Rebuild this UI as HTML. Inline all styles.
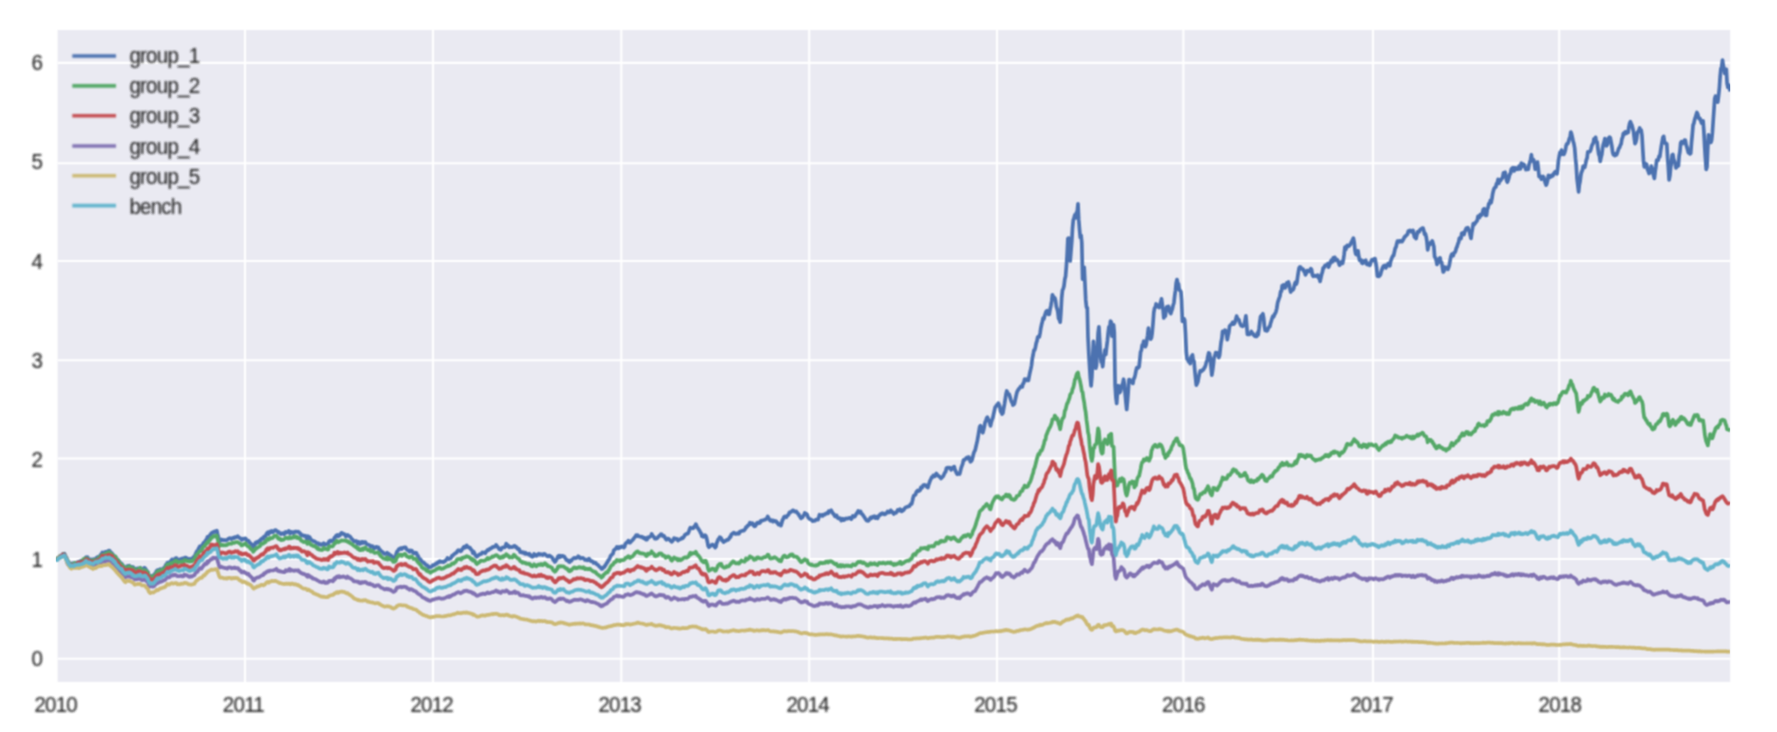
<!DOCTYPE html>
<html><head><meta charset="utf-8"><title>chart</title>
<style>
html,body{margin:0;padding:0;background:#fff;}
body{width:1777px;height:732px;overflow:hidden;}
svg{display:block;}
.t text{font-family:"Liberation Sans",Arial,sans-serif;font-size:20.5px;letter-spacing:-0.75px;}
</style></head><body>
<svg width="1777" height="732" viewBox="0 0 1777 732">
<defs><clipPath id="ax"><rect x="57.6" y="30.0" width="1672.6" height="651.9"/></clipPath><clipPath id="ln"><rect x="55.800000000000004" y="30.0" width="1674.4" height="651.9"/></clipPath><filter id="bl" filterUnits="userSpaceOnUse" x="0" y="0" width="1777" height="732" color-interpolation-filters="sRGB"><feConvolveMatrix order="3" kernelMatrix="1 2 1 2 4 2 1 2 1" divisor="16" edgeMode="duplicate" preserveAlpha="false" result="a"/><feConvolveMatrix in="a" order="3" kernelMatrix="1 2 1 2 4 2 1 2 1" divisor="16" edgeMode="duplicate" preserveAlpha="false"/></filter><filter id="bc" filterUnits="userSpaceOnUse" x="0" y="0" width="1777" height="732" color-interpolation-filters="sRGB"><feConvolveMatrix order="3" kernelMatrix="1 2 1 2 4 2 1 2 1" divisor="16" edgeMode="duplicate" preserveAlpha="false"/></filter><filter id="bt" filterUnits="userSpaceOnUse" x="0" y="0" width="1777" height="732"><feGaussianBlur stdDeviation="0.8"/></filter></defs>
<rect x="0" y="0" width="1777" height="732" fill="#fff"/>
<g filter="url(#bc)">
<rect x="57.6" y="30.0" width="1672.6" height="651.9" fill="#EAEAF2"/>
<g stroke="#fff" stroke-width="2.1" clip-path="url(#ax)">
<line x1="245.0" y1="30.0" x2="245.0" y2="681.9"/>
<line x1="433.0" y1="30.0" x2="433.0" y2="681.9"/>
<line x1="621.3" y1="30.0" x2="621.3" y2="681.9"/>
<line x1="809.2" y1="30.0" x2="809.2" y2="681.9"/>
<line x1="997.0" y1="30.0" x2="997.0" y2="681.9"/>
<line x1="1183.4" y1="30.0" x2="1183.4" y2="681.9"/>
<line x1="1373.0" y1="30.0" x2="1373.0" y2="681.9"/>
<line x1="1559.2" y1="30.0" x2="1559.2" y2="681.9"/>
<line x1="57.6" y1="658.8" x2="1730.2" y2="658.8"/>
<line x1="57.6" y1="559.0" x2="1730.2" y2="559.0"/>
<line x1="57.6" y1="458.5" x2="1730.2" y2="458.5"/>
<line x1="57.6" y1="360.2" x2="1730.2" y2="360.2"/>
<line x1="57.6" y1="261.0" x2="1730.2" y2="261.0"/>
<line x1="57.6" y1="163.3" x2="1730.2" y2="163.3"/>
<line x1="57.6" y1="62.9" x2="1730.2" y2="62.9"/>
</g>
</g>
<g clip-path="url(#ln)"><g fill="none" stroke-width="3.7" stroke-linejoin="round" stroke-linecap="butt" filter="url(#bc)">
<polyline stroke="#4C72B0" points="55.9,558.7 56.7,558.9 57.4,558.9 58.2,558.3 59.0,557.8 59.8,556.6 60.5,556.6 61.3,555.3 62.1,555.3 62.9,554.0 63.6,555.0 64.4,553.7 65.2,555.6 66.0,557.8 66.7,558.5 67.5,560.3 68.3,561.8 69.1,563.0 69.8,563.9 70.6,565.0 71.4,564.5 72.1,563.3 72.9,563.4 73.7,563.4 74.5,563.0 75.2,562.9 76.0,564.0 76.8,562.6 77.6,562.6 78.3,562.0 79.1,563.1 79.9,562.0 80.7,560.9 81.4,561.1 82.2,560.9 83.0,560.4 83.8,560.6 84.5,559.5 85.3,558.0 86.1,557.2 86.8,557.7 87.6,557.2 88.4,559.1 89.2,559.1 89.9,559.6 90.7,559.7 91.5,559.3 92.3,559.9 93.0,560.2 93.8,559.2 94.6,559.1 95.4,559.3 96.1,558.5 96.9,557.5 97.7,557.9 98.5,556.8 99.2,556.5 100.0,556.1 100.8,554.5 101.5,554.5 102.3,552.5 103.1,552.7 103.9,552.7 104.6,552.3 105.4,551.8 106.2,551.8 107.0,551.9 107.7,551.2 108.5,550.7 109.3,550.5 110.1,551.5 110.8,552.9 111.6,552.9 112.4,554.1 113.2,555.0 113.9,556.1 114.7,556.7 115.5,556.7 116.2,558.3 117.0,559.1 117.8,559.6 118.6,560.7 119.3,561.5 120.1,562.8 120.9,564.2 121.7,563.7 122.4,564.7 123.2,565.9 124.0,567.0 124.8,567.9 125.5,568.6 126.3,567.6 127.1,566.3 127.9,566.0 128.6,566.8 129.4,565.8 130.2,566.9 130.9,567.0 131.7,567.2 132.5,566.9 133.3,567.2 134.0,568.6 134.8,569.7 135.6,569.1 136.4,569.2 137.1,568.6 137.9,568.3 138.7,569.7 139.5,568.4 140.2,567.8 141.0,568.8 141.8,569.3 142.6,569.4 143.3,568.8 144.1,567.8 144.9,568.0 145.6,569.0 146.4,570.4 147.2,571.3 148.0,572.1 148.7,575.2 149.5,576.7 150.3,576.6 151.1,576.0 151.8,576.0 152.6,575.7 153.4,575.9 154.2,574.9 154.9,573.8 155.7,573.2 156.5,571.0 157.3,570.2 158.0,571.2 158.8,569.8 159.6,569.7 160.4,569.1 161.1,570.0 161.9,569.3 162.7,568.9 163.4,568.5 164.2,567.6 165.0,566.9 165.8,564.9 166.5,564.3 167.3,562.8 168.1,562.6 168.9,563.0 169.6,563.0 170.4,561.4 171.2,560.6 172.0,559.3 172.7,559.5 173.5,560.1 174.3,559.5 175.1,558.8 175.8,558.0 176.6,558.0 177.4,559.5 178.1,559.9 178.9,559.8 179.7,559.6 180.5,559.0 181.2,559.0 182.0,558.5 182.8,559.8 183.6,559.4 184.3,558.1 185.1,557.6 185.9,557.5 186.7,558.4 187.4,558.4 188.2,559.4 189.0,559.7 189.8,558.9 190.5,559.1 191.3,559.0 192.1,558.5 192.8,557.9 193.6,556.9 194.4,556.9 195.2,554.8 195.9,553.4 196.7,551.4 197.5,551.4 198.3,549.2 199.0,548.0 199.8,546.3 200.6,546.2 201.4,546.4 202.1,545.7 202.9,544.0 203.7,542.7 204.5,542.9 205.2,541.2 206.0,540.1 206.8,538.8 207.5,536.8 208.3,537.9 209.1,536.4 209.9,535.1 210.6,534.6 211.4,533.0 212.2,532.9 213.0,532.0 213.7,532.1 214.5,531.4 215.3,531.9 216.1,531.3 216.8,530.6 217.6,534.2 218.4,537.1 219.2,539.7 219.9,541.2 220.7,540.1 221.5,539.5 222.2,539.9 223.0,540.1 223.8,540.3 224.6,540.0 225.3,540.1 226.1,540.5 226.9,540.0 227.7,539.4 228.4,538.7 229.2,538.3 230.0,538.2 230.8,538.4 231.5,539.0 232.3,538.2 233.1,537.7 233.9,538.1 234.6,537.4 235.4,537.0 236.2,537.4 236.9,537.1 237.7,536.2 238.5,537.2 239.3,537.6 240.0,538.3 240.8,538.6 241.6,539.9 242.4,539.5 243.1,538.6 243.9,539.0 244.7,538.6 245.5,538.4 246.2,539.2 247.0,540.7 247.8,540.7 248.6,540.9 249.3,542.3 250.1,542.9 250.9,543.7 251.6,544.6 252.4,544.6 253.2,547.3 254.0,546.8 254.7,544.5 255.5,542.7 256.3,543.2 257.1,541.9 257.8,542.3 258.6,542.3 259.4,540.6 260.2,540.9 260.9,539.1 261.7,538.7 262.5,538.1 263.3,538.8 264.0,536.6 264.8,536.8 265.6,536.2 266.3,534.2 267.1,532.9 267.9,532.3 268.7,534.0 269.4,532.4 270.2,531.4 271.0,532.2 271.8,531.0 272.5,532.2 273.3,531.9 274.1,530.9 274.9,530.3 275.6,530.1 276.4,530.6 277.2,531.3 278.0,532.3 278.7,532.0 279.5,533.0 280.3,533.4 281.0,534.1 281.8,533.4 282.6,533.3 283.4,533.1 284.1,534.2 284.9,533.5 285.7,531.9 286.5,532.5 287.2,532.0 288.0,532.4 288.8,530.9 289.6,531.5 290.3,533.5 291.1,532.0 291.9,532.6 292.7,532.1 293.4,533.0 294.2,532.6 295.0,531.6 295.7,531.6 296.5,531.5 297.3,532.0 298.1,531.6 298.8,532.0 299.6,533.0 300.4,533.6 301.2,535.2 301.9,535.5 302.7,535.1 303.5,535.9 304.3,536.0 305.0,535.7 305.8,536.1 306.6,538.4 307.4,539.5 308.1,536.2 308.9,537.1 309.7,537.1 310.4,539.0 311.2,539.7 312.0,540.3 312.8,540.8 313.5,541.2 314.3,541.2 315.1,541.7 315.9,542.4 316.6,543.1 317.4,543.4 318.2,543.2 319.0,544.5 319.7,544.1 320.5,544.0 321.3,544.9 322.1,544.6 322.8,544.0 323.6,543.2 324.4,543.9 325.1,544.8 325.9,544.0 326.7,544.2 327.5,544.0 328.2,544.0 329.0,541.4 329.8,541.0 330.6,540.4 331.3,541.3 332.1,540.9 332.9,540.9 333.7,539.9 334.4,537.7 335.2,537.3 336.0,535.8 336.8,535.2 337.5,534.9 338.3,536.4 339.1,535.2 339.9,535.3 340.6,533.9 341.4,532.9 342.2,533.0 342.9,533.8 343.7,534.2 344.5,534.1 345.3,535.1 346.0,536.6 346.8,535.7 347.6,535.0 348.4,535.6 349.1,536.2 349.9,536.3 350.7,537.3 351.5,538.7 352.2,539.2 353.0,540.2 353.8,541.3 354.6,541.4 355.3,541.5 356.1,540.9 356.9,541.6 357.6,543.6 358.4,541.8 359.2,543.8 360.0,543.9 360.7,543.5 361.5,542.1 362.3,541.8 363.1,543.0 363.8,542.2 364.6,542.1 365.4,542.2 366.2,543.6 366.9,544.3 367.7,544.5 368.5,544.8 369.3,545.3 370.0,545.3 370.8,546.8 371.6,546.1 372.3,546.0 373.1,546.5 373.9,548.7 374.7,547.9 375.4,547.8 376.2,546.8 377.0,547.0 377.8,547.8 378.5,547.4 379.3,549.5 380.1,549.7 380.9,551.2 381.6,551.4 382.4,552.0 383.2,552.6 384.0,553.8 384.7,553.8 385.5,553.9 386.3,553.7 387.0,552.8 387.8,554.2 388.6,553.7 389.4,554.7 390.1,555.3 390.9,555.3 391.7,556.2 392.5,557.2 393.2,557.4 394.0,557.4 394.8,557.2 395.6,556.6 396.3,553.5 397.1,551.5 397.9,550.8 398.7,549.3 399.4,548.8 400.2,548.4 401.0,548.1 401.7,549.1 402.5,548.0 403.3,547.5 404.1,547.6 404.8,547.4 405.6,547.4 406.4,549.0 407.2,549.9 407.9,550.2 408.7,550.5 409.5,551.7 410.3,550.4 411.0,550.7 411.8,550.6 412.6,552.2 413.4,553.2 414.1,553.3 414.9,552.7 415.7,552.8 416.4,552.9 417.2,555.2 418.0,555.7 418.8,557.6 419.5,559.3 420.3,559.1 421.1,560.3 421.9,561.7 422.6,562.0 423.4,562.2 424.2,563.3 425.0,563.7 425.7,564.7 426.5,565.2 427.3,565.4 428.1,566.9 428.8,567.4 429.6,566.8 430.4,567.3 431.1,566.8 431.9,566.4 432.7,565.1 433.5,565.5 434.2,564.9 435.0,564.7 435.8,563.6 436.6,563.8 437.3,562.7 438.1,562.9 438.9,561.8 439.7,561.2 440.4,561.6 441.2,562.0 442.0,561.6 442.8,562.0 443.5,562.2 444.3,561.4 445.1,561.2 445.8,560.2 446.6,559.5 447.4,558.0 448.2,558.5 448.9,559.0 449.7,558.3 450.5,558.5 451.3,557.3 452.0,555.8 452.8,555.6 453.6,554.5 454.4,554.0 455.1,553.4 455.9,553.0 456.7,552.5 457.5,550.8 458.2,550.2 459.0,550.4 459.8,550.6 460.5,551.3 461.3,550.9 462.1,549.4 462.9,548.6 463.6,547.2 464.4,546.6 465.2,547.6 466.0,546.8 466.7,545.5 467.5,546.9 468.3,547.1 469.1,547.7 469.8,547.5 470.6,548.9 471.4,549.8 472.2,550.7 472.9,553.2 473.7,551.6 474.5,553.5 475.2,554.7 476.0,556.0 476.8,556.8 477.6,556.0 478.3,555.4 479.1,554.8 479.9,554.2 480.7,554.1 481.4,554.0 482.2,552.5 483.0,552.8 483.8,552.6 484.5,552.6 485.3,553.2 486.1,551.5 486.9,550.9 487.6,549.9 488.4,550.2 489.2,549.6 489.9,548.5 490.7,548.7 491.5,548.1 492.3,547.2 493.0,547.3 493.8,546.7 494.6,546.5 495.4,546.6 496.1,544.9 496.9,546.1 497.7,546.8 498.5,547.8 499.2,549.1 500.0,549.2 500.8,549.9 501.6,548.2 502.3,547.5 503.1,547.4 503.9,547.2 504.6,547.4 505.4,546.3 506.2,543.7 507.0,544.6 507.7,546.2 508.5,545.8 509.3,547.4 510.1,546.9 510.8,546.8 511.6,547.2 512.4,547.0 513.2,546.6 513.9,546.0 514.7,545.8 515.5,547.1 516.3,546.9 517.0,548.2 517.8,549.2 518.6,548.7 519.3,549.3 520.1,552.0 520.9,551.7 521.7,552.5 522.4,552.7 523.2,552.1 524.0,553.1 524.8,553.7 525.5,552.8 526.3,554.0 527.1,553.8 527.9,553.8 528.6,554.7 529.4,553.8 530.2,554.7 531.0,556.1 531.7,556.1 532.5,556.8 533.3,556.3 534.1,554.0 534.8,554.9 535.6,555.1 536.4,555.7 537.1,554.9 537.9,554.5 538.7,553.8 539.5,554.7 540.2,554.6 541.0,554.2 541.8,554.4 542.6,555.0 543.3,554.4 544.1,553.9 544.9,554.0 545.7,554.8 546.4,555.4 547.2,556.0 548.0,556.4 548.8,555.6 549.5,555.7 550.3,556.1 551.1,556.8 551.8,557.3 552.6,558.2 553.4,560.2 554.2,560.3 554.9,561.9 555.7,561.0 556.5,559.4 557.3,558.3 558.0,556.4 558.8,555.8 559.6,557.3 560.4,555.8 561.1,556.6 561.9,556.1 562.7,555.8 563.5,556.2 564.2,556.5 565.0,557.9 565.8,558.8 566.5,560.1 567.3,559.9 568.1,560.7 568.9,561.8 569.6,562.1 570.4,560.3 571.2,560.9 572.0,559.7 572.7,559.1 573.5,558.3 574.3,557.8 575.1,558.3 575.8,558.2 576.6,557.6 577.4,557.6 578.2,556.3 578.9,557.6 579.7,557.2 580.5,558.4 581.2,558.2 582.0,558.0 582.8,557.9 583.6,558.3 584.3,559.0 585.1,560.0 585.9,559.8 586.7,559.7 587.4,560.4 588.2,559.4 589.0,558.7 589.8,559.7 590.5,560.9 591.3,561.2 592.1,561.2 592.9,561.8 593.6,562.9 594.4,562.7 595.2,562.7 595.9,563.0 596.7,564.5 597.5,564.5 598.3,565.3 599.0,566.2 599.8,567.1 600.6,567.4 601.4,568.8 602.1,568.9 602.9,568.4 603.7,567.1 604.5,566.9 605.2,565.4 606.0,564.6 606.8,562.8 607.6,562.3 608.3,560.1 609.1,559.6 609.9,558.0 610.6,555.9 611.4,555.0 612.2,554.4 613.0,553.7 613.7,550.6 614.5,549.7 615.3,549.1 616.1,548.4 616.8,547.0 617.6,547.6 618.4,548.4 619.2,547.0 619.9,547.6 620.7,547.4 621.5,546.4 622.3,546.6 623.0,546.6 623.8,547.6 624.6,546.7 625.3,543.9 626.1,543.2 626.9,542.4 627.7,541.9 628.4,540.6 629.2,542.6 630.0,542.7 630.8,541.9 631.5,541.1 632.3,540.1 633.1,539.6 633.9,538.3 634.6,537.4 635.4,536.7 636.2,535.1 637.0,536.0 637.7,535.2 638.5,536.2 639.3,536.4 640.0,536.5 640.8,537.0 641.6,536.7 642.4,537.0 643.1,538.0 643.9,537.7 644.7,537.9 645.5,539.2 646.2,539.7 647.0,539.7 647.8,537.5 648.6,537.7 649.3,537.1 650.1,536.4 650.9,536.1 651.7,534.0 652.4,535.3 653.2,536.4 654.0,536.8 654.7,538.6 655.5,538.7 656.3,538.7 657.1,538.2 657.8,537.4 658.6,536.6 659.4,535.6 660.2,535.5 660.9,534.2 661.7,534.4 662.5,536.0 663.3,536.1 664.0,535.9 664.8,537.2 665.6,538.8 666.4,539.7 667.1,539.2 667.9,538.6 668.7,538.8 669.4,539.4 670.2,540.5 671.0,541.2 671.8,541.9 672.5,540.8 673.3,539.9 674.1,538.1 674.9,538.8 675.6,538.7 676.4,538.8 677.2,539.1 678.0,540.6 678.7,539.6 679.5,539.5 680.3,539.3 681.1,538.7 681.8,538.0 682.6,538.4 683.4,537.3 684.1,536.5 684.9,534.8 685.7,534.4 686.5,533.8 687.2,533.8 688.0,533.5 688.8,531.7 689.6,529.2 690.3,527.7 691.1,528.2 691.9,528.2 692.7,528.3 693.4,528.0 694.2,526.6 695.0,526.0 695.8,524.1 696.5,525.6 697.3,527.7 698.1,528.3 698.8,529.6 699.6,530.6 700.4,532.5 701.2,533.5 701.9,536.2 702.7,535.2 703.5,536.8 704.3,535.5 705.0,535.1 705.8,535.8 706.6,538.1 707.4,541.8 708.1,545.8 708.9,547.2 709.7,546.4 710.5,545.6 711.2,545.7 712.0,544.7 712.8,544.6 713.6,545.4 714.3,546.3 715.1,547.6 715.9,546.8 716.6,543.3 717.4,541.6 718.2,539.4 719.0,538.7 719.7,537.2 720.5,537.5 721.3,538.4 722.1,540.6 722.8,540.6 723.6,542.1 724.4,541.0 725.2,541.1 725.9,540.8 726.7,539.9 727.5,540.0 728.3,539.7 729.0,538.8 729.8,537.1 730.6,537.1 731.3,534.5 732.1,533.9 732.9,533.3 733.7,532.6 734.4,533.1 735.2,533.9 736.0,534.0 736.8,533.8 737.5,533.1 738.3,533.8 739.1,533.6 739.9,531.6 740.6,531.5 741.4,531.0 742.2,530.8 743.0,530.7 743.7,530.7 744.5,529.9 745.3,528.9 746.0,527.1 746.8,527.2 747.6,525.7 748.4,525.4 749.1,524.5 749.9,522.7 750.7,524.1 751.5,523.5 752.2,523.1 753.0,523.7 753.8,525.9 754.6,526.3 755.3,526.0 756.1,524.7 756.9,523.1 757.7,522.6 758.4,522.6 759.2,523.2 760.0,522.8 760.7,520.8 761.5,520.7 762.3,520.7 763.1,520.2 763.8,520.0 764.6,519.7 765.4,519.6 766.2,518.9 766.9,518.3 767.7,516.5 768.5,517.7 769.3,519.4 770.0,520.4 770.8,520.9 771.6,520.2 772.4,520.4 773.1,521.7 773.9,520.6 774.7,521.0 775.4,521.1 776.2,521.3 777.0,522.8 777.8,522.8 778.5,524.7 779.3,524.7 780.1,524.0 780.9,525.6 781.6,523.5 782.4,520.2 783.2,519.1 784.0,516.9 784.7,516.4 785.5,516.7 786.3,517.2 787.1,516.0 787.8,515.2 788.6,514.7 789.4,512.5 790.1,512.0 790.9,512.1 791.7,511.4 792.5,510.6 793.2,510.4 794.0,510.8 794.8,511.6 795.6,511.8 796.3,511.4 797.1,512.7 797.9,513.7 798.7,514.3 799.4,516.0 800.2,516.8 801.0,518.3 801.8,517.7 802.5,517.3 803.3,515.7 804.1,514.8 804.8,512.9 805.6,514.3 806.4,513.9 807.2,514.7 807.9,517.1 808.7,518.1 809.5,519.0 810.3,519.2 811.0,519.5 811.8,520.2 812.6,521.2 813.4,521.0 814.1,520.6 814.9,520.8 815.7,519.8 816.5,519.6 817.2,519.5 818.0,519.6 818.8,517.1 819.5,514.7 820.3,515.7 821.1,515.7 821.9,514.9 822.6,515.9 823.4,514.7 824.2,514.6 825.0,514.6 825.7,513.5 826.5,513.5 827.3,512.7 828.1,513.4 828.8,511.1 829.6,511.6 830.4,511.1 831.2,510.3 831.9,511.6 832.7,513.1 833.5,513.9 834.2,514.9 835.0,516.4 835.8,515.8 836.6,515.4 837.3,517.5 838.1,518.3 838.9,518.2 839.7,518.0 840.4,518.6 841.2,520.5 842.0,519.9 842.8,518.7 843.5,520.1 844.3,519.9 845.1,519.1 845.9,518.3 846.6,518.7 847.4,518.6 848.2,518.4 848.9,518.0 849.7,517.8 850.5,517.9 851.3,519.1 852.0,517.8 852.8,516.0 853.6,516.3 854.4,516.8 855.1,516.1 855.9,514.6 856.7,513.3 857.5,512.5 858.2,510.9 859.0,512.6 859.8,512.5 860.6,511.5 861.3,513.5 862.1,514.1 862.9,515.0 863.6,516.1 864.4,517.1 865.2,518.5 866.0,519.7 866.7,520.6 867.5,520.6 868.3,520.9 869.1,519.8 869.8,518.6 870.6,517.5 871.4,518.3 872.2,517.6 872.9,516.6 873.7,516.8 874.5,516.1 875.3,518.1 876.0,517.4 876.8,516.8 877.6,518.3 878.3,516.7 879.1,515.4 879.9,515.2 880.7,513.9 881.4,514.1 882.2,513.2 883.0,513.8 883.8,513.7 884.5,514.4 885.3,514.1 886.1,513.0 886.9,512.9 887.6,511.5 888.4,512.1 889.2,512.4 890.0,512.1 890.7,510.3 891.5,511.6 892.3,511.8 893.0,512.9 893.8,514.0 894.6,512.8 895.4,513.0 896.1,512.7 896.9,511.5 897.7,510.0 898.5,510.5 899.2,510.6 900.0,509.2 900.8,509.7 901.6,511.4 902.3,510.3 903.1,510.5 903.9,509.5 904.7,508.5 905.4,507.5 906.2,507.3 907.0,506.8 907.8,506.7 908.5,506.2 909.3,506.2 910.1,504.9 910.8,504.0 911.6,503.9 912.4,501.0 913.2,497.4 913.9,495.5 914.7,495.2 915.5,494.6 916.3,492.1 917.0,491.2 917.8,490.4 918.6,491.1 919.4,490.6 920.1,490.3 920.9,487.4 921.7,488.1 922.5,487.1 923.2,485.2 924.0,484.9 924.8,485.0 925.5,485.0 926.3,486.2 927.1,487.2 927.9,487.6 928.6,484.9 929.4,482.7 930.2,480.3 931.0,478.9 931.7,477.2 932.5,477.4 933.3,475.5 934.1,476.3 934.8,476.4 935.6,474.8 936.4,473.5 937.2,474.9 937.9,475.3 938.7,476.1 939.5,476.6 940.2,477.4 941.0,478.5 941.8,477.2 942.6,477.0 943.3,476.0 944.1,474.3 944.9,472.5 945.7,471.7 946.4,468.3 947.2,467.7 948.0,468.0 948.8,467.6 949.5,467.8 950.3,467.9 951.1,469.9 951.9,468.4 952.6,468.6 953.4,467.1 954.2,466.7 954.9,469.0 955.7,471.3 956.5,473.1 957.3,474.3 958.0,473.6 958.8,473.8 959.6,474.0 960.4,471.2 961.1,468.2 961.9,465.9 962.7,463.8 963.5,460.1 964.2,460.4 965.0,459.1 965.8,458.7 966.6,457.7 967.3,458.5 968.1,457.1 968.9,457.2 969.6,458.7 970.4,461.8 971.2,461.2 972.0,460.0 972.7,457.2 973.5,453.8 974.3,451.6 975.1,450.3 975.8,447.3 976.6,443.9 977.4,440.4 978.2,435.7 978.9,431.6 979.7,426.8 980.5,425.7 981.3,428.9 982.0,431.3 982.8,432.7 983.6,429.8 984.3,426.6 985.1,422.4 985.9,420.7 986.7,418.1 987.4,417.2 988.2,419.5 989.0,420.7 989.8,423.2 990.5,425.9 991.3,422.1 992.1,419.6 992.9,417.5 993.6,414.2 994.4,410.7 995.2,407.1 996.0,406.6 996.7,405.0 997.5,404.8 998.3,403.2 999.0,404.6 999.8,406.6 1000.6,411.3 1001.4,412.4 1002.1,414.0 1002.9,413.1 1003.7,408.3 1004.5,404.1 1005.2,399.4 1006.0,394.3 1006.8,391.0 1007.6,393.0 1008.3,394.2 1009.1,394.2 1009.9,396.5 1010.7,399.5 1011.4,401.5 1012.2,402.7 1013.0,405.1 1013.7,404.6 1014.5,403.4 1015.3,399.7 1016.1,395.9 1016.8,392.8 1017.6,390.8 1018.4,389.6 1019.2,388.4 1019.9,387.8 1020.7,386.3 1021.5,386.4 1022.3,386.8 1023.0,383.7 1023.8,383.0 1024.6,379.1 1025.4,379.5 1026.1,379.2 1026.9,380.3 1027.7,380.2 1028.4,380.3 1029.2,376.1 1030.0,372.2 1030.8,368.9 1031.5,365.5 1032.3,358.6 1033.1,355.0 1033.9,350.4 1034.6,350.2 1035.4,347.5 1036.2,343.2 1037.0,340.8 1037.7,337.2 1038.5,336.5 1039.3,336.9 1040.1,333.0 1040.8,328.3 1041.6,324.5 1042.4,321.4 1043.1,318.2 1043.9,318.8 1044.7,315.8 1045.5,313.2 1046.2,311.3 1047.0,310.8 1047.8,311.9 1048.6,314.3 1049.3,314.3 1050.1,309.3 1050.9,305.6 1051.7,301.0 1052.4,294.8 1053.2,296.4 1054.0,297.3 1054.8,297.9 1055.5,300.2 1056.3,306.5 1057.1,308.8 1057.8,311.6 1058.6,318.6 1059.4,319.4 1060.2,322.2 1060.9,312.5 1061.7,297.7 1062.5,290.1 1063.3,288.6 1064.0,286.0 1064.8,279.3 1065.6,276.2 1066.4,265.9 1067.1,255.3 1067.9,238.4 1068.7,238.1 1069.5,256.7 1070.2,261.0 1071.0,250.9 1071.8,241.1 1072.5,228.5 1073.3,220.0 1074.1,217.6 1074.9,214.9 1075.6,217.9 1076.4,212.7 1077.2,212.0 1078.0,203.9 1078.7,219.2 1079.5,229.1 1080.3,237.5 1081.1,235.4 1081.8,242.6 1082.6,279.1 1083.4,273.6 1084.2,267.4 1084.9,282.2 1085.7,299.7 1086.5,307.4 1087.3,307.7 1088.0,337.3 1088.8,353.7 1089.6,366.7 1090.3,377.7 1091.1,385.9 1091.9,376.6 1092.7,358.1 1093.4,341.4 1094.2,352.5 1095.0,360.5 1095.8,368.2 1096.5,365.3 1097.3,349.5 1098.1,333.3 1098.9,326.9 1099.6,339.0 1100.4,355.0 1101.2,362.0 1102.0,362.1 1102.7,366.6 1103.5,358.9 1104.3,354.2 1105.0,349.8 1105.8,354.5 1106.6,347.2 1107.4,341.0 1108.1,333.5 1108.9,326.9 1109.7,329.9 1110.5,321.1 1111.2,321.9 1112.0,336.1 1112.8,331.0 1113.6,324.9 1114.3,332.5 1115.1,385.0 1115.9,397.3 1116.7,403.4 1117.4,393.0 1118.2,385.6 1119.0,388.4 1119.7,392.7 1120.5,391.3 1121.3,387.8 1122.1,384.8 1122.8,383.6 1123.6,379.2 1124.4,383.7 1125.2,394.4 1125.9,402.0 1126.7,409.5 1127.5,401.0 1128.3,390.2 1129.0,379.6 1129.8,379.8 1130.6,381.4 1131.4,381.8 1132.1,381.1 1132.9,383.4 1133.7,378.7 1134.4,378.1 1135.2,374.9 1136.0,370.8 1136.8,367.7 1137.5,367.5 1138.3,367.8 1139.1,366.5 1139.9,359.0 1140.6,352.0 1141.4,350.3 1142.2,345.0 1143.0,344.8 1143.7,341.0 1144.5,343.2 1145.3,346.7 1146.1,345.0 1146.8,340.4 1147.6,335.5 1148.4,328.2 1149.1,336.3 1149.9,337.2 1150.7,339.1 1151.5,337.6 1152.2,332.7 1153.0,323.6 1153.8,312.4 1154.6,308.1 1155.3,307.6 1156.1,304.0 1156.9,305.1 1157.7,306.4 1158.4,306.5 1159.2,307.5 1160.0,304.4 1160.8,301.8 1161.5,298.8 1162.3,304.5 1163.1,309.9 1163.8,318.0 1164.6,315.4 1165.4,315.9 1166.2,308.6 1166.9,306.8 1167.7,309.8 1168.5,306.4 1169.3,309.8 1170.0,312.2 1170.8,313.6 1171.6,310.7 1172.4,308.7 1173.1,305.3 1173.9,303.0 1174.7,295.8 1175.5,290.2 1176.2,283.0 1177.0,279.6 1177.8,284.2 1178.5,283.9 1179.3,289.9 1180.1,290.5 1180.9,291.7 1181.6,300.2 1182.4,321.4 1183.2,319.4 1184.0,318.7 1184.7,320.3 1185.5,333.3 1186.3,352.0 1187.1,359.0 1187.8,359.6 1188.6,361.7 1189.4,361.5 1190.2,363.5 1190.9,357.6 1191.7,356.2 1192.5,354.9 1193.2,360.0 1194.0,361.2 1194.8,370.3 1195.6,378.5 1196.3,385.1 1197.1,383.6 1197.9,381.8 1198.7,377.1 1199.4,373.8 1200.2,371.0 1201.0,371.5 1201.8,371.1 1202.5,369.9 1203.3,369.9 1204.1,368.3 1204.9,367.1 1205.6,365.4 1206.4,362.1 1207.2,360.1 1207.9,356.3 1208.7,352.8 1209.5,353.6 1210.3,358.5 1211.0,366.3 1211.8,375.1 1212.6,370.5 1213.4,364.1 1214.1,357.6 1214.9,355.7 1215.7,352.6 1216.5,353.1 1217.2,352.9 1218.0,353.9 1218.8,357.5 1219.6,355.4 1220.3,348.9 1221.1,342.1 1221.9,338.5 1222.6,331.3 1223.4,332.3 1224.2,331.8 1225.0,330.1 1225.7,330.8 1226.5,335.0 1227.3,339.6 1228.1,335.3 1228.8,332.5 1229.6,326.0 1230.4,325.2 1231.2,324.4 1231.9,324.2 1232.7,322.3 1233.5,324.2 1234.3,323.6 1235.0,322.3 1235.8,319.3 1236.6,316.1 1237.3,318.2 1238.1,319.1 1238.9,319.9 1239.7,322.4 1240.4,324.0 1241.2,325.8 1242.0,326.0 1242.8,326.3 1243.5,325.7 1244.3,324.7 1245.1,320.4 1245.9,315.9 1246.6,323.7 1247.4,334.4 1248.2,334.4 1249.0,333.4 1249.7,334.3 1250.5,333.4 1251.3,331.5 1252.0,333.4 1252.8,333.4 1253.6,334.9 1254.4,335.5 1255.1,336.4 1255.9,335.2 1256.7,336.4 1257.5,333.0 1258.2,334.7 1259.0,329.0 1259.8,322.2 1260.6,316.5 1261.3,315.8 1262.1,315.2 1262.9,313.8 1263.7,318.3 1264.4,326.2 1265.2,330.5 1266.0,330.1 1266.8,330.9 1267.5,330.3 1268.3,328.2 1269.1,326.9 1269.8,326.7 1270.6,323.2 1271.4,320.7 1272.2,318.0 1272.9,316.1 1273.7,316.7 1274.5,314.5 1275.3,313.2 1276.0,311.7 1276.8,308.3 1277.6,303.0 1278.4,300.4 1279.1,298.3 1279.9,296.4 1280.7,291.4 1281.5,291.3 1282.2,285.6 1283.0,288.3 1283.8,284.8 1284.5,287.2 1285.3,287.9 1286.1,285.9 1286.9,282.8 1287.6,282.9 1288.4,282.0 1289.2,284.5 1290.0,289.0 1290.7,292.0 1291.5,290.1 1292.3,290.1 1293.1,289.6 1293.8,288.2 1294.6,284.5 1295.4,282.3 1296.2,284.2 1296.9,282.6 1297.7,276.5 1298.5,271.3 1299.2,267.7 1300.0,266.9 1300.8,267.4 1301.6,268.8 1302.3,268.8 1303.1,269.2 1303.9,271.2 1304.7,272.1 1305.4,274.9 1306.2,273.4 1307.0,270.7 1307.8,270.8 1308.5,270.6 1309.3,271.4 1310.1,271.1 1310.9,268.7 1311.6,269.8 1312.4,275.0 1313.2,276.2 1313.9,275.6 1314.7,275.6 1315.5,276.2 1316.3,275.5 1317.0,275.6 1317.8,275.1 1318.6,278.1 1319.4,277.8 1320.1,281.4 1320.9,277.7 1321.7,274.2 1322.5,271.6 1323.2,267.8 1324.0,267.9 1324.8,265.9 1325.6,265.1 1326.3,265.4 1327.1,265.7 1327.9,263.6 1328.6,267.2 1329.4,265.0 1330.2,263.4 1331.0,260.9 1331.7,259.9 1332.5,261.8 1333.3,258.0 1334.1,260.5 1334.8,257.3 1335.6,260.3 1336.4,259.7 1337.2,259.7 1337.9,260.8 1338.7,262.8 1339.5,265.2 1340.3,264.3 1341.0,263.5 1341.8,261.8 1342.6,263.3 1343.3,260.2 1344.1,254.7 1344.9,247.2 1345.7,249.5 1346.4,247.8 1347.2,245.4 1348.0,245.3 1348.8,246.0 1349.5,245.4 1350.3,244.5 1351.1,242.7 1351.9,241.2 1352.6,239.8 1353.4,238.1 1354.2,242.3 1355.0,250.1 1355.7,253.9 1356.5,254.6 1357.3,253.9 1358.0,250.8 1358.8,256.4 1359.6,260.5 1360.4,260.6 1361.1,259.9 1361.9,263.1 1362.7,263.4 1363.5,262.3 1364.2,260.8 1365.0,261.0 1365.8,260.3 1366.6,264.1 1367.3,264.6 1368.1,264.2 1368.9,263.4 1369.7,265.4 1370.4,263.8 1371.2,261.0 1372.0,259.6 1372.7,260.0 1373.5,260.5 1374.3,258.8 1375.1,258.7 1375.8,262.8 1376.6,267.8 1377.4,276.1 1378.2,275.0 1378.9,276.4 1379.7,275.7 1380.5,274.5 1381.3,271.4 1382.0,269.5 1382.8,267.2 1383.6,266.0 1384.4,266.7 1385.1,265.4 1385.9,267.9 1386.7,265.9 1387.4,265.2 1388.2,263.6 1389.0,264.7 1389.8,265.8 1390.5,261.9 1391.3,259.5 1392.1,257.4 1392.9,255.8 1393.6,255.7 1394.4,252.0 1395.2,248.3 1396.0,247.1 1396.7,244.0 1397.5,241.1 1398.3,241.6 1399.1,241.0 1399.8,241.7 1400.6,240.9 1401.4,241.4 1402.1,241.6 1402.9,240.1 1403.7,238.9 1404.5,236.9 1405.2,236.7 1406.0,235.5 1406.8,234.9 1407.6,234.0 1408.3,231.1 1409.1,231.3 1409.9,230.3 1410.7,230.7 1411.4,231.8 1412.2,232.1 1413.0,230.5 1413.8,234.0 1414.5,237.2 1415.3,237.5 1416.1,238.6 1416.8,235.2 1417.6,231.9 1418.4,232.3 1419.2,231.8 1419.9,229.9 1420.7,229.3 1421.5,228.8 1422.3,228.0 1423.0,228.0 1423.8,230.7 1424.6,234.4 1425.4,233.8 1426.1,236.4 1426.9,241.1 1427.7,249.8 1428.5,245.6 1429.2,244.9 1430.0,244.4 1430.8,242.5 1431.5,243.2 1432.3,240.9 1433.1,243.8 1433.9,246.8 1434.6,256.5 1435.4,257.9 1436.2,260.2 1437.0,264.4 1437.7,262.8 1438.5,260.4 1439.3,258.4 1440.1,257.9 1440.8,262.4 1441.6,262.3 1442.4,267.3 1443.2,272.0 1443.9,271.4 1444.7,267.0 1445.5,267.2 1446.2,268.2 1447.0,267.7 1447.8,269.4 1448.6,267.6 1449.3,265.2 1450.1,260.6 1450.9,256.4 1451.7,254.3 1452.4,254.0 1453.2,255.7 1454.0,252.7 1454.8,252.5 1455.5,251.3 1456.3,248.2 1457.1,246.6 1457.9,243.8 1458.6,242.3 1459.4,238.0 1460.2,239.1 1461.0,238.5 1461.7,233.5 1462.5,232.8 1463.3,233.0 1464.0,234.5 1464.8,231.7 1465.6,229.8 1466.4,228.2 1467.1,228.5 1467.9,227.7 1468.7,230.4 1469.5,231.4 1470.2,235.1 1471.0,238.4 1471.8,232.3 1472.6,227.9 1473.3,223.5 1474.1,224.7 1474.9,223.5 1475.7,222.5 1476.4,221.5 1477.2,220.5 1478.0,216.3 1478.7,215.9 1479.5,217.5 1480.3,214.7 1481.1,215.4 1481.8,215.1 1482.6,212.3 1483.4,209.3 1484.2,208.8 1484.9,210.9 1485.7,215.5 1486.5,215.4 1487.3,209.1 1488.0,207.9 1488.8,203.5 1489.6,203.8 1490.4,200.3 1491.1,202.7 1491.9,198.9 1492.7,193.6 1493.4,190.7 1494.2,188.4 1495.0,187.4 1495.8,187.0 1496.5,183.7 1497.3,182.8 1498.1,179.4 1498.9,183.5 1499.6,180.0 1500.4,180.8 1501.2,179.4 1502.0,178.4 1502.7,177.3 1503.5,172.8 1504.3,173.0 1505.1,172.3 1505.8,175.7 1506.6,180.5 1507.4,182.2 1508.1,180.3 1508.9,177.6 1509.7,174.4 1510.5,173.3 1511.2,169.5 1512.0,168.3 1512.8,167.8 1513.6,170.9 1514.3,170.8 1515.1,167.9 1515.9,168.4 1516.7,169.1 1517.4,169.3 1518.2,167.7 1519.0,166.3 1519.8,168.9 1520.5,168.7 1521.3,163.0 1522.1,166.2 1522.8,163.9 1523.6,164.2 1524.4,165.0 1525.2,167.7 1525.9,169.6 1526.7,168.7 1527.5,169.4 1528.3,169.2 1529.0,164.6 1529.8,162.4 1530.6,159.4 1531.4,154.7 1532.1,160.7 1532.9,159.5 1533.7,159.9 1534.5,164.4 1535.2,169.2 1536.0,166.6 1536.8,164.0 1537.5,162.1 1538.3,168.6 1539.1,176.6 1539.9,176.0 1540.6,176.4 1541.4,179.3 1542.2,176.8 1543.0,176.5 1543.7,177.3 1544.5,180.0 1545.3,182.9 1546.1,185.1 1546.8,183.6 1547.6,180.6 1548.4,175.4 1549.2,175.8 1549.9,177.3 1550.7,175.8 1551.5,176.5 1552.2,175.2 1553.0,175.5 1553.8,173.4 1554.6,172.5 1555.3,171.6 1556.1,172.3 1556.9,173.9 1557.7,168.9 1558.4,161.0 1559.2,156.2 1560.0,152.4 1560.8,153.9 1561.5,150.0 1562.3,154.3 1563.1,152.8 1563.9,154.4 1564.6,152.7 1565.4,150.0 1566.2,145.3 1566.9,143.9 1567.7,143.8 1568.5,141.8 1569.3,138.6 1570.0,138.1 1570.8,132.0 1571.6,134.2 1572.4,137.7 1573.1,140.9 1573.9,143.8 1574.7,148.3 1575.5,158.4 1576.2,165.2 1577.0,178.5 1577.8,184.9 1578.6,191.9 1579.3,185.0 1580.1,181.3 1580.9,174.8 1581.6,172.0 1582.4,170.3 1583.2,166.2 1584.0,166.0 1584.7,167.3 1585.5,164.1 1586.3,160.0 1587.1,158.0 1587.8,151.9 1588.6,152.3 1589.4,151.8 1590.2,151.2 1590.9,149.4 1591.7,146.1 1592.5,144.2 1593.3,143.0 1594.0,138.9 1594.8,139.8 1595.6,137.3 1596.3,141.8 1597.1,142.1 1597.9,148.4 1598.7,154.3 1599.4,155.5 1600.2,161.3 1601.0,157.6 1601.8,154.6 1602.5,148.9 1603.3,144.6 1604.1,142.2 1604.9,138.6 1605.6,142.2 1606.4,145.8 1607.2,144.8 1608.0,141.1 1608.7,138.2 1609.5,137.1 1610.3,137.9 1611.0,141.7 1611.8,145.8 1612.6,152.0 1613.4,154.6 1614.1,153.5 1614.9,155.6 1615.7,154.2 1616.5,154.7 1617.2,153.2 1618.0,150.7 1618.8,148.3 1619.6,147.5 1620.3,145.2 1621.1,144.0 1621.9,139.0 1622.7,137.1 1623.4,133.3 1624.2,134.3 1625.0,132.0 1625.7,131.8 1626.5,133.3 1627.3,132.3 1628.1,132.4 1628.8,127.6 1629.6,123.5 1630.4,121.7 1631.2,123.8 1631.9,125.2 1632.7,128.3 1633.5,131.6 1634.3,138.4 1635.0,143.6 1635.8,142.2 1636.6,138.8 1637.4,132.5 1638.1,131.7 1638.9,130.3 1639.7,128.0 1640.5,131.5 1641.2,130.2 1642.0,135.8 1642.8,149.6 1643.5,160.7 1644.3,166.8 1645.1,163.3 1645.9,165.9 1646.6,164.3 1647.4,169.2 1648.2,171.0 1649.0,173.5 1649.7,172.5 1650.5,170.0 1651.3,166.0 1652.1,168.3 1652.8,172.9 1653.6,175.5 1654.4,178.4 1655.2,171.1 1655.9,166.6 1656.7,160.2 1657.5,159.8 1658.2,160.1 1659.0,156.5 1659.8,156.7 1660.6,151.1 1661.3,146.4 1662.1,142.0 1662.9,137.6 1663.7,136.4 1664.4,141.3 1665.2,143.3 1666.0,143.3 1666.8,143.9 1667.5,156.4 1668.3,166.8 1669.1,179.9 1669.9,175.6 1670.6,168.3 1671.4,162.4 1672.2,155.0 1672.9,154.5 1673.7,159.4 1674.5,160.8 1675.3,164.3 1676.0,167.9 1676.8,166.9 1677.6,163.6 1678.4,165.8 1679.1,156.2 1679.9,151.9 1680.7,143.0 1681.5,141.6 1682.2,143.7 1683.0,142.0 1683.8,142.7 1684.6,140.1 1685.3,140.1 1686.1,144.8 1686.9,147.0 1687.6,149.8 1688.4,152.7 1689.2,151.7 1690.0,153.9 1690.7,153.3 1691.5,142.7 1692.3,134.3 1693.1,125.0 1693.8,123.7 1694.6,119.8 1695.4,117.4 1696.2,114.8 1696.9,112.5 1697.7,114.0 1698.5,117.4 1699.3,118.9 1700.0,118.5 1700.8,120.9 1701.6,123.2 1702.3,121.0 1703.1,120.9 1703.9,131.6 1704.7,147.1 1705.4,157.9 1706.2,169.4 1707.0,167.0 1707.8,147.1 1708.5,134.9 1709.3,138.9 1710.1,138.5 1710.9,142.4 1711.6,140.4 1712.4,132.9 1713.2,121.0 1714.0,109.4 1714.7,98.8 1715.5,96.1 1716.3,98.5 1717.0,97.9 1717.8,102.1 1718.6,95.6 1719.4,87.6 1720.1,77.0 1720.9,68.7 1721.7,66.9 1722.5,60.0 1723.2,65.3 1724.0,68.5 1724.8,73.4 1725.6,72.3 1726.3,69.4 1727.1,83.3 1727.9,87.4 1728.7,84.9 1729.4,86.4 1730.2,91.5"/>
<polyline stroke="#55A868" points="55.9,559.2 56.7,558.4 57.4,558.0 58.2,557.5 59.0,557.6 59.8,556.1 60.5,556.3 61.3,555.6 62.1,555.6 62.9,554.5 63.6,554.2 64.4,554.4 65.2,555.3 66.0,557.4 66.7,558.3 67.5,560.2 68.3,562.0 69.1,563.1 69.8,564.1 70.6,565.2 71.4,565.2 72.1,564.3 72.9,564.4 73.7,564.4 74.5,563.0 75.2,563.0 76.0,563.2 76.8,563.2 77.6,563.3 78.3,563.0 79.1,563.9 79.9,562.6 80.7,562.1 81.4,561.4 82.2,561.3 83.0,559.6 83.8,558.8 84.5,558.8 85.3,558.3 86.1,558.8 86.8,558.5 87.6,558.8 88.4,560.5 89.2,561.2 89.9,560.9 90.7,561.0 91.5,560.3 92.3,560.7 93.0,561.3 93.8,560.4 94.6,559.8 95.4,560.4 96.1,560.1 96.9,559.3 97.7,559.8 98.5,557.9 99.2,557.1 100.0,557.0 100.8,556.0 101.5,555.8 102.3,554.8 103.1,554.6 103.9,554.7 104.6,554.2 105.4,553.7 106.2,553.3 107.0,552.9 107.7,553.1 108.5,552.4 109.3,552.1 110.1,553.4 110.8,554.4 111.6,553.9 112.4,555.1 113.2,555.7 113.9,556.4 114.7,556.3 115.5,556.6 116.2,558.4 117.0,559.5 117.8,560.1 118.6,561.5 119.3,562.0 120.1,564.0 120.9,565.3 121.7,564.4 122.4,565.3 123.2,566.6 124.0,567.5 124.8,568.0 125.5,569.0 126.3,567.3 127.1,567.3 127.9,567.6 128.6,566.9 129.4,566.4 130.2,566.9 130.9,567.6 131.7,568.1 132.5,568.3 133.3,568.2 134.0,569.6 134.8,570.5 135.6,570.6 136.4,570.3 137.1,569.9 137.9,569.2 138.7,569.2 139.5,568.5 140.2,567.9 141.0,569.1 141.8,570.6 142.6,570.5 143.3,571.0 144.1,570.0 144.9,570.2 145.6,570.5 146.4,571.3 147.2,571.9 148.0,573.0 148.7,575.5 149.5,577.4 150.3,577.8 151.1,576.5 151.8,576.7 152.6,576.8 153.4,576.9 154.2,575.6 154.9,575.1 155.7,574.8 156.5,573.2 157.3,571.7 158.0,571.8 158.8,570.9 159.6,571.2 160.4,570.5 161.1,570.1 161.9,569.9 162.7,569.6 163.4,569.6 164.2,569.0 165.0,568.4 165.8,567.0 166.5,566.1 167.3,564.3 168.1,564.7 168.9,564.8 169.6,565.1 170.4,563.2 171.2,563.0 172.0,562.9 172.7,563.2 173.5,562.4 174.3,561.9 175.1,560.8 175.8,560.5 176.6,560.7 177.4,562.4 178.1,562.6 178.9,561.9 179.7,562.0 180.5,561.9 181.2,561.4 182.0,562.3 182.8,561.8 183.6,561.8 184.3,560.2 185.1,560.7 185.9,560.2 186.7,561.2 187.4,561.0 188.2,561.4 189.0,561.1 189.8,561.6 190.5,560.9 191.3,561.3 192.1,561.2 192.8,560.4 193.6,559.8 194.4,559.5 195.2,557.3 195.9,555.7 196.7,554.3 197.5,554.5 198.3,553.0 199.0,551.9 199.8,551.4 200.6,550.8 201.4,550.8 202.1,549.3 202.9,547.3 203.7,546.5 204.5,546.2 205.2,545.0 206.0,544.0 206.8,543.6 207.5,541.8 208.3,542.5 209.1,540.8 209.9,540.0 210.6,539.1 211.4,537.7 212.2,537.6 213.0,536.6 213.7,536.1 214.5,535.9 215.3,536.6 216.1,536.2 216.8,535.5 217.6,538.8 218.4,542.2 219.2,544.7 219.9,545.9 220.7,545.2 221.5,544.7 222.2,544.9 223.0,545.4 223.8,545.1 224.6,545.2 225.3,545.4 226.1,545.0 226.9,545.1 227.7,544.2 228.4,544.1 229.2,543.8 230.0,543.7 230.8,543.6 231.5,543.8 232.3,542.9 233.1,542.5 233.9,542.9 234.6,542.8 235.4,542.3 236.2,542.2 236.9,542.0 237.7,542.1 238.5,542.8 239.3,543.3 240.0,543.8 240.8,544.1 241.6,545.5 242.4,545.3 243.1,544.7 243.9,544.1 244.7,544.0 245.5,543.2 246.2,544.6 247.0,545.7 247.8,546.2 248.6,546.4 249.3,547.2 250.1,548.1 250.9,549.2 251.6,549.6 252.4,550.0 253.2,551.9 254.0,550.9 254.7,549.9 255.5,548.3 256.3,548.6 257.1,547.8 257.8,547.5 258.6,547.0 259.4,546.5 260.2,545.8 260.9,543.9 261.7,543.8 262.5,543.8 263.3,543.6 264.0,542.4 264.8,542.5 265.6,542.1 266.3,540.3 267.1,539.3 267.9,538.8 268.7,539.7 269.4,538.2 270.2,537.9 271.0,538.6 271.8,538.0 272.5,538.0 273.3,537.3 274.1,536.0 274.9,535.5 275.6,535.9 276.4,535.7 277.2,536.9 278.0,538.5 278.7,538.0 279.5,539.2 280.3,538.9 281.0,540.1 281.8,539.7 282.6,539.9 283.4,539.7 284.1,539.2 284.9,538.4 285.7,537.6 286.5,538.0 287.2,538.2 288.0,538.5 288.8,537.5 289.6,537.1 290.3,538.4 291.1,537.9 291.9,538.0 292.7,537.6 293.4,536.7 294.2,537.3 295.0,536.3 295.7,537.3 296.5,536.7 297.3,538.1 298.1,537.4 298.8,538.1 299.6,538.7 300.4,538.9 301.2,540.7 301.9,541.0 302.7,541.0 303.5,542.0 304.3,541.7 305.0,541.5 305.8,541.8 306.6,542.7 307.4,543.9 308.1,541.7 308.9,543.1 309.7,542.7 310.4,544.4 311.2,545.1 312.0,544.9 312.8,545.7 313.5,546.2 314.3,545.9 315.1,546.0 315.9,547.3 316.6,547.3 317.4,548.8 318.2,548.3 319.0,549.6 319.7,549.5 320.5,549.8 321.3,549.8 322.1,550.1 322.8,549.6 323.6,547.7 324.4,549.0 325.1,548.9 325.9,548.7 326.7,548.7 327.5,549.7 328.2,549.5 329.0,546.5 329.8,546.7 330.6,546.2 331.3,546.4 332.1,546.5 332.9,546.1 333.7,544.8 334.4,543.1 335.2,543.3 336.0,541.9 336.8,540.8 337.5,541.3 338.3,542.3 339.1,541.5 339.9,541.7 340.6,540.8 341.4,540.4 342.2,540.7 342.9,540.5 343.7,540.5 344.5,540.7 345.3,540.4 346.0,541.0 346.8,541.4 347.6,541.1 348.4,542.3 349.1,542.0 349.9,542.9 350.7,543.7 351.5,543.8 352.2,544.4 353.0,544.9 353.8,546.0 354.6,546.0 355.3,547.0 356.1,546.7 356.9,547.6 357.6,548.7 358.4,548.1 359.2,549.8 360.0,550.2 360.7,550.2 361.5,549.3 362.3,548.5 363.1,549.8 363.8,548.8 364.6,547.8 365.4,547.5 366.2,548.9 366.9,549.3 367.7,550.0 368.5,549.6 369.3,550.4 370.0,550.0 370.8,551.6 371.6,551.0 372.3,550.7 373.1,551.4 373.9,552.4 374.7,553.0 375.4,553.0 376.2,552.5 377.0,552.5 377.8,552.4 378.5,552.5 379.3,554.4 380.1,554.9 380.9,556.5 381.6,556.7 382.4,557.7 383.2,558.2 384.0,558.7 384.7,558.7 385.5,559.1 386.3,557.7 387.0,557.5 387.8,559.5 388.6,558.2 389.4,559.0 390.1,559.1 390.9,559.3 391.7,559.9 392.5,560.0 393.2,561.9 394.0,561.8 394.8,561.7 395.6,561.1 396.3,559.0 397.1,556.8 397.9,556.7 398.7,554.8 399.4,554.9 400.2,554.7 401.0,554.7 401.7,555.9 402.5,555.1 403.3,554.7 404.1,554.2 404.8,553.8 405.6,554.3 406.4,556.0 407.2,556.6 407.9,557.1 408.7,556.8 409.5,557.7 410.3,556.7 411.0,556.5 411.8,556.4 412.6,557.5 413.4,559.0 414.1,558.8 414.9,558.9 415.7,558.7 416.4,559.4 417.2,561.5 418.0,562.3 418.8,563.0 419.5,564.1 420.3,564.7 421.1,565.6 421.9,567.5 422.6,567.6 423.4,568.6 424.2,568.6 425.0,568.9 425.7,569.6 426.5,570.9 427.3,570.2 428.1,571.5 428.8,571.7 429.6,571.8 430.4,572.8 431.1,572.1 431.9,571.6 432.7,571.1 433.5,571.1 434.2,570.6 435.0,570.5 435.8,569.7 436.6,569.0 437.3,568.5 438.1,568.6 438.9,567.8 439.7,567.5 440.4,568.2 441.2,569.0 442.0,568.7 442.8,568.6 443.5,568.2 444.3,567.9 445.1,567.2 445.8,567.0 446.6,566.4 447.4,566.3 448.2,565.4 448.9,566.0 449.7,565.5 450.5,565.4 451.3,564.4 452.0,563.5 452.8,563.4 453.6,563.7 454.4,562.8 455.1,562.5 455.9,561.7 456.7,559.9 457.5,559.0 458.2,559.1 459.0,559.1 459.8,558.8 460.5,559.5 461.3,559.6 462.1,557.8 462.9,558.2 463.6,557.4 464.4,557.4 465.2,557.4 466.0,556.4 466.7,556.1 467.5,556.5 468.3,556.9 469.1,557.1 469.8,557.4 470.6,558.6 471.4,559.4 472.2,558.9 472.9,560.5 473.7,559.8 474.5,560.5 475.2,561.4 476.0,563.1 476.8,564.0 477.6,563.2 478.3,563.1 479.1,562.5 479.9,561.4 480.7,560.6 481.4,560.9 482.2,560.6 483.0,560.8 483.8,560.8 484.5,560.7 485.3,560.3 486.1,559.3 486.9,559.2 487.6,557.9 488.4,559.1 489.2,558.7 489.9,558.5 490.7,557.7 491.5,557.4 492.3,556.5 493.0,556.8 493.8,556.4 494.6,555.8 495.4,555.4 496.1,555.0 496.9,555.3 497.7,556.0 498.5,556.5 499.2,557.7 500.0,558.1 500.8,557.9 501.6,556.9 502.3,556.5 503.1,557.6 503.9,555.8 504.6,555.9 505.4,555.8 506.2,554.2 507.0,554.9 507.7,555.5 508.5,555.9 509.3,557.5 510.1,556.9 510.8,557.4 511.6,557.1 512.4,557.6 513.2,555.8 513.9,554.7 514.7,555.2 515.5,556.7 516.3,557.1 517.0,557.9 517.8,558.6 518.6,558.7 519.3,559.4 520.1,561.0 520.9,561.6 521.7,561.8 522.4,562.8 523.2,562.2 524.0,562.9 524.8,562.8 525.5,562.9 526.3,563.8 527.1,563.6 527.9,563.7 528.6,564.1 529.4,563.7 530.2,564.3 531.0,565.8 531.7,565.5 532.5,566.4 533.3,565.7 534.1,564.3 534.8,565.2 535.6,565.6 536.4,566.3 537.1,565.0 537.9,565.1 538.7,564.4 539.5,564.9 540.2,564.8 541.0,563.9 541.8,564.8 542.6,565.2 543.3,564.0 544.1,564.2 544.9,563.2 545.7,563.8 546.4,565.0 547.2,564.9 548.0,566.3 548.8,566.1 549.5,566.4 550.3,566.9 551.1,567.3 551.8,567.6 552.6,569.3 553.4,570.6 554.2,570.5 554.9,571.7 555.7,571.2 556.5,569.6 557.3,569.0 558.0,566.8 558.8,566.2 559.6,566.7 560.4,566.0 561.1,566.3 561.9,566.3 562.7,566.5 563.5,566.3 564.2,567.1 565.0,567.7 565.8,568.0 566.5,568.8 567.3,568.6 568.1,570.0 568.9,571.1 569.6,571.4 570.4,570.1 571.2,570.6 572.0,569.3 572.7,568.9 573.5,567.9 574.3,567.4 575.1,567.5 575.8,568.3 576.6,567.9 577.4,568.2 578.2,567.5 578.9,567.1 579.7,567.0 580.5,567.8 581.2,567.3 582.0,567.7 582.8,568.2 583.6,567.3 584.3,568.0 585.1,569.1 585.9,568.6 586.7,568.8 587.4,569.2 588.2,569.3 589.0,568.7 589.8,568.5 590.5,569.4 591.3,570.0 592.1,570.5 592.9,571.3 593.6,571.4 594.4,571.9 595.2,571.9 595.9,572.3 596.7,573.8 597.5,574.3 598.3,574.7 599.0,575.7 599.8,575.9 600.6,576.0 601.4,577.7 602.1,577.0 602.9,576.4 603.7,574.6 604.5,574.2 605.2,573.6 606.0,572.5 606.8,572.1 607.6,572.4 608.3,570.7 609.1,570.0 609.9,568.2 610.6,566.7 611.4,565.6 612.2,565.0 613.0,564.7 613.7,563.2 614.5,562.2 615.3,562.2 616.1,561.3 616.8,560.0 617.6,560.8 618.4,560.5 619.2,560.1 619.9,561.2 620.7,560.7 621.5,560.1 622.3,560.1 623.0,560.2 623.8,560.0 624.6,559.5 625.3,558.1 626.1,557.9 626.9,557.8 627.7,556.5 628.4,556.1 629.2,557.0 630.0,558.0 630.8,557.0 631.5,556.8 632.3,556.6 633.1,555.6 633.9,554.9 634.6,553.5 635.4,553.0 636.2,552.1 637.0,551.6 637.7,551.3 638.5,552.2 639.3,553.0 640.0,552.9 640.8,553.5 641.6,553.3 642.4,553.6 643.1,553.5 643.9,553.7 644.7,554.1 645.5,555.0 646.2,556.0 647.0,555.7 647.8,553.6 648.6,553.7 649.3,554.1 650.1,553.4 650.9,553.0 651.7,551.3 652.4,553.1 653.2,553.3 654.0,554.0 654.7,555.8 655.5,556.1 656.3,556.0 657.1,555.2 657.8,555.4 658.6,554.1 659.4,553.4 660.2,553.7 660.9,553.3 661.7,553.9 662.5,555.5 663.3,555.2 664.0,555.9 664.8,556.0 665.6,557.9 666.4,557.5 667.1,556.7 667.9,556.4 668.7,556.6 669.4,557.2 670.2,558.1 671.0,560.0 671.8,560.7 672.5,560.0 673.3,558.7 674.1,557.4 674.9,558.1 675.6,558.3 676.4,559.1 677.2,558.6 678.0,560.4 678.7,559.9 679.5,559.3 680.3,560.4 681.1,560.0 681.8,559.1 682.6,559.2 683.4,558.1 684.1,557.7 684.9,557.4 685.7,557.2 686.5,557.8 687.2,557.5 688.0,557.0 688.8,556.0 689.6,553.8 690.3,552.8 691.1,554.3 691.9,553.7 692.7,553.1 693.4,553.1 694.2,553.3 695.0,553.2 695.8,551.8 696.5,553.1 697.3,555.1 698.1,555.1 698.8,555.9 699.6,557.2 700.4,558.3 701.2,559.9 701.9,561.2 702.7,561.1 703.5,562.4 704.3,560.9 705.0,561.1 705.8,560.9 706.6,563.3 707.4,565.3 708.1,569.0 708.9,570.8 709.7,570.0 710.5,570.0 711.2,569.4 712.0,568.7 712.8,568.7 713.6,568.9 714.3,569.8 715.1,570.8 715.9,570.6 716.6,568.8 717.4,567.2 718.2,565.3 719.0,564.7 719.7,563.8 720.5,564.2 721.3,564.0 722.1,566.3 722.8,566.6 723.6,567.5 724.4,567.8 725.2,567.3 725.9,567.4 726.7,566.2 727.5,566.7 728.3,566.5 729.0,566.2 729.8,564.7 730.6,564.2 731.3,562.9 732.1,562.8 732.9,561.4 733.7,561.6 734.4,562.2 735.2,562.9 736.0,563.5 736.8,563.4 737.5,563.3 738.3,562.8 739.1,563.5 739.9,562.2 740.6,561.8 741.4,560.4 742.2,561.0 743.0,561.2 743.7,561.4 744.5,561.7 745.3,560.5 746.0,558.3 746.8,559.8 747.6,559.2 748.4,558.8 749.1,558.1 749.9,556.3 750.7,556.9 751.5,557.2 752.2,557.7 753.0,558.0 753.8,559.9 754.6,559.8 755.3,559.1 756.1,559.3 756.9,557.5 757.7,557.4 758.4,557.6 759.2,558.2 760.0,558.3 760.7,558.4 761.5,558.6 762.3,558.4 763.1,557.7 763.8,557.2 764.6,557.1 765.4,557.2 766.2,556.4 766.9,556.1 767.7,554.7 768.5,554.9 769.3,557.0 770.0,558.4 770.8,558.6 771.6,558.5 772.4,557.9 773.1,558.2 773.9,557.7 774.7,557.1 775.4,557.8 776.2,558.1 777.0,558.8 777.8,559.5 778.5,560.0 779.3,560.9 780.1,560.0 780.9,561.3 781.6,559.9 782.4,557.8 783.2,556.7 784.0,555.7 784.7,555.5 785.5,556.7 786.3,557.3 787.1,557.2 787.8,557.0 788.6,556.8 789.4,555.4 790.1,555.1 790.9,554.5 791.7,555.2 792.5,554.5 793.2,555.8 794.0,556.6 794.8,556.3 795.6,556.7 796.3,556.8 797.1,557.1 797.9,558.3 798.7,558.5 799.4,560.3 800.2,560.9 801.0,562.1 801.8,562.1 802.5,561.6 803.3,560.3 804.1,559.8 804.8,559.3 805.6,560.2 806.4,560.0 807.2,560.4 807.9,562.8 808.7,563.6 809.5,564.2 810.3,564.7 811.0,564.8 811.8,564.3 812.6,565.3 813.4,565.5 814.1,565.5 814.9,565.7 815.7,565.2 816.5,565.7 817.2,564.8 818.0,565.0 818.8,564.2 819.5,563.3 820.3,562.7 821.1,562.9 821.9,563.1 822.6,563.3 823.4,563.0 824.2,562.8 825.0,562.9 825.7,561.8 826.5,561.6 827.3,561.6 828.1,562.6 828.8,561.4 829.6,561.8 830.4,561.2 831.2,561.3 831.9,561.7 832.7,562.3 833.5,563.0 834.2,563.3 835.0,564.1 835.8,563.8 836.6,563.8 837.3,565.6 838.1,566.4 838.9,566.5 839.7,565.5 840.4,565.0 841.2,566.6 842.0,565.9 842.8,565.1 843.5,566.0 844.3,566.5 845.1,566.0 845.9,565.4 846.6,565.8 847.4,565.8 848.2,565.4 848.9,565.9 849.7,566.2 850.5,565.9 851.3,566.5 852.0,565.3 852.8,564.3 853.6,564.6 854.4,565.0 855.1,565.2 855.9,564.4 856.7,563.5 857.5,562.6 858.2,561.9 859.0,562.1 859.8,562.1 860.6,561.7 861.3,562.6 862.1,562.3 862.9,563.0 863.6,562.4 864.4,563.2 865.2,563.6 866.0,564.1 866.7,565.4 867.5,565.4 868.3,565.6 869.1,564.3 869.8,564.0 870.6,563.1 871.4,564.4 872.2,564.1 872.9,563.7 873.7,563.9 874.5,563.2 875.3,564.3 876.0,564.5 876.8,564.3 877.6,565.0 878.3,564.0 879.1,562.8 879.9,563.1 880.7,563.0 881.4,563.3 882.2,563.3 883.0,562.6 883.8,562.9 884.5,563.2 885.3,563.7 886.1,563.1 886.9,563.2 887.6,562.5 888.4,562.5 889.2,563.1 890.0,563.2 890.7,562.4 891.5,563.7 892.3,563.5 893.0,564.4 893.8,565.1 894.6,564.0 895.4,564.4 896.1,564.6 896.9,564.0 897.7,563.3 898.5,563.6 899.2,563.4 900.0,561.9 900.8,562.1 901.6,564.1 902.3,563.0 903.1,563.3 903.9,562.7 904.7,562.1 905.4,561.6 906.2,561.3 907.0,560.8 907.8,560.6 908.5,560.9 909.3,560.5 910.1,559.6 910.8,558.8 911.6,558.8 912.4,556.7 913.2,554.8 913.9,554.1 914.7,554.2 915.5,554.8 916.3,553.0 917.0,552.4 917.8,550.8 918.6,551.0 919.4,550.8 920.1,550.0 920.9,548.2 921.7,548.5 922.5,548.3 923.2,548.4 924.0,547.9 924.8,548.2 925.5,547.8 926.3,549.0 927.1,549.0 927.9,549.3 928.6,546.4 929.4,546.4 930.2,546.5 931.0,546.5 931.7,545.9 932.5,546.5 933.3,546.5 934.1,546.1 934.8,544.7 935.6,543.4 936.4,542.6 937.2,543.1 937.9,543.6 938.7,543.4 939.5,542.4 940.2,541.1 941.0,541.8 941.8,540.7 942.6,541.4 943.3,541.2 944.1,541.5 944.9,540.8 945.7,540.7 946.4,538.2 947.2,537.1 948.0,537.5 948.8,537.5 949.5,538.5 950.3,538.2 951.1,539.3 951.9,538.2 952.6,538.4 953.4,537.3 954.2,537.4 954.9,538.3 955.7,539.4 956.5,539.9 957.3,540.8 958.0,541.3 958.8,540.9 959.6,541.2 960.4,539.6 961.1,538.6 961.9,537.6 962.7,537.4 963.5,535.9 964.2,536.4 965.0,535.5 965.8,536.4 966.6,535.2 967.3,535.3 968.1,534.5 968.9,534.9 969.6,535.3 970.4,537.1 971.2,535.2 972.0,534.6 972.7,531.7 973.5,530.1 974.3,528.5 975.1,526.3 975.8,524.5 976.6,521.5 977.4,519.2 978.2,516.9 978.9,514.6 979.7,511.5 980.5,510.7 981.3,510.1 982.0,509.6 982.8,508.6 983.6,507.1 984.3,506.7 985.1,506.4 985.9,504.8 986.7,503.9 987.4,504.7 988.2,505.5 989.0,506.6 989.8,509.0 990.5,509.3 991.3,506.4 992.1,503.6 992.9,501.6 993.6,500.4 994.4,498.8 995.2,497.3 996.0,496.6 996.7,496.4 997.5,497.3 998.3,496.2 999.0,497.1 999.8,497.8 1000.6,498.9 1001.4,498.5 1002.1,499.5 1002.9,498.0 1003.7,496.8 1004.5,496.6 1005.2,496.4 1006.0,494.6 1006.8,494.8 1007.6,495.6 1008.3,496.6 1009.1,494.9 1009.9,495.7 1010.7,498.1 1011.4,499.1 1012.2,498.8 1013.0,499.6 1013.7,500.0 1014.5,499.8 1015.3,498.9 1016.1,497.8 1016.8,496.0 1017.6,496.0 1018.4,495.5 1019.2,495.1 1019.9,493.3 1020.7,491.6 1021.5,491.2 1022.3,491.0 1023.0,488.5 1023.8,488.1 1024.6,485.6 1025.4,486.1 1026.1,486.4 1026.9,487.1 1027.7,486.5 1028.4,485.2 1029.2,483.1 1030.0,482.3 1030.8,480.2 1031.5,478.2 1032.3,475.1 1033.1,473.1 1033.9,469.1 1034.6,467.8 1035.4,464.9 1036.2,461.7 1037.0,458.5 1037.7,456.0 1038.5,454.0 1039.3,454.4 1040.1,452.2 1040.8,450.6 1041.6,450.6 1042.4,448.9 1043.1,446.6 1043.9,444.0 1044.7,440.3 1045.5,439.8 1046.2,435.3 1047.0,433.7 1047.8,431.3 1048.6,429.8 1049.3,428.0 1050.1,427.2 1050.9,425.1 1051.7,423.0 1052.4,419.5 1053.2,419.1 1054.0,418.6 1054.8,415.6 1055.5,416.6 1056.3,419.3 1057.1,418.3 1057.8,420.0 1058.6,423.6 1059.4,425.9 1060.2,429.3 1060.9,425.2 1061.7,421.2 1062.5,418.4 1063.3,418.0 1064.0,416.5 1064.8,410.8 1065.6,409.7 1066.4,406.1 1067.1,403.6 1067.9,402.4 1068.7,400.0 1069.5,397.8 1070.2,394.6 1071.0,393.5 1071.8,392.6 1072.5,389.2 1073.3,387.6 1074.1,384.2 1074.9,379.6 1075.6,378.6 1076.4,375.0 1077.2,373.3 1078.0,372.5 1078.7,376.8 1079.5,379.0 1080.3,382.5 1081.1,386.4 1081.8,391.1 1082.6,392.1 1083.4,398.4 1084.2,402.3 1084.9,408.1 1085.7,412.2 1086.5,419.9 1087.3,425.5 1088.0,432.2 1088.8,435.3 1089.6,445.0 1090.3,451.2 1091.1,457.9 1091.9,460.9 1092.7,456.7 1093.4,448.1 1094.2,448.1 1095.0,444.8 1095.8,444.4 1096.5,443.5 1097.3,435.9 1098.1,428.3 1098.9,431.0 1099.6,439.1 1100.4,446.3 1101.2,451.6 1102.0,453.7 1102.7,453.0 1103.5,442.9 1104.3,441.1 1105.0,439.4 1105.8,441.9 1106.6,441.7 1107.4,444.1 1108.1,443.4 1108.9,435.4 1109.7,438.9 1110.5,434.1 1111.2,433.8 1112.0,446.0 1112.8,446.5 1113.6,446.8 1114.3,463.2 1115.1,479.8 1115.9,485.9 1116.7,485.5 1117.4,485.4 1118.2,482.6 1119.0,481.3 1119.7,479.1 1120.5,481.4 1121.3,480.2 1122.1,478.2 1122.8,480.6 1123.6,479.3 1124.4,483.7 1125.2,489.9 1125.9,493.6 1126.7,495.5 1127.5,492.6 1128.3,488.9 1129.0,484.6 1129.8,482.6 1130.6,483.0 1131.4,483.4 1132.1,481.5 1132.9,482.7 1133.7,481.7 1134.4,487.4 1135.2,485.9 1136.0,485.3 1136.8,481.1 1137.5,478.1 1138.3,476.8 1139.1,476.0 1139.9,472.3 1140.6,469.1 1141.4,464.5 1142.2,462.2 1143.0,462.0 1143.7,459.4 1144.5,460.5 1145.3,460.3 1146.1,458.7 1146.8,458.0 1147.6,459.8 1148.4,458.4 1149.1,460.8 1149.9,458.7 1150.7,456.9 1151.5,450.8 1152.2,449.2 1153.0,447.1 1153.8,446.2 1154.6,445.1 1155.3,444.8 1156.1,446.5 1156.9,447.0 1157.7,446.7 1158.4,446.6 1159.2,444.6 1160.0,444.3 1160.8,444.8 1161.5,445.7 1162.3,447.7 1163.1,450.1 1163.8,454.2 1164.6,454.6 1165.4,458.0 1166.2,455.9 1166.9,454.5 1167.7,455.7 1168.5,452.5 1169.3,452.6 1170.0,450.6 1170.8,449.9 1171.6,447.1 1172.4,445.6 1173.1,444.3 1173.9,442.2 1174.7,441.1 1175.5,440.3 1176.2,438.5 1177.0,438.3 1177.8,441.5 1178.5,441.8 1179.3,444.6 1180.1,445.4 1180.9,445.0 1181.6,445.5 1182.4,446.0 1183.2,448.3 1184.0,453.8 1184.7,458.3 1185.5,464.9 1186.3,468.9 1187.1,470.3 1187.8,472.7 1188.6,473.9 1189.4,476.4 1190.2,478.5 1190.9,478.7 1191.7,481.2 1192.5,483.3 1193.2,487.9 1194.0,488.8 1194.8,493.8 1195.6,498.1 1196.3,498.8 1197.1,499.5 1197.9,499.8 1198.7,498.1 1199.4,496.0 1200.2,494.2 1201.0,493.8 1201.8,494.1 1202.5,493.1 1203.3,492.3 1204.1,491.8 1204.9,492.4 1205.6,491.0 1206.4,489.0 1207.2,489.6 1207.9,486.0 1208.7,487.5 1209.5,490.9 1210.3,493.0 1211.0,494.3 1211.8,495.4 1212.6,491.7 1213.4,488.0 1214.1,488.4 1214.9,488.1 1215.7,488.9 1216.5,489.9 1217.2,490.2 1218.0,488.7 1218.8,486.6 1219.6,486.0 1220.3,484.2 1221.1,481.6 1221.9,480.5 1222.6,477.5 1223.4,479.3 1224.2,479.0 1225.0,478.1 1225.7,478.9 1226.5,479.0 1227.3,477.8 1228.1,475.2 1228.8,475.3 1229.6,475.3 1230.4,474.4 1231.2,472.8 1231.9,472.5 1232.7,469.9 1233.5,469.3 1234.3,470.6 1235.0,470.8 1235.8,470.1 1236.6,471.4 1237.3,473.0 1238.1,473.2 1238.9,473.6 1239.7,475.5 1240.4,476.4 1241.2,475.4 1242.0,475.9 1242.8,475.3 1243.5,475.1 1244.3,473.4 1245.1,472.9 1245.9,475.7 1246.6,475.6 1247.4,478.5 1248.2,480.7 1249.0,480.6 1249.7,481.6 1250.5,482.0 1251.3,480.1 1252.0,481.9 1252.8,481.6 1253.6,482.2 1254.4,480.8 1255.1,481.1 1255.9,480.8 1256.7,480.9 1257.5,478.8 1258.2,479.6 1259.0,478.4 1259.8,477.2 1260.6,477.2 1261.3,475.6 1262.1,474.7 1262.9,475.2 1263.7,476.9 1264.4,478.4 1265.2,480.7 1266.0,480.8 1266.8,481.0 1267.5,479.3 1268.3,478.5 1269.1,478.3 1269.8,477.2 1270.6,476.2 1271.4,476.1 1272.2,476.6 1272.9,474.8 1273.7,472.9 1274.5,472.5 1275.3,470.9 1276.0,471.0 1276.8,470.4 1277.6,469.7 1278.4,467.8 1279.1,467.1 1279.9,466.6 1280.7,464.4 1281.5,464.8 1282.2,462.8 1283.0,465.2 1283.8,463.6 1284.5,464.1 1285.3,464.7 1286.1,464.2 1286.9,462.4 1287.6,464.0 1288.4,465.5 1289.2,465.0 1290.0,465.1 1290.7,465.4 1291.5,465.7 1292.3,465.5 1293.1,465.0 1293.8,464.7 1294.6,462.9 1295.4,461.5 1296.2,463.4 1296.9,461.8 1297.7,459.5 1298.5,458.1 1299.2,455.0 1300.0,455.3 1300.8,454.8 1301.6,456.1 1302.3,455.5 1303.1,455.4 1303.9,456.7 1304.7,456.9 1305.4,457.8 1306.2,456.4 1307.0,455.0 1307.8,455.6 1308.5,456.2 1309.3,455.4 1310.1,455.7 1310.9,455.5 1311.6,457.0 1312.4,458.5 1313.2,458.7 1313.9,459.6 1314.7,459.8 1315.5,460.7 1316.3,459.6 1317.0,460.2 1317.8,459.8 1318.6,459.4 1319.4,459.1 1320.1,459.6 1320.9,459.2 1321.7,458.3 1322.5,457.7 1323.2,457.6 1324.0,456.7 1324.8,455.9 1325.6,455.0 1326.3,456.2 1327.1,455.8 1327.9,455.0 1328.6,456.6 1329.4,455.5 1330.2,455.3 1331.0,453.1 1331.7,452.9 1332.5,453.2 1333.3,451.8 1334.1,452.8 1334.8,451.4 1335.6,452.5 1336.4,452.4 1337.2,452.4 1337.9,452.5 1338.7,454.1 1339.5,455.6 1340.3,453.9 1341.0,453.3 1341.8,452.2 1342.6,452.7 1343.3,451.7 1344.1,451.2 1344.9,449.1 1345.7,447.9 1346.4,445.4 1347.2,443.8 1348.0,444.1 1348.8,444.6 1349.5,444.6 1350.3,444.4 1351.1,444.7 1351.9,443.1 1352.6,441.7 1353.4,440.9 1354.2,439.1 1355.0,441.2 1355.7,440.7 1356.5,442.1 1357.3,442.2 1358.0,443.1 1358.8,445.2 1359.6,446.5 1360.4,446.4 1361.1,445.7 1361.9,447.2 1362.7,446.5 1363.5,444.5 1364.2,444.8 1365.0,446.1 1365.8,445.0 1366.6,447.3 1367.3,447.2 1368.1,446.0 1368.9,444.2 1369.7,445.0 1370.4,445.0 1371.2,444.1 1372.0,444.6 1372.7,445.2 1373.5,445.6 1374.3,445.5 1375.1,445.7 1375.8,444.8 1376.6,446.2 1377.4,448.2 1378.2,449.0 1378.9,450.1 1379.7,448.5 1380.5,448.3 1381.3,446.9 1382.0,446.4 1382.8,445.3 1383.6,445.6 1384.4,444.8 1385.1,443.6 1385.9,444.4 1386.7,442.7 1387.4,442.9 1388.2,441.8 1389.0,442.3 1389.8,442.5 1390.5,441.3 1391.3,441.9 1392.1,440.3 1392.9,439.5 1393.6,438.7 1394.4,437.5 1395.2,435.4 1396.0,436.7 1396.7,436.2 1397.5,436.5 1398.3,437.6 1399.1,437.6 1399.8,437.5 1400.6,438.2 1401.4,437.8 1402.1,438.8 1402.9,437.6 1403.7,437.7 1404.5,437.6 1405.2,437.0 1406.0,436.4 1406.8,435.6 1407.6,436.6 1408.3,436.5 1409.1,437.3 1409.9,436.7 1410.7,437.6 1411.4,438.5 1412.2,438.6 1413.0,436.5 1413.8,438.3 1414.5,437.6 1415.3,436.4 1416.1,436.1 1416.8,435.8 1417.6,434.5 1418.4,435.7 1419.2,435.0 1419.9,434.1 1420.7,433.9 1421.5,433.6 1422.3,432.7 1423.0,433.1 1423.8,434.7 1424.6,436.0 1425.4,436.0 1426.1,436.5 1426.9,438.4 1427.7,442.3 1428.5,439.7 1429.2,440.1 1430.0,440.4 1430.8,439.9 1431.5,441.5 1432.3,441.3 1433.1,443.6 1433.9,444.0 1434.6,446.1 1435.4,446.0 1436.2,448.4 1437.0,448.2 1437.7,446.8 1438.5,445.9 1439.3,445.7 1440.1,446.9 1440.8,447.6 1441.6,447.4 1442.4,448.0 1443.2,449.2 1443.9,449.4 1444.7,449.1 1445.5,449.0 1446.2,450.7 1447.0,449.3 1447.8,449.4 1448.6,448.3 1449.3,448.5 1450.1,446.7 1450.9,444.8 1451.7,442.9 1452.4,444.3 1453.2,445.5 1454.0,443.7 1454.8,443.3 1455.5,443.1 1456.3,441.6 1457.1,440.8 1457.9,440.7 1458.6,440.2 1459.4,437.8 1460.2,436.5 1461.0,436.4 1461.7,434.3 1462.5,433.2 1463.3,433.8 1464.0,435.4 1464.8,434.2 1465.6,433.1 1466.4,431.9 1467.1,432.2 1467.9,432.2 1468.7,434.4 1469.5,433.4 1470.2,433.6 1471.0,434.5 1471.8,433.6 1472.6,432.6 1473.3,431.9 1474.1,431.0 1474.9,431.1 1475.7,428.4 1476.4,428.0 1477.2,427.2 1478.0,424.2 1478.7,423.5 1479.5,424.4 1480.3,425.3 1481.1,425.6 1481.8,425.5 1482.6,425.3 1483.4,425.1 1484.2,426.2 1484.9,425.8 1485.7,424.5 1486.5,424.8 1487.3,421.3 1488.0,421.0 1488.8,421.6 1489.6,421.3 1490.4,419.6 1491.1,418.6 1491.9,415.8 1492.7,414.6 1493.4,415.0 1494.2,414.7 1495.0,413.4 1495.8,413.9 1496.5,414.0 1497.3,414.5 1498.1,411.9 1498.9,414.5 1499.6,412.0 1500.4,413.1 1501.2,413.3 1502.0,413.7 1502.7,412.7 1503.5,411.7 1504.3,412.6 1505.1,413.2 1505.8,412.8 1506.6,414.0 1507.4,413.3 1508.1,414.0 1508.9,414.1 1509.7,412.0 1510.5,410.0 1511.2,409.1 1512.0,409.3 1512.8,408.4 1513.6,409.4 1514.3,409.3 1515.1,408.0 1515.9,408.1 1516.7,408.0 1517.4,408.8 1518.2,408.8 1519.0,406.9 1519.8,407.7 1520.5,408.7 1521.3,406.3 1522.1,408.3 1522.8,407.8 1523.6,406.0 1524.4,404.7 1525.2,404.4 1525.9,403.6 1526.7,404.4 1527.5,404.7 1528.3,403.9 1529.0,402.0 1529.8,400.9 1530.6,399.6 1531.4,398.4 1532.1,400.8 1532.9,400.3 1533.7,399.7 1534.5,401.1 1535.2,402.0 1536.0,401.2 1536.8,401.1 1537.5,401.2 1538.3,402.1 1539.1,403.9 1539.9,401.3 1540.6,402.7 1541.4,404.5 1542.2,404.1 1543.0,403.1 1543.7,402.7 1544.5,403.8 1545.3,405.7 1546.1,406.8 1546.8,407.6 1547.6,405.6 1548.4,404.8 1549.2,404.0 1549.9,405.0 1550.7,403.7 1551.5,404.0 1552.2,403.8 1553.0,404.5 1553.8,403.2 1554.6,403.5 1555.3,403.1 1556.1,404.3 1556.9,403.2 1557.7,402.9 1558.4,400.8 1559.2,398.2 1560.0,395.3 1560.8,395.5 1561.5,393.8 1562.3,392.6 1563.1,391.7 1563.9,392.4 1564.6,391.8 1565.4,392.5 1566.2,392.6 1566.9,390.4 1567.7,389.8 1568.5,387.2 1569.3,384.9 1570.0,384.6 1570.8,380.7 1571.6,383.7 1572.4,384.2 1573.1,386.9 1573.9,389.1 1574.7,390.6 1575.5,392.2 1576.2,393.5 1577.0,399.5 1577.8,406.2 1578.6,411.9 1579.3,409.0 1580.1,405.3 1580.9,402.8 1581.6,404.1 1582.4,403.3 1583.2,400.6 1584.0,401.2 1584.7,400.3 1585.5,399.3 1586.3,399.3 1587.1,398.4 1587.8,396.0 1588.6,396.3 1589.4,396.6 1590.2,395.9 1590.9,394.2 1591.7,392.1 1592.5,390.9 1593.3,388.2 1594.0,387.6 1594.8,389.1 1595.6,389.5 1596.3,391.6 1597.1,389.8 1597.9,393.0 1598.7,396.0 1599.4,398.4 1600.2,401.6 1601.0,400.3 1601.8,399.3 1602.5,397.4 1603.3,397.2 1604.1,397.7 1604.9,394.5 1605.6,395.5 1606.4,395.6 1607.2,396.0 1608.0,395.5 1608.7,393.9 1609.5,394.6 1610.3,395.3 1611.0,394.8 1611.8,396.1 1612.6,398.8 1613.4,399.8 1614.1,398.6 1614.9,400.6 1615.7,400.8 1616.5,401.5 1617.2,401.5 1618.0,402.0 1618.8,400.6 1619.6,400.4 1620.3,400.0 1621.1,399.5 1621.9,396.6 1622.7,397.3 1623.4,396.1 1624.2,394.7 1625.0,393.7 1625.7,394.6 1626.5,394.0 1627.3,393.7 1628.1,395.3 1628.8,394.1 1629.6,392.6 1630.4,391.4 1631.2,393.1 1631.9,395.1 1632.7,396.5 1633.5,398.1 1634.3,399.5 1635.0,403.0 1635.8,402.0 1636.6,401.6 1637.4,400.0 1638.1,399.7 1638.9,397.6 1639.7,397.1 1640.5,399.0 1641.2,400.4 1642.0,401.5 1642.8,404.8 1643.5,412.8 1644.3,417.8 1645.1,418.0 1645.9,420.1 1646.6,420.4 1647.4,422.5 1648.2,423.7 1649.0,424.7 1649.7,423.6 1650.5,426.3 1651.3,426.7 1652.1,428.9 1652.8,429.5 1653.6,429.0 1654.4,428.7 1655.2,426.3 1655.9,424.6 1656.7,423.8 1657.5,423.8 1658.2,422.1 1659.0,421.1 1659.8,421.6 1660.6,420.2 1661.3,418.3 1662.1,416.8 1662.9,414.0 1663.7,413.9 1664.4,415.2 1665.2,415.4 1666.0,414.2 1666.8,413.6 1667.5,414.6 1668.3,419.9 1669.1,425.6 1669.9,426.3 1670.6,425.3 1671.4,423.7 1672.2,420.5 1672.9,419.8 1673.7,420.8 1674.5,422.7 1675.3,425.0 1676.0,424.0 1676.8,422.8 1677.6,421.0 1678.4,421.6 1679.1,419.3 1679.9,419.8 1680.7,417.1 1681.5,416.9 1682.2,419.0 1683.0,418.1 1683.8,418.2 1684.6,419.0 1685.3,420.2 1686.1,421.1 1686.9,422.8 1687.6,423.9 1688.4,424.5 1689.2,423.1 1690.0,424.9 1690.7,425.0 1691.5,422.8 1692.3,420.8 1693.1,419.0 1693.8,416.9 1694.6,415.2 1695.4,416.0 1696.2,415.6 1696.9,414.9 1697.7,415.0 1698.5,417.8 1699.3,420.5 1700.0,419.7 1700.8,419.9 1701.6,420.8 1702.3,421.2 1703.1,420.4 1703.9,426.0 1704.7,433.9 1705.4,438.0 1706.2,441.3 1707.0,443.2 1707.8,445.4 1708.5,441.1 1709.3,438.5 1710.1,434.0 1710.9,436.7 1711.6,436.3 1712.4,438.3 1713.2,435.7 1714.0,432.7 1714.7,431.4 1715.5,428.4 1716.3,427.7 1717.0,426.7 1717.8,427.6 1718.6,425.4 1719.4,424.9 1720.1,423.7 1720.9,420.4 1721.7,420.3 1722.5,419.7 1723.2,420.1 1724.0,420.0 1724.8,421.0 1725.6,423.9 1726.3,425.5 1727.1,429.4 1727.9,429.3 1728.7,429.5 1729.4,430.3 1730.2,430.6"/>
<polyline stroke="#C44E52" points="55.9,559.1 56.7,559.3 57.4,559.3 58.2,558.4 59.0,557.6 59.8,556.7 60.5,556.4 61.3,555.8 62.1,555.5 62.9,554.5 63.6,554.9 64.4,554.6 65.2,556.0 66.0,558.0 66.7,559.5 67.5,562.4 68.3,563.1 69.1,564.0 69.8,565.0 70.6,566.5 71.4,566.1 72.1,565.1 72.9,565.2 73.7,564.9 74.5,564.7 75.2,564.9 76.0,564.7 76.8,563.7 77.6,563.4 78.3,562.5 79.1,563.4 79.9,563.2 80.7,563.0 81.4,561.9 82.2,562.0 83.0,561.7 83.8,561.3 84.5,561.1 85.3,560.5 86.1,559.3 86.8,559.4 87.6,559.8 88.4,560.8 89.2,560.9 89.9,561.8 90.7,562.0 91.5,561.6 92.3,562.3 93.0,562.4 93.8,562.0 94.6,561.4 95.4,561.3 96.1,560.8 96.9,560.3 97.7,560.7 98.5,559.9 99.2,559.3 100.0,559.3 100.8,558.0 101.5,557.3 102.3,555.6 103.1,556.4 103.9,556.7 104.6,556.1 105.4,555.6 106.2,555.5 107.0,556.3 107.7,555.8 108.5,554.7 109.3,554.9 110.1,555.6 110.8,555.7 111.6,555.6 112.4,556.7 113.2,558.2 113.9,559.5 114.7,559.2 115.5,560.3 116.2,561.1 117.0,562.1 117.8,562.9 118.6,565.2 119.3,564.5 120.1,566.3 120.9,567.3 121.7,567.0 122.4,567.7 123.2,568.4 124.0,570.0 124.8,570.5 125.5,571.3 126.3,570.1 127.1,569.5 127.9,569.9 128.6,569.8 129.4,569.5 130.2,569.7 130.9,570.2 131.7,570.1 132.5,570.2 133.3,570.8 134.0,572.4 134.8,573.0 135.6,572.8 136.4,572.8 137.1,572.4 137.9,571.1 138.7,571.8 139.5,571.4 140.2,571.3 141.0,572.2 141.8,573.2 142.6,572.5 143.3,573.4 144.1,572.3 144.9,572.7 145.6,573.2 146.4,573.8 147.2,574.7 148.0,575.9 148.7,578.1 149.5,579.8 150.3,579.9 151.1,579.0 151.8,579.7 152.6,579.6 153.4,580.4 154.2,579.2 154.9,577.9 155.7,576.7 156.5,575.8 157.3,575.0 158.0,575.3 158.8,574.3 159.6,574.1 160.4,574.2 161.1,574.2 161.9,573.3 162.7,572.7 163.4,572.4 164.2,572.8 165.0,571.9 165.8,570.1 166.5,569.5 167.3,567.8 168.1,568.1 168.9,569.2 169.6,568.9 170.4,567.2 171.2,567.3 172.0,567.1 172.7,566.8 173.5,566.3 174.3,565.9 175.1,565.0 175.8,565.4 176.6,565.6 177.4,566.6 178.1,567.1 178.9,566.3 179.7,566.2 180.5,565.9 181.2,565.3 182.0,565.5 182.8,565.5 183.6,565.5 184.3,564.7 185.1,565.0 185.9,565.5 186.7,565.7 187.4,566.0 188.2,567.0 189.0,567.5 189.8,567.7 190.5,566.9 191.3,567.0 192.1,566.3 192.8,566.7 193.6,565.3 194.4,565.4 195.2,563.7 195.9,562.6 196.7,560.7 197.5,560.3 198.3,558.6 199.0,557.9 199.8,556.2 200.6,556.4 201.4,556.7 202.1,556.4 202.9,554.5 203.7,552.6 204.5,552.2 205.2,551.9 206.0,550.5 206.8,550.7 207.5,548.6 208.3,549.3 209.1,547.7 209.9,547.2 210.6,545.8 211.4,544.5 212.2,545.6 213.0,544.8 213.7,545.4 214.5,545.1 215.3,545.6 216.1,545.1 216.8,544.2 217.6,546.6 218.4,549.8 219.2,553.0 219.9,554.4 220.7,553.6 221.5,552.8 222.2,552.4 223.0,552.7 223.8,552.8 224.6,553.1 225.3,553.6 226.1,553.4 226.9,553.2 227.7,552.3 228.4,552.1 229.2,551.6 230.0,551.5 230.8,552.4 231.5,552.8 232.3,552.4 233.1,552.1 233.9,552.1 234.6,551.7 235.4,551.1 236.2,551.5 236.9,551.8 237.7,551.2 238.5,552.1 239.3,553.6 240.0,553.5 240.8,553.0 241.6,554.3 242.4,554.3 243.1,554.0 243.9,553.5 244.7,553.8 245.5,553.3 246.2,553.5 247.0,554.7 247.8,555.2 248.6,554.9 249.3,555.5 250.1,556.3 250.9,557.0 251.6,557.9 252.4,558.5 253.2,560.3 254.0,560.7 254.7,559.7 255.5,558.4 256.3,558.7 257.1,557.9 257.8,557.2 258.6,557.4 259.4,556.4 260.2,555.7 260.9,554.7 261.7,554.2 262.5,554.6 263.3,554.4 264.0,553.1 264.8,552.3 265.6,551.8 266.3,549.7 267.1,548.9 267.9,548.2 268.7,549.6 269.4,548.9 270.2,547.9 271.0,548.0 271.8,547.6 272.5,547.7 273.3,547.8 274.1,547.0 274.9,546.8 275.6,546.2 276.4,546.0 277.2,547.1 278.0,549.0 278.7,548.9 279.5,550.3 280.3,549.7 281.0,550.4 281.8,549.9 282.6,549.5 283.4,548.9 284.1,549.3 284.9,549.3 285.7,548.2 286.5,548.7 287.2,548.3 288.0,547.9 288.8,546.6 289.6,546.6 290.3,548.6 291.1,547.7 291.9,548.4 292.7,547.9 293.4,547.6 294.2,548.2 295.0,547.7 295.7,548.0 296.5,547.9 297.3,548.6 298.1,547.9 298.8,548.4 299.6,549.6 300.4,549.4 301.2,550.8 301.9,551.7 302.7,551.3 303.5,551.2 304.3,551.3 305.0,551.7 305.8,552.4 306.6,553.9 307.4,555.2 308.1,552.2 308.9,553.4 309.7,553.2 310.4,554.2 311.2,554.8 312.0,555.1 312.8,556.0 313.5,557.0 314.3,556.8 315.1,557.6 315.9,558.5 316.6,558.3 317.4,559.0 318.2,559.1 319.0,559.2 319.7,559.4 320.5,559.3 321.3,560.0 322.1,560.1 322.8,559.8 323.6,558.9 324.4,559.4 325.1,559.8 325.9,558.9 326.7,559.4 327.5,559.7 328.2,560.0 329.0,557.3 329.8,557.6 330.6,556.3 331.3,556.7 332.1,556.2 332.9,555.6 333.7,554.8 334.4,552.7 335.2,554.1 336.0,553.2 336.8,552.2 337.5,552.0 338.3,553.7 339.1,552.6 339.9,553.4 340.6,552.7 341.4,553.2 342.2,553.0 342.9,552.9 343.7,552.9 344.5,552.4 345.3,552.7 346.0,552.9 346.8,553.2 347.6,552.4 348.4,553.8 349.1,554.2 349.9,554.4 350.7,554.8 351.5,555.7 352.2,556.4 353.0,557.0 353.8,557.8 354.6,557.8 355.3,557.8 356.1,558.4 356.9,558.7 357.6,559.9 358.4,558.7 359.2,559.7 360.0,560.3 360.7,560.3 361.5,559.0 362.3,558.9 363.1,559.7 363.8,559.1 364.6,559.3 365.4,558.9 366.2,560.3 366.9,560.1 367.7,561.7 368.5,561.3 369.3,561.4 370.0,561.1 370.8,561.5 371.6,561.4 372.3,561.1 373.1,561.1 373.9,562.9 374.7,562.6 375.4,562.6 376.2,562.2 377.0,562.5 377.8,562.8 378.5,562.6 379.3,564.1 380.1,564.8 380.9,565.7 381.6,566.5 382.4,567.4 383.2,567.9 384.0,568.1 384.7,567.9 385.5,567.7 386.3,567.8 387.0,567.6 387.8,568.3 388.6,567.7 389.4,567.9 390.1,568.4 390.9,568.8 391.7,569.3 392.5,569.7 393.2,570.7 394.0,570.9 394.8,570.3 395.6,569.8 396.3,567.0 397.1,565.6 397.9,565.8 398.7,564.5 399.4,564.5 400.2,564.3 401.0,563.9 401.7,565.1 402.5,564.6 403.3,564.3 404.1,564.8 404.8,564.1 405.6,563.8 406.4,565.0 407.2,565.7 407.9,566.0 408.7,566.0 409.5,567.0 410.3,566.8 411.0,567.3 411.8,567.5 412.6,568.5 413.4,569.4 414.1,569.0 414.9,569.2 415.7,568.9 416.4,569.5 417.2,571.0 418.0,572.6 418.8,573.5 419.5,574.7 420.3,574.2 421.1,575.7 421.9,576.5 422.6,577.4 423.4,577.6 424.2,578.5 425.0,578.5 425.7,578.9 426.5,579.8 427.3,580.0 428.1,581.3 428.8,581.5 429.6,582.2 430.4,582.0 431.1,581.2 431.9,581.2 432.7,580.2 433.5,580.1 434.2,579.7 435.0,579.2 435.8,578.9 436.6,578.3 437.3,578.0 438.1,577.9 438.9,577.6 439.7,577.9 440.4,578.5 441.2,578.7 442.0,578.6 442.8,578.2 443.5,578.5 444.3,577.8 445.1,577.4 445.8,577.5 446.6,576.3 447.4,576.4 448.2,575.9 448.9,575.8 449.7,575.4 450.5,575.0 451.3,574.3 452.0,573.8 452.8,573.5 453.6,573.6 454.4,572.4 455.1,572.3 455.9,571.1 456.7,570.7 457.5,569.8 458.2,569.0 459.0,569.7 459.8,569.4 460.5,570.0 461.3,570.1 462.1,568.9 462.9,568.7 463.6,568.2 464.4,567.1 465.2,568.1 466.0,567.5 466.7,566.8 467.5,567.6 468.3,567.9 469.1,567.9 469.8,568.3 470.6,568.2 471.4,569.2 472.2,569.6 472.9,570.9 473.7,570.1 474.5,571.2 475.2,572.3 476.0,574.0 476.8,574.2 477.6,574.0 478.3,573.9 479.1,573.3 479.9,572.2 480.7,571.8 481.4,571.3 482.2,571.1 483.0,570.3 483.8,570.5 484.5,570.6 485.3,570.7 486.1,569.7 486.9,570.0 487.6,569.4 488.4,569.7 489.2,569.0 489.9,568.8 490.7,567.5 491.5,567.4 492.3,566.7 493.0,566.4 493.8,565.9 494.6,565.5 495.4,565.9 496.1,565.6 496.9,567.0 497.7,567.6 498.5,567.8 499.2,568.9 500.0,568.6 500.8,568.7 501.6,568.2 502.3,567.1 503.1,567.4 503.9,566.4 504.6,566.4 505.4,566.8 506.2,565.1 507.0,565.6 507.7,566.4 508.5,566.9 509.3,568.0 510.1,568.3 510.8,568.7 511.6,568.4 512.4,568.3 513.2,567.6 513.9,566.8 514.7,567.2 515.5,568.8 516.3,568.6 517.0,569.5 517.8,569.8 518.6,570.0 519.3,570.1 520.1,571.9 520.9,572.2 521.7,572.5 522.4,572.9 523.2,572.3 524.0,572.9 524.8,573.7 525.5,573.7 526.3,573.7 527.1,574.0 527.9,574.0 528.6,574.6 529.4,574.9 530.2,575.1 531.0,575.8 531.7,576.0 532.5,576.5 533.3,576.0 534.1,575.4 534.8,576.4 535.6,576.3 536.4,576.5 537.1,575.8 537.9,575.8 538.7,575.0 539.5,576.1 540.2,575.8 541.0,574.6 541.8,575.3 542.6,576.1 543.3,575.8 544.1,576.1 544.9,576.4 545.7,577.1 546.4,577.8 547.2,577.1 548.0,578.0 548.8,577.3 549.5,577.3 550.3,577.6 551.1,577.8 551.8,578.0 552.6,579.7 553.4,580.8 554.2,580.9 554.9,582.4 555.7,582.2 556.5,580.9 557.3,580.4 558.0,579.3 558.8,578.1 559.6,578.8 560.4,577.9 561.1,578.3 561.9,578.2 562.7,577.5 563.5,577.4 564.2,578.2 565.0,579.1 565.8,579.3 566.5,580.3 567.3,580.2 568.1,580.8 568.9,582.1 569.6,582.2 570.4,581.4 571.2,581.3 572.0,580.5 572.7,580.3 573.5,579.1 574.3,579.4 575.1,579.5 575.8,579.1 576.6,578.3 577.4,578.2 578.2,578.6 578.9,578.3 579.7,578.4 580.5,578.3 581.2,578.0 582.0,578.5 582.8,579.0 583.6,578.6 584.3,579.7 585.1,580.2 585.9,580.0 586.7,579.7 587.4,579.8 588.2,580.0 589.0,580.1 589.8,580.7 590.5,581.2 591.3,580.9 592.1,581.1 592.9,581.0 593.6,581.6 594.4,582.2 595.2,582.4 595.9,582.7 596.7,583.9 597.5,584.1 598.3,584.8 599.0,585.0 599.8,586.3 600.6,586.2 601.4,587.3 602.1,586.9 602.9,586.5 603.7,585.2 604.5,584.9 605.2,583.9 606.0,583.4 606.8,582.6 607.6,582.3 608.3,581.2 609.1,580.5 609.9,579.5 610.6,578.1 611.4,577.6 612.2,577.5 613.0,576.5 613.7,574.4 614.5,573.7 615.3,573.9 616.1,573.3 616.8,572.9 617.6,572.7 618.4,573.2 619.2,572.7 619.9,573.8 620.7,573.8 621.5,573.3 622.3,573.0 623.0,572.6 623.8,572.8 624.6,572.3 625.3,571.3 626.1,570.8 626.9,570.7 627.7,569.9 628.4,569.8 629.2,570.6 630.0,571.4 630.8,570.9 631.5,570.0 632.3,569.7 633.1,569.9 633.9,569.8 634.6,568.7 635.4,568.0 636.2,567.4 637.0,566.5 637.7,565.9 638.5,567.0 639.3,566.9 640.0,566.9 640.8,567.7 641.6,567.2 642.4,567.8 643.1,568.3 643.9,568.1 644.7,568.6 645.5,570.0 646.2,570.9 647.0,570.6 647.8,568.7 648.6,569.0 649.3,568.9 650.1,568.1 650.9,568.0 651.7,566.7 652.4,567.9 653.2,568.3 654.0,568.8 654.7,569.8 655.5,569.9 656.3,570.4 657.1,569.7 657.8,569.6 658.6,568.9 659.4,568.2 660.2,568.7 660.9,568.3 661.7,568.7 662.5,570.1 663.3,569.7 664.0,569.9 664.8,571.3 665.6,572.1 666.4,572.3 667.1,572.4 667.9,571.9 668.7,572.8 669.4,572.5 670.2,573.2 671.0,574.4 671.8,574.5 672.5,573.7 673.3,573.1 674.1,571.9 674.9,572.9 675.6,573.0 676.4,573.3 677.2,573.4 678.0,575.0 678.7,574.6 679.5,574.2 680.3,574.3 681.1,573.7 681.8,572.7 682.6,572.3 683.4,571.8 684.1,572.3 684.9,571.9 685.7,571.3 686.5,570.8 687.2,571.4 688.0,571.0 688.8,569.3 689.6,567.5 690.3,567.5 691.1,567.6 691.9,567.6 692.7,567.2 693.4,567.2 694.2,566.0 695.0,566.2 695.8,565.3 696.5,566.9 697.3,568.2 698.1,568.3 698.8,568.5 699.6,570.2 700.4,571.5 701.2,573.3 701.9,574.2 702.7,573.4 703.5,574.6 704.3,574.1 705.0,574.0 705.8,574.7 706.6,576.5 707.4,578.6 708.1,581.6 708.9,582.5 709.7,582.2 710.5,581.9 711.2,581.4 712.0,580.8 712.8,581.3 713.6,581.7 714.3,581.9 715.1,582.9 715.9,582.9 716.6,580.8 717.4,579.4 718.2,577.9 719.0,577.1 719.7,577.2 720.5,577.8 721.3,578.5 722.1,579.8 722.8,580.0 723.6,580.3 724.4,579.8 725.2,580.5 725.9,580.8 726.7,579.4 727.5,580.0 728.3,579.4 729.0,578.6 729.8,577.3 730.6,577.0 731.3,576.3 732.1,575.9 732.9,575.3 733.7,575.1 734.4,575.3 735.2,576.4 736.0,577.3 736.8,576.9 737.5,577.1 738.3,577.2 739.1,576.9 739.9,575.9 740.6,575.8 741.4,575.2 742.2,575.3 743.0,575.1 743.7,575.4 744.5,575.3 745.3,575.4 746.0,573.8 746.8,573.9 747.6,573.2 748.4,572.7 749.1,572.5 749.9,571.4 750.7,571.8 751.5,571.6 752.2,571.5 753.0,572.2 753.8,574.2 754.6,574.3 755.3,574.4 756.1,574.1 756.9,573.1 757.7,572.9 758.4,573.5 759.2,574.2 760.0,572.7 760.7,572.1 761.5,571.3 762.3,571.1 763.1,571.1 763.8,571.1 764.6,571.3 765.4,571.7 766.2,571.2 766.9,571.4 767.7,570.0 768.5,570.0 769.3,571.5 770.0,572.7 770.8,573.0 771.6,572.4 772.4,572.3 773.1,572.8 773.9,572.1 774.7,572.0 775.4,572.0 776.2,572.7 777.0,573.5 777.8,573.5 778.5,573.9 779.3,574.6 780.1,574.0 780.9,575.3 781.6,573.6 782.4,572.9 783.2,572.3 784.0,571.1 784.7,570.6 785.5,571.8 786.3,571.9 787.1,571.6 787.8,571.3 788.6,571.5 789.4,570.7 790.1,569.9 790.9,569.8 791.7,570.2 792.5,570.6 793.2,570.5 794.0,571.0 794.8,571.4 795.6,571.3 796.3,571.5 797.1,572.3 797.9,572.8 798.7,573.7 799.4,574.5 800.2,575.1 801.0,576.2 801.8,575.6 802.5,575.6 803.3,575.0 804.1,574.5 804.8,573.5 805.6,574.5 806.4,574.3 807.2,574.5 807.9,576.6 808.7,577.1 809.5,577.6 810.3,578.0 811.0,577.5 811.8,578.2 812.6,579.1 813.4,579.4 814.1,579.1 814.9,579.4 815.7,578.7 816.5,578.1 817.2,577.4 818.0,577.4 818.8,577.1 819.5,575.5 820.3,575.8 821.1,575.4 821.9,574.9 822.6,575.0 823.4,574.4 824.2,574.5 825.0,574.5 825.7,573.3 826.5,573.4 827.3,573.1 828.1,574.1 828.8,573.5 829.6,573.0 830.4,572.6 831.2,571.4 831.9,572.5 832.7,573.2 833.5,574.3 834.2,574.9 835.0,575.6 835.8,574.7 836.6,574.1 837.3,576.0 838.1,576.7 838.9,577.0 839.7,577.1 840.4,576.8 841.2,577.3 842.0,577.0 842.8,576.5 843.5,576.3 844.3,577.0 845.1,576.6 845.9,576.3 846.6,576.4 847.4,576.3 848.2,575.7 848.9,575.5 849.7,575.8 850.5,576.0 851.3,576.7 852.0,575.9 852.8,574.4 853.6,574.6 854.4,574.5 855.1,574.5 855.9,573.9 856.7,572.9 857.5,572.5 858.2,571.5 859.0,571.8 859.8,571.4 860.6,571.2 861.3,571.9 862.1,571.8 862.9,572.7 863.6,572.8 864.4,574.0 865.2,574.8 866.0,575.1 866.7,576.0 867.5,576.3 868.3,576.3 869.1,575.6 869.8,575.2 870.6,574.4 871.4,575.3 872.2,575.1 872.9,575.3 873.7,575.0 874.5,574.5 875.3,575.0 876.0,574.5 876.8,574.6 877.6,576.1 878.3,575.0 879.1,573.5 879.9,573.3 880.7,573.2 881.4,573.1 882.2,572.8 883.0,573.0 883.8,573.4 884.5,573.6 885.3,573.9 886.1,574.0 886.9,573.9 887.6,573.9 888.4,573.8 889.2,573.9 890.0,573.6 890.7,572.7 891.5,574.2 892.3,573.5 893.0,574.3 893.8,575.1 894.6,574.9 895.4,574.5 896.1,574.8 896.9,574.1 897.7,573.3 898.5,573.5 899.2,573.6 900.0,573.2 900.8,573.4 901.6,574.6 902.3,573.6 903.1,574.0 903.9,573.6 904.7,572.8 905.4,572.6 906.2,572.6 907.0,572.6 907.8,572.2 908.5,572.3 909.3,572.3 910.1,571.7 910.8,570.8 911.6,570.4 912.4,569.0 913.2,567.1 913.9,566.1 914.7,565.9 915.5,566.6 916.3,565.4 917.0,564.9 917.8,563.4 918.6,564.0 919.4,563.2 920.1,563.2 920.9,561.9 921.7,562.5 922.5,562.2 923.2,561.4 924.0,561.2 924.8,561.1 925.5,561.3 926.3,562.3 927.1,562.6 927.9,563.8 928.6,562.6 929.4,561.3 930.2,561.0 931.0,560.8 931.7,560.5 932.5,561.2 933.3,561.5 934.1,560.8 934.8,561.1 935.6,559.8 936.4,559.1 937.2,559.8 937.9,559.4 938.7,559.3 939.5,558.7 940.2,558.5 941.0,559.2 941.8,558.0 942.6,558.8 943.3,558.6 944.1,558.8 944.9,557.5 945.7,557.7 946.4,556.1 947.2,555.5 948.0,556.0 948.8,555.6 949.5,556.8 950.3,556.5 951.1,557.6 951.9,556.3 952.6,556.7 953.4,556.2 954.2,555.7 954.9,556.7 955.7,557.7 956.5,557.9 957.3,558.6 958.0,558.9 958.8,558.8 959.6,558.1 960.4,556.9 961.1,556.3 961.9,556.2 962.7,554.7 963.5,553.6 964.2,553.8 965.0,553.0 965.8,552.7 966.6,552.7 967.3,553.0 968.1,553.0 968.9,552.8 969.6,554.0 970.4,555.9 971.2,554.5 972.0,552.9 972.7,550.5 973.5,549.0 974.3,548.0 975.1,546.8 975.8,544.2 976.6,542.9 977.4,540.9 978.2,538.4 978.9,537.1 979.7,534.8 980.5,534.4 981.3,533.3 982.0,532.9 982.8,532.2 983.6,530.0 984.3,529.1 985.1,527.8 985.9,527.1 986.7,526.1 987.4,526.6 988.2,527.7 989.0,528.1 989.8,529.9 990.5,531.2 991.3,529.7 992.1,529.0 992.9,527.9 993.6,527.4 994.4,525.3 995.2,523.4 996.0,522.3 996.7,521.8 997.5,520.7 998.3,519.6 999.0,520.7 999.8,520.7 1000.6,523.0 1001.4,524.2 1002.1,524.9 1002.9,525.1 1003.7,523.1 1004.5,523.1 1005.2,522.3 1006.0,521.0 1006.8,521.3 1007.6,521.8 1008.3,522.9 1009.1,521.6 1009.9,522.6 1010.7,525.2 1011.4,525.6 1012.2,526.1 1013.0,527.2 1013.7,528.0 1014.5,528.5 1015.3,527.4 1016.1,525.8 1016.8,524.2 1017.6,524.0 1018.4,523.7 1019.2,522.1 1019.9,520.9 1020.7,519.8 1021.5,519.2 1022.3,520.1 1023.0,517.8 1023.8,517.9 1024.6,515.8 1025.4,516.2 1026.1,516.0 1026.9,516.1 1027.7,515.5 1028.4,515.7 1029.2,513.0 1030.0,513.1 1030.8,511.8 1031.5,510.3 1032.3,507.4 1033.1,506.1 1033.9,503.1 1034.6,502.1 1035.4,499.6 1036.2,496.7 1037.0,494.0 1037.7,492.9 1038.5,490.2 1039.3,490.7 1040.1,488.9 1040.8,488.1 1041.6,487.6 1042.4,486.5 1043.1,484.3 1043.9,482.8 1044.7,479.7 1045.5,478.3 1046.2,474.9 1047.0,473.2 1047.8,472.5 1048.6,471.3 1049.3,469.8 1050.1,468.1 1050.9,466.4 1051.7,465.2 1052.4,461.6 1053.2,462.0 1054.0,464.6 1054.8,463.7 1055.5,466.5 1056.3,469.8 1057.1,468.9 1057.8,469.5 1058.6,472.5 1059.4,472.5 1060.2,476.2 1060.9,473.0 1061.7,469.4 1062.5,467.5 1063.3,465.7 1064.0,463.9 1064.8,460.3 1065.6,457.2 1066.4,454.5 1067.1,453.1 1067.9,450.2 1068.7,446.0 1069.5,445.1 1070.2,441.4 1071.0,439.6 1071.8,436.9 1072.5,435.4 1073.3,435.4 1074.1,432.8 1074.9,429.8 1075.6,428.9 1076.4,424.8 1077.2,422.6 1078.0,423.0 1078.7,426.1 1079.5,431.2 1080.3,436.7 1081.1,440.0 1081.8,444.6 1082.6,446.6 1083.4,451.0 1084.2,454.2 1084.9,458.9 1085.7,462.1 1086.5,468.3 1087.3,474.9 1088.0,477.4 1088.8,479.0 1089.6,487.6 1090.3,492.3 1091.1,497.9 1091.9,500.2 1092.7,494.7 1093.4,484.2 1094.2,479.9 1095.0,475.8 1095.8,477.2 1096.5,478.2 1097.3,473.1 1098.1,464.0 1098.9,466.3 1099.6,471.0 1100.4,478.4 1101.2,482.4 1102.0,482.9 1102.7,482.1 1103.5,479.5 1104.3,476.9 1105.0,476.2 1105.8,480.0 1106.6,477.1 1107.4,479.9 1108.1,476.4 1108.9,474.2 1109.7,477.7 1110.5,472.1 1111.2,470.4 1112.0,480.0 1112.8,480.0 1113.6,480.8 1114.3,494.2 1115.1,512.5 1115.9,521.7 1116.7,517.0 1117.4,515.6 1118.2,508.8 1119.0,507.0 1119.7,506.9 1120.5,507.7 1121.3,506.4 1122.1,505.6 1122.8,503.3 1123.6,504.1 1124.4,507.8 1125.2,511.7 1125.9,511.7 1126.7,515.6 1127.5,513.0 1128.3,511.6 1129.0,509.3 1129.8,507.6 1130.6,507.9 1131.4,506.8 1132.1,506.9 1132.9,508.1 1133.7,507.2 1134.4,509.6 1135.2,506.8 1136.0,505.5 1136.8,503.2 1137.5,503.9 1138.3,502.0 1139.1,500.2 1139.9,497.5 1140.6,495.5 1141.4,492.8 1142.2,490.4 1143.0,491.6 1143.7,492.5 1144.5,492.9 1145.3,491.6 1146.1,489.1 1146.8,488.0 1147.6,488.2 1148.4,487.7 1149.1,490.1 1149.9,489.1 1150.7,485.8 1151.5,482.6 1152.2,480.3 1153.0,479.0 1153.8,478.1 1154.6,478.0 1155.3,477.5 1156.1,478.6 1156.9,478.6 1157.7,478.8 1158.4,477.7 1159.2,476.4 1160.0,478.2 1160.8,478.5 1161.5,478.2 1162.3,479.5 1163.1,482.3 1163.8,484.8 1164.6,484.3 1165.4,486.7 1166.2,485.5 1166.9,485.9 1167.7,486.5 1168.5,483.5 1169.3,483.8 1170.0,483.3 1170.8,482.4 1171.6,480.4 1172.4,480.7 1173.1,479.3 1173.9,477.2 1174.7,475.1 1175.5,475.6 1176.2,474.7 1177.0,474.7 1177.8,477.5 1178.5,478.1 1179.3,481.6 1180.1,482.6 1180.9,484.0 1181.6,485.1 1182.4,486.9 1183.2,488.3 1184.0,492.2 1184.7,496.1 1185.5,499.9 1186.3,503.2 1187.1,504.6 1187.8,504.4 1188.6,505.7 1189.4,506.0 1190.2,508.4 1190.9,508.6 1191.7,509.1 1192.5,512.3 1193.2,515.5 1194.0,515.7 1194.8,520.9 1195.6,524.3 1196.3,524.6 1197.1,526.2 1197.9,526.4 1198.7,523.6 1199.4,521.2 1200.2,520.5 1201.0,520.3 1201.8,519.4 1202.5,516.9 1203.3,516.6 1204.1,516.4 1204.9,516.9 1205.6,516.2 1206.4,514.4 1207.2,513.1 1207.9,510.8 1208.7,510.8 1209.5,513.8 1210.3,515.7 1211.0,520.7 1211.8,523.7 1212.6,519.0 1213.4,516.1 1214.1,515.4 1214.9,514.6 1215.7,514.7 1216.5,517.8 1217.2,518.3 1218.0,517.9 1218.8,515.3 1219.6,513.3 1220.3,512.3 1221.1,510.0 1221.9,509.7 1222.6,507.6 1223.4,507.8 1224.2,507.9 1225.0,507.4 1225.7,507.4 1226.5,508.3 1227.3,508.1 1228.1,507.1 1228.8,507.8 1229.6,507.0 1230.4,506.4 1231.2,504.4 1231.9,504.2 1232.7,502.7 1233.5,503.0 1234.3,504.0 1235.0,504.9 1235.8,504.3 1236.6,505.0 1237.3,506.7 1238.1,506.4 1238.9,506.9 1239.7,508.0 1240.4,509.2 1241.2,508.5 1242.0,508.2 1242.8,508.1 1243.5,508.1 1244.3,508.6 1245.1,508.1 1245.9,510.1 1246.6,510.8 1247.4,513.3 1248.2,513.7 1249.0,514.1 1249.7,513.6 1250.5,514.5 1251.3,513.8 1252.0,514.4 1252.8,513.4 1253.6,514.6 1254.4,514.1 1255.1,513.7 1255.9,513.0 1256.7,513.2 1257.5,512.8 1258.2,513.0 1259.0,511.7 1259.8,510.2 1260.6,510.9 1261.3,510.0 1262.1,509.3 1262.9,509.9 1263.7,511.6 1264.4,512.5 1265.2,512.8 1266.0,513.4 1266.8,513.4 1267.5,512.1 1268.3,512.0 1269.1,511.7 1269.8,511.2 1270.6,510.8 1271.4,510.7 1272.2,510.8 1272.9,509.9 1273.7,509.1 1274.5,507.9 1275.3,506.9 1276.0,506.2 1276.8,506.1 1277.6,506.0 1278.4,504.2 1279.1,502.9 1279.9,502.0 1280.7,500.7 1281.5,500.9 1282.2,499.8 1283.0,502.0 1283.8,500.7 1284.5,502.8 1285.3,503.3 1286.1,503.0 1286.9,502.4 1287.6,504.2 1288.4,505.4 1289.2,505.2 1290.0,505.4 1290.7,505.8 1291.5,504.8 1292.3,505.9 1293.1,505.6 1293.8,505.2 1294.6,504.0 1295.4,501.9 1296.2,503.0 1296.9,501.5 1297.7,499.1 1298.5,498.7 1299.2,496.1 1300.0,495.8 1300.8,496.0 1301.6,497.6 1302.3,496.5 1303.1,497.1 1303.9,497.6 1304.7,498.0 1305.4,498.2 1306.2,497.7 1307.0,496.8 1307.8,498.6 1308.5,498.3 1309.3,499.6 1310.1,499.5 1310.9,498.6 1311.6,499.5 1312.4,501.2 1313.2,501.6 1313.9,502.6 1314.7,502.7 1315.5,503.0 1316.3,503.5 1317.0,504.4 1317.8,503.8 1318.6,503.7 1319.4,503.4 1320.1,504.0 1320.9,502.5 1321.7,502.0 1322.5,502.1 1323.2,500.7 1324.0,500.7 1324.8,499.9 1325.6,499.1 1326.3,499.5 1327.1,499.1 1327.9,498.7 1328.6,500.3 1329.4,498.5 1330.2,498.5 1331.0,496.3 1331.7,496.3 1332.5,496.5 1333.3,494.9 1334.1,495.7 1334.8,494.3 1335.6,495.4 1336.4,495.1 1337.2,494.7 1337.9,495.6 1338.7,497.2 1339.5,498.3 1340.3,496.7 1341.0,496.6 1341.8,494.9 1342.6,495.0 1343.3,494.2 1344.1,493.4 1344.9,492.9 1345.7,492.1 1346.4,491.3 1347.2,489.2 1348.0,488.6 1348.8,489.4 1349.5,488.9 1350.3,488.2 1351.1,487.5 1351.9,486.6 1352.6,486.3 1353.4,485.2 1354.2,484.1 1355.0,486.4 1355.7,486.0 1356.5,487.8 1357.3,488.1 1358.0,488.4 1358.8,489.3 1359.6,490.2 1360.4,490.5 1361.1,490.7 1361.9,491.3 1362.7,491.1 1363.5,490.4 1364.2,490.3 1365.0,491.0 1365.8,490.7 1366.6,493.6 1367.3,493.9 1368.1,492.2 1368.9,491.2 1369.7,492.5 1370.4,491.9 1371.2,492.1 1372.0,492.0 1372.7,492.2 1373.5,493.1 1374.3,492.2 1375.1,492.1 1375.8,491.4 1376.6,493.1 1377.4,494.1 1378.2,494.6 1378.9,496.0 1379.7,495.5 1380.5,495.8 1381.3,494.2 1382.0,493.1 1382.8,492.5 1383.6,492.2 1384.4,491.9 1385.1,489.7 1385.9,491.2 1386.7,489.9 1387.4,489.6 1388.2,489.0 1389.0,489.4 1389.8,490.8 1390.5,489.8 1391.3,488.6 1392.1,486.6 1392.9,486.8 1393.6,486.7 1394.4,485.4 1395.2,483.3 1396.0,484.5 1396.7,482.8 1397.5,482.2 1398.3,483.4 1399.1,484.1 1399.8,484.2 1400.6,485.1 1401.4,485.1 1402.1,486.1 1402.9,485.2 1403.7,485.4 1404.5,484.2 1405.2,484.0 1406.0,483.7 1406.8,483.8 1407.6,484.1 1408.3,484.2 1409.1,483.4 1409.9,482.6 1410.7,484.5 1411.4,483.9 1412.2,484.7 1413.0,483.7 1413.8,484.3 1414.5,484.8 1415.3,484.4 1416.1,484.1 1416.8,482.9 1417.6,481.5 1418.4,482.6 1419.2,481.3 1419.9,481.0 1420.7,481.7 1421.5,481.5 1422.3,480.7 1423.0,480.5 1423.8,481.9 1424.6,481.9 1425.4,481.6 1426.1,481.6 1426.9,483.3 1427.7,485.6 1428.5,483.9 1429.2,484.2 1430.0,484.8 1430.8,484.3 1431.5,485.4 1432.3,484.6 1433.1,486.5 1433.9,485.7 1434.6,487.6 1435.4,486.8 1436.2,488.9 1437.0,488.8 1437.7,488.6 1438.5,488.0 1439.3,487.8 1440.1,488.8 1440.8,488.7 1441.6,486.8 1442.4,486.9 1443.2,487.5 1443.9,487.8 1444.7,487.2 1445.5,487.2 1446.2,487.6 1447.0,485.4 1447.8,485.4 1448.6,485.2 1449.3,485.1 1450.1,484.0 1450.9,481.9 1451.7,480.8 1452.4,480.4 1453.2,482.8 1454.0,481.5 1454.8,481.7 1455.5,480.8 1456.3,479.2 1457.1,478.5 1457.9,478.6 1458.6,479.1 1459.4,477.1 1460.2,477.4 1461.0,477.2 1461.7,476.2 1462.5,476.3 1463.3,477.2 1464.0,478.4 1464.8,476.4 1465.6,476.3 1466.4,476.2 1467.1,476.6 1467.9,475.2 1468.7,476.5 1469.5,476.6 1470.2,477.4 1471.0,478.2 1471.8,476.9 1472.6,476.8 1473.3,475.8 1474.1,476.6 1474.9,475.6 1475.7,475.5 1476.4,476.5 1477.2,476.3 1478.0,474.6 1478.7,474.7 1479.5,474.9 1480.3,474.5 1481.1,475.1 1481.8,475.8 1482.6,475.4 1483.4,475.0 1484.2,476.0 1484.9,476.1 1485.7,475.0 1486.5,474.8 1487.3,473.2 1488.0,473.3 1488.8,472.9 1489.6,472.7 1490.4,471.5 1491.1,471.6 1491.9,469.1 1492.7,468.2 1493.4,468.0 1494.2,466.6 1495.0,466.6 1495.8,466.8 1496.5,466.9 1497.3,467.0 1498.1,465.7 1498.9,467.7 1499.6,466.0 1500.4,467.3 1501.2,467.5 1502.0,467.5 1502.7,467.1 1503.5,466.1 1504.3,467.6 1505.1,468.1 1505.8,467.2 1506.6,467.6 1507.4,466.3 1508.1,466.7 1508.9,466.3 1509.7,466.4 1510.5,465.8 1511.2,464.6 1512.0,464.5 1512.8,464.3 1513.6,465.8 1514.3,464.8 1515.1,463.4 1515.9,463.6 1516.7,462.7 1517.4,463.7 1518.2,463.4 1519.0,463.2 1519.8,463.5 1520.5,464.9 1521.3,462.6 1522.1,464.3 1522.8,463.8 1523.6,462.5 1524.4,462.3 1525.2,462.9 1525.9,463.1 1526.7,464.2 1527.5,464.5 1528.3,464.7 1529.0,463.2 1529.8,462.5 1530.6,462.0 1531.4,460.3 1532.1,463.2 1532.9,463.2 1533.7,462.5 1534.5,463.6 1535.2,464.8 1536.0,466.4 1536.8,467.8 1537.5,470.1 1538.3,468.8 1539.1,470.3 1539.9,467.1 1540.6,466.6 1541.4,467.4 1542.2,467.7 1543.0,466.5 1543.7,466.3 1544.5,467.3 1545.3,468.0 1546.1,470.3 1546.8,470.5 1547.6,469.4 1548.4,468.0 1549.2,466.7 1549.9,467.4 1550.7,466.8 1551.5,466.3 1552.2,466.5 1553.0,466.0 1553.8,466.2 1554.6,466.1 1555.3,466.7 1556.1,467.4 1556.9,468.0 1557.7,467.4 1558.4,465.8 1559.2,464.0 1560.0,462.7 1560.8,462.8 1561.5,462.6 1562.3,462.2 1563.1,461.1 1563.9,462.6 1564.6,462.5 1565.4,461.3 1566.2,462.2 1566.9,462.0 1567.7,461.9 1568.5,460.9 1569.3,460.7 1570.0,460.7 1570.8,458.6 1571.6,459.8 1572.4,460.4 1573.1,461.0 1573.9,462.4 1574.7,463.6 1575.5,464.5 1576.2,466.6 1577.0,470.9 1577.8,475.8 1578.6,478.8 1579.3,477.0 1580.1,474.5 1580.9,472.7 1581.6,472.8 1582.4,471.7 1583.2,469.2 1584.0,469.2 1584.7,469.1 1585.5,469.0 1586.3,469.0 1587.1,467.4 1587.8,465.8 1588.6,466.8 1589.4,466.5 1590.2,466.7 1590.9,466.9 1591.7,466.1 1592.5,465.3 1593.3,463.4 1594.0,463.2 1594.8,463.7 1595.6,465.0 1596.3,467.3 1597.1,467.0 1597.9,468.2 1598.7,470.8 1599.4,472.7 1600.2,475.3 1601.0,474.5 1601.8,474.1 1602.5,473.4 1603.3,472.7 1604.1,473.0 1604.9,472.1 1605.6,472.8 1606.4,474.1 1607.2,473.5 1608.0,472.7 1608.7,471.2 1609.5,471.2 1610.3,471.7 1611.0,471.7 1611.8,472.1 1612.6,473.8 1613.4,475.5 1614.1,474.3 1614.9,475.1 1615.7,475.3 1616.5,474.9 1617.2,474.7 1618.0,474.3 1618.8,473.0 1619.6,472.2 1620.3,471.9 1621.1,472.3 1621.9,471.2 1622.7,471.7 1623.4,469.7 1624.2,469.9 1625.0,470.4 1625.7,471.3 1626.5,471.2 1627.3,471.5 1628.1,472.4 1628.8,471.0 1629.6,469.1 1630.4,468.6 1631.2,469.0 1631.9,470.4 1632.7,472.3 1633.5,473.8 1634.3,475.3 1635.0,477.4 1635.8,477.7 1636.6,476.8 1637.4,475.9 1638.1,477.0 1638.9,475.3 1639.7,475.7 1640.5,477.5 1641.2,478.2 1642.0,479.3 1642.8,481.8 1643.5,484.1 1644.3,486.8 1645.1,487.0 1645.9,487.5 1646.6,488.4 1647.4,488.5 1648.2,488.9 1649.0,489.7 1649.7,488.9 1650.5,489.8 1651.3,490.6 1652.1,491.9 1652.8,492.6 1653.6,492.4 1654.4,493.2 1655.2,491.9 1655.9,492.0 1656.7,489.9 1657.5,490.7 1658.2,490.4 1659.0,490.1 1659.8,490.0 1660.6,489.2 1661.3,488.1 1662.1,486.0 1662.9,483.6 1663.7,483.6 1664.4,484.2 1665.2,484.9 1666.0,484.2 1666.8,484.3 1667.5,488.0 1668.3,491.7 1669.1,495.1 1669.9,495.6 1670.6,496.0 1671.4,496.5 1672.2,495.2 1672.9,496.2 1673.7,497.4 1674.5,497.7 1675.3,498.9 1676.0,498.9 1676.8,498.0 1677.6,496.8 1678.4,497.4 1679.1,495.6 1679.9,495.2 1680.7,493.9 1681.5,495.2 1682.2,497.2 1683.0,497.8 1683.8,498.1 1684.6,499.6 1685.3,499.4 1686.1,500.1 1686.9,500.5 1687.6,501.6 1688.4,501.8 1689.2,501.2 1690.0,502.4 1690.7,502.2 1691.5,500.0 1692.3,497.9 1693.1,496.8 1693.8,495.5 1694.6,493.8 1695.4,494.4 1696.2,494.3 1696.9,494.1 1697.7,494.8 1698.5,496.9 1699.3,498.4 1700.0,498.9 1700.8,498.8 1701.6,499.9 1702.3,500.1 1703.1,500.5 1703.9,504.6 1704.7,509.5 1705.4,511.1 1706.2,513.5 1707.0,514.4 1707.8,514.9 1708.5,512.8 1709.3,510.5 1710.1,508.2 1710.9,508.8 1711.6,507.4 1712.4,509.4 1713.2,508.3 1714.0,505.6 1714.7,503.5 1715.5,501.3 1716.3,500.7 1717.0,499.6 1717.8,500.3 1718.6,498.7 1719.4,498.9 1720.1,497.9 1720.9,497.1 1721.7,496.8 1722.5,496.1 1723.2,497.0 1724.0,498.1 1724.8,499.6 1725.6,500.8 1726.3,502.0 1727.1,502.9 1727.9,503.7 1728.7,503.3 1729.4,503.5 1730.2,503.8"/>
<polyline stroke="#8172B2" points="55.9,558.4 56.7,558.7 57.4,559.4 58.2,558.8 59.0,558.5 59.8,557.6 60.5,557.4 61.3,556.4 62.1,556.2 62.9,555.7 63.6,555.6 64.4,555.2 65.2,556.3 66.0,559.4 66.7,560.3 67.5,563.7 68.3,564.8 69.1,565.1 69.8,566.1 70.6,567.1 71.4,567.1 72.1,566.1 72.9,565.8 73.7,566.3 74.5,565.6 75.2,566.1 76.0,566.0 76.8,565.1 77.6,565.1 78.3,565.5 79.1,566.2 79.9,565.7 80.7,565.7 81.4,565.4 82.2,565.4 83.0,564.4 83.8,564.1 84.5,563.7 85.3,563.3 86.1,562.9 86.8,563.6 87.6,563.2 88.4,565.1 89.2,564.6 89.9,564.5 90.7,564.6 91.5,564.4 92.3,565.3 93.0,565.4 93.8,565.2 94.6,565.2 95.4,565.0 96.1,565.3 96.9,564.2 97.7,564.8 98.5,563.9 99.2,563.6 100.0,563.1 100.8,562.2 101.5,562.4 102.3,561.8 103.1,561.6 103.9,561.5 104.6,561.9 105.4,561.3 106.2,560.8 107.0,560.6 107.7,560.9 108.5,560.6 109.3,560.3 110.1,561.1 110.8,562.3 111.6,562.6 112.4,563.3 113.2,564.4 113.9,565.2 114.7,564.6 115.5,566.3 116.2,567.2 117.0,568.2 117.8,568.2 118.6,569.6 119.3,570.6 120.1,572.0 120.9,573.0 121.7,572.8 122.4,573.9 123.2,574.8 124.0,575.4 124.8,576.5 125.5,577.3 126.3,576.7 127.1,576.3 127.9,576.2 128.6,576.6 129.4,576.1 130.2,576.5 130.9,577.0 131.7,577.4 132.5,577.3 133.3,577.3 134.0,578.6 134.8,579.4 135.6,579.1 136.4,579.3 137.1,579.1 137.9,578.6 138.7,579.0 139.5,578.6 140.2,578.5 141.0,579.5 141.8,580.2 142.6,580.2 143.3,580.0 144.1,579.5 144.9,579.7 145.6,580.0 146.4,581.1 147.2,581.7 148.0,582.5 148.7,584.8 149.5,586.6 150.3,586.5 151.1,586.1 151.8,586.3 152.6,586.6 153.4,586.7 154.2,586.0 154.9,584.9 155.7,584.6 156.5,583.3 157.3,583.0 158.0,583.1 158.8,582.1 159.6,582.1 160.4,581.8 161.1,581.8 161.9,581.3 162.7,581.0 163.4,580.5 164.2,580.2 165.0,579.9 165.8,579.0 166.5,578.3 167.3,577.1 168.1,577.3 168.9,577.4 169.6,577.2 170.4,576.2 171.2,575.5 172.0,575.7 172.7,575.0 173.5,575.4 174.3,575.1 175.1,574.7 175.8,575.1 176.6,575.6 177.4,576.2 178.1,576.2 178.9,576.2 179.7,576.2 180.5,575.8 181.2,575.7 182.0,576.4 182.8,576.3 183.6,576.2 184.3,574.6 185.1,574.8 185.9,575.0 186.7,575.4 187.4,575.4 188.2,576.3 189.0,576.8 189.8,576.8 190.5,576.1 191.3,576.6 192.1,576.4 192.8,576.1 193.6,575.5 194.4,575.3 195.2,573.6 195.9,572.6 196.7,571.4 197.5,571.8 198.3,570.4 199.0,569.2 199.8,568.2 200.6,568.0 201.4,568.7 202.1,567.7 202.9,566.5 203.7,565.5 204.5,564.2 205.2,564.4 206.0,563.2 206.8,563.7 207.5,561.3 208.3,562.3 209.1,560.8 209.9,560.5 210.6,559.5 211.4,558.8 212.2,559.1 213.0,557.8 213.7,558.3 214.5,557.7 215.3,558.2 216.1,557.9 216.8,557.9 217.6,560.9 218.4,563.4 219.2,566.3 219.9,567.4 220.7,567.2 221.5,566.7 222.2,567.2 223.0,567.6 223.8,567.7 224.6,567.9 225.3,568.1 226.1,568.0 226.9,568.7 227.7,568.4 228.4,567.5 229.2,567.3 230.0,567.4 230.8,567.5 231.5,568.3 232.3,568.2 233.1,567.8 233.9,568.1 234.6,567.4 235.4,568.1 236.2,568.2 236.9,568.3 237.7,568.0 238.5,568.7 239.3,570.2 240.0,570.8 240.8,570.7 241.6,572.4 242.4,572.5 243.1,572.2 243.9,571.6 244.7,572.7 245.5,572.9 246.2,573.1 247.0,574.2 247.8,574.0 248.6,573.9 249.3,575.5 250.1,575.9 250.9,576.7 251.6,577.5 252.4,578.2 253.2,580.5 254.0,580.6 254.7,579.3 255.5,578.3 256.3,578.2 257.1,577.5 257.8,577.4 258.6,577.5 259.4,577.0 260.2,576.4 260.9,576.0 261.7,575.4 262.5,575.2 263.3,575.1 264.0,573.3 264.8,573.6 265.6,572.9 266.3,572.0 267.1,571.7 267.9,571.1 268.7,571.4 269.4,570.7 270.2,570.6 271.0,570.5 271.8,570.5 272.5,570.5 273.3,570.5 274.1,569.9 274.9,569.9 275.6,569.6 276.4,568.8 277.2,570.4 278.0,570.9 278.7,570.6 279.5,571.5 280.3,571.2 281.0,571.6 281.8,571.6 282.6,572.0 283.4,571.9 284.1,572.2 284.9,571.9 285.7,570.2 286.5,570.7 287.2,570.9 288.0,570.7 288.8,569.3 289.6,568.9 290.3,570.8 291.1,569.8 291.9,570.4 292.7,570.3 293.4,570.7 294.2,570.9 295.0,570.4 295.7,570.3 296.5,570.5 297.3,570.8 298.1,570.1 298.8,570.8 299.6,572.1 300.4,572.3 301.2,573.2 301.9,573.4 302.7,573.8 303.5,573.7 304.3,574.4 305.0,574.3 305.8,574.9 306.6,575.8 307.4,576.7 308.1,574.9 308.9,576.6 309.7,575.9 310.4,576.9 311.2,577.3 312.0,577.4 312.8,578.6 313.5,578.7 314.3,578.8 315.1,579.0 315.9,579.7 316.6,579.8 317.4,580.4 318.2,580.8 319.0,581.3 319.7,581.8 320.5,581.8 321.3,582.3 322.1,582.4 322.8,582.0 323.6,581.4 324.4,582.6 325.1,583.0 325.9,582.2 326.7,582.9 327.5,582.8 328.2,582.3 329.0,580.9 329.8,581.0 330.6,580.8 331.3,581.0 332.1,580.4 332.9,581.3 333.7,580.5 334.4,578.3 335.2,579.0 336.0,577.3 336.8,576.7 337.5,576.3 338.3,577.2 339.1,576.1 339.9,577.3 340.6,577.0 341.4,576.8 342.2,576.9 342.9,576.4 343.7,576.6 344.5,576.9 345.3,577.3 346.0,577.8 346.8,577.9 347.6,576.5 348.4,577.4 349.1,577.8 349.9,578.2 350.7,578.4 351.5,579.1 352.2,579.4 353.0,580.3 353.8,581.4 354.6,581.2 355.3,581.4 356.1,581.5 356.9,581.4 357.6,582.0 358.4,581.7 359.2,582.8 360.0,583.1 360.7,583.3 361.5,582.0 362.3,582.1 363.1,582.7 363.8,582.2 364.6,581.9 365.4,582.0 366.2,582.2 366.9,583.4 367.7,583.6 368.5,583.6 369.3,584.2 370.0,583.5 370.8,584.5 371.6,584.6 372.3,584.5 373.1,585.1 373.9,586.1 374.7,586.0 375.4,586.3 376.2,585.6 377.0,585.3 377.8,585.4 378.5,585.1 379.3,586.1 380.1,586.7 380.9,587.6 381.6,587.8 382.4,588.0 383.2,588.5 384.0,589.1 384.7,589.5 385.5,589.4 386.3,588.7 387.0,589.0 387.8,589.6 388.6,589.0 389.4,589.5 390.1,590.0 390.9,589.9 391.7,591.0 392.5,591.0 393.2,592.0 394.0,591.8 394.8,591.2 395.6,590.5 396.3,588.7 397.1,587.3 397.9,587.7 398.7,587.3 399.4,587.0 400.2,586.8 401.0,586.7 401.7,587.4 402.5,587.0 403.3,586.7 404.1,586.7 404.8,586.8 405.6,586.8 406.4,587.2 407.2,588.3 407.9,588.4 408.7,588.9 409.5,589.8 410.3,589.1 411.0,589.1 411.8,589.4 412.6,589.7 413.4,590.7 414.1,590.8 414.9,591.1 415.7,591.3 416.4,592.0 417.2,593.0 418.0,593.6 418.8,594.1 419.5,594.7 420.3,594.8 421.1,595.7 421.9,596.7 422.6,597.3 423.4,597.6 424.2,598.0 425.0,598.3 425.7,598.8 426.5,599.5 427.3,599.4 428.1,600.4 428.8,600.2 429.6,600.8 430.4,600.8 431.1,600.5 431.9,600.0 432.7,599.3 433.5,599.7 434.2,599.2 435.0,599.0 435.8,598.7 436.6,598.6 437.3,598.6 438.1,598.3 438.9,598.0 439.7,598.3 440.4,598.3 441.2,598.8 442.0,598.7 442.8,598.5 443.5,598.7 444.3,598.3 445.1,597.9 445.8,597.6 446.6,597.2 447.4,596.7 448.2,596.3 448.9,597.1 449.7,596.0 450.5,596.5 451.3,595.7 452.0,595.5 452.8,594.6 453.6,594.6 454.4,594.4 455.1,593.9 455.9,593.4 456.7,592.8 457.5,592.4 458.2,592.1 459.0,592.3 459.8,592.7 460.5,593.3 461.3,593.0 462.1,592.2 462.9,592.2 463.6,591.2 464.4,590.8 465.2,591.1 466.0,590.8 466.7,590.5 467.5,591.2 468.3,591.1 469.1,591.8 469.8,591.6 470.6,591.8 471.4,592.4 472.2,592.3 472.9,593.5 473.7,593.1 474.5,593.7 475.2,594.5 476.0,595.2 476.8,595.8 477.6,595.7 478.3,595.5 479.1,595.0 479.9,594.6 480.7,594.2 481.4,594.4 482.2,593.8 483.0,593.7 483.8,593.7 484.5,594.1 485.3,594.1 486.1,593.4 486.9,593.0 487.6,592.4 488.4,593.3 489.2,593.1 489.9,593.2 490.7,592.7 491.5,592.5 492.3,592.0 493.0,592.2 493.8,591.9 494.6,591.5 495.4,591.1 496.1,590.4 496.9,591.1 497.7,591.9 498.5,591.5 499.2,592.5 500.0,592.6 500.8,592.9 501.6,591.7 502.3,591.2 503.1,591.5 503.9,591.3 504.6,591.7 505.4,591.5 506.2,590.4 507.0,590.6 507.7,591.4 508.5,591.8 509.3,593.2 510.1,592.9 510.8,592.9 511.6,592.7 512.4,593.0 513.2,592.4 513.9,591.7 514.7,591.4 515.5,593.0 516.3,592.4 517.0,592.6 517.8,592.7 518.6,593.1 519.3,594.0 520.1,595.2 520.9,595.3 521.7,595.4 522.4,595.4 523.2,595.0 524.0,595.5 524.8,595.8 525.5,595.8 526.3,595.9 527.1,596.1 527.9,596.1 528.6,596.8 529.4,596.2 530.2,597.0 531.0,598.0 531.7,598.1 532.5,598.7 533.3,598.1 534.1,597.6 534.8,597.9 535.6,597.3 536.4,598.0 537.1,597.6 537.9,597.7 538.7,597.4 539.5,597.9 540.2,597.3 541.0,596.8 541.8,597.1 542.6,597.8 543.3,597.5 544.1,597.6 544.9,597.1 545.7,597.8 546.4,598.8 547.2,598.6 548.0,598.9 548.8,598.6 549.5,598.6 550.3,598.3 551.1,598.8 551.8,599.3 552.6,600.3 553.4,601.3 554.2,601.6 554.9,602.2 555.7,601.5 556.5,600.8 557.3,600.2 558.0,599.3 558.8,598.9 559.6,599.2 560.4,598.4 561.1,599.0 561.9,598.6 562.7,598.6 563.5,598.7 564.2,599.2 565.0,600.0 565.8,600.2 566.5,601.0 567.3,600.6 568.1,601.2 568.9,601.7 569.6,601.9 570.4,601.4 571.2,601.5 572.0,600.7 572.7,600.5 573.5,600.1 574.3,599.8 575.1,599.7 575.8,600.0 576.6,599.9 577.4,599.8 578.2,599.8 578.9,599.8 579.7,599.4 580.5,599.4 581.2,599.4 582.0,599.7 582.8,600.4 583.6,600.4 584.3,600.8 585.1,601.3 585.9,601.2 586.7,600.3 587.4,600.0 588.2,600.5 589.0,600.9 589.8,601.2 590.5,601.8 591.3,602.1 592.1,601.9 592.9,602.1 593.6,602.3 594.4,602.4 595.2,602.5 595.9,602.9 596.7,603.5 597.5,603.7 598.3,604.0 599.0,604.5 599.8,605.4 600.6,605.2 601.4,606.3 602.1,605.8 602.9,605.8 603.7,604.7 604.5,604.5 605.2,604.2 606.0,603.8 606.8,603.5 607.6,602.8 608.3,601.7 609.1,601.3 609.9,600.4 610.6,599.6 611.4,599.4 612.2,598.9 613.0,598.5 613.7,597.0 614.5,596.5 615.3,596.5 616.1,596.1 616.8,595.5 617.6,595.9 618.4,596.5 619.2,595.9 619.9,596.3 620.7,596.3 621.5,596.7 622.3,596.7 623.0,596.8 623.8,596.8 624.6,596.0 625.3,594.9 626.1,594.8 626.9,594.7 627.7,594.2 628.4,594.2 629.2,594.8 630.0,595.2 630.8,595.0 631.5,594.8 632.3,594.4 633.1,594.2 633.9,593.5 634.6,592.9 635.4,592.6 636.2,592.1 637.0,592.4 637.7,592.2 638.5,592.7 639.3,592.6 640.0,592.8 640.8,593.5 641.6,593.4 642.4,594.0 643.1,594.4 643.9,594.1 644.7,594.6 645.5,595.4 646.2,595.9 647.0,596.0 647.8,595.2 648.6,595.0 649.3,594.8 650.1,594.1 650.9,593.8 651.7,593.4 652.4,594.2 653.2,594.8 654.0,595.2 654.7,596.0 655.5,596.4 656.3,596.4 657.1,595.8 657.8,595.8 658.6,595.5 659.4,594.7 660.2,595.2 660.9,594.9 661.7,594.8 662.5,595.5 663.3,595.2 664.0,595.3 664.8,596.5 665.6,597.5 666.4,597.8 667.1,597.1 667.9,596.9 668.7,597.3 669.4,597.8 670.2,598.6 671.0,599.6 671.8,599.5 672.5,598.8 673.3,598.4 674.1,597.4 674.9,597.8 675.6,598.2 676.4,598.5 677.2,598.9 678.0,599.8 678.7,599.4 679.5,599.5 680.3,599.5 681.1,599.5 681.8,599.2 682.6,599.2 683.4,599.0 684.1,599.6 684.9,599.1 685.7,598.8 686.5,599.0 687.2,598.9 688.0,598.8 688.8,598.0 689.6,596.9 690.3,596.6 691.1,597.0 691.9,596.7 692.7,596.1 693.4,596.1 694.2,596.3 695.0,596.7 695.8,595.8 696.5,596.9 697.3,597.8 698.1,598.2 698.8,598.4 699.6,599.3 700.4,599.4 701.2,600.5 701.9,601.1 702.7,600.8 703.5,601.7 704.3,600.9 705.0,600.9 705.8,600.8 706.6,602.3 707.4,603.1 708.1,605.1 708.9,606.0 709.7,605.4 710.5,604.6 711.2,604.7 712.0,604.3 712.8,604.7 713.6,604.7 714.3,605.3 715.1,605.5 715.9,605.7 716.6,604.3 717.4,603.7 718.2,602.7 719.0,602.4 719.7,601.6 720.5,602.0 721.3,602.8 722.1,603.7 722.8,603.8 723.6,604.0 724.4,603.8 725.2,603.8 725.9,603.5 726.7,603.4 727.5,603.6 728.3,603.2 729.0,602.9 729.8,602.0 730.6,601.9 731.3,601.4 732.1,601.5 732.9,601.0 733.7,600.6 734.4,601.0 735.2,601.4 736.0,602.0 736.8,601.7 737.5,601.7 738.3,601.8 739.1,602.1 739.9,601.4 740.6,600.8 741.4,600.6 742.2,600.6 743.0,600.3 743.7,600.5 744.5,600.7 745.3,600.7 746.0,599.7 746.8,599.8 747.6,599.5 748.4,599.3 749.1,599.2 749.9,598.2 750.7,599.1 751.5,599.2 752.2,599.5 753.0,599.5 753.8,600.3 754.6,600.6 755.3,600.2 756.1,600.0 756.9,599.0 757.7,599.1 758.4,599.5 759.2,599.8 760.0,599.5 760.7,599.2 761.5,598.8 762.3,598.9 763.1,599.0 763.8,598.8 764.6,599.0 765.4,598.7 766.2,598.2 766.9,598.2 767.7,597.5 768.5,598.0 769.3,598.7 770.0,599.2 770.8,600.0 771.6,599.5 772.4,599.4 773.1,599.6 773.9,599.0 774.7,599.4 775.4,599.9 776.2,599.7 777.0,600.5 777.8,600.6 778.5,601.2 779.3,601.6 780.1,601.2 780.9,602.1 781.6,600.9 782.4,600.4 783.2,599.6 784.0,599.0 784.7,598.8 785.5,599.6 786.3,599.6 787.1,598.7 787.8,598.6 788.6,598.8 789.4,597.8 790.1,597.8 790.9,598.0 791.7,598.0 792.5,597.6 793.2,597.9 794.0,598.2 794.8,598.2 795.6,598.0 796.3,598.5 797.1,599.3 797.9,599.7 798.7,600.5 799.4,601.5 800.2,601.6 801.0,602.5 801.8,602.5 802.5,602.3 803.3,601.7 804.1,601.6 804.8,600.9 805.6,601.6 806.4,601.7 807.2,601.7 807.9,603.3 808.7,603.8 809.5,604.3 810.3,604.5 811.0,604.8 811.8,605.0 812.6,605.6 813.4,605.9 814.1,606.0 814.9,606.2 815.7,605.5 816.5,605.7 817.2,605.0 818.0,605.4 818.8,604.5 819.5,603.4 820.3,603.7 821.1,603.8 821.9,603.6 822.6,604.0 823.4,603.6 824.2,604.0 825.0,603.7 825.7,602.9 826.5,603.2 827.3,603.0 828.1,603.9 828.8,603.1 829.6,603.3 830.4,603.5 831.2,603.1 831.9,603.3 832.7,604.3 833.5,605.1 834.2,605.3 835.0,605.9 835.8,605.0 836.6,604.7 837.3,605.8 838.1,606.6 838.9,606.7 839.7,606.4 840.4,606.7 841.2,607.4 842.0,607.2 842.8,606.9 843.5,607.0 844.3,607.2 845.1,606.9 845.9,606.4 846.6,606.6 847.4,606.5 848.2,606.4 848.9,606.4 849.7,606.8 850.5,606.7 851.3,607.3 852.0,606.6 852.8,606.1 853.6,606.3 854.4,606.2 855.1,605.9 855.9,605.8 856.7,605.0 857.5,604.8 858.2,604.3 859.0,604.4 859.8,604.4 860.6,604.3 861.3,604.8 862.1,605.0 862.9,605.5 863.6,605.9 864.4,606.2 865.2,606.7 866.0,606.7 866.7,607.2 867.5,607.4 868.3,607.6 869.1,607.5 869.8,606.7 870.6,606.7 871.4,607.0 872.2,606.7 872.9,606.5 873.7,606.3 874.5,605.8 875.3,606.2 876.0,606.1 876.8,606.1 877.6,607.3 878.3,606.6 879.1,605.9 879.9,606.3 880.7,606.0 881.4,605.8 882.2,605.0 883.0,605.4 883.8,605.7 884.5,606.2 885.3,606.3 886.1,606.0 886.9,605.5 887.6,605.5 888.4,605.7 889.2,605.7 890.0,605.6 890.7,605.6 891.5,606.2 892.3,606.2 893.0,606.4 893.8,606.8 894.6,606.3 895.4,606.0 896.1,606.0 896.9,606.1 897.7,605.9 898.5,606.3 899.2,606.1 900.0,605.5 900.8,605.4 901.6,606.7 902.3,606.6 903.1,606.9 903.9,606.4 904.7,606.0 905.4,605.7 906.2,605.8 907.0,605.7 907.8,606.0 908.5,606.2 909.3,606.0 910.1,605.6 910.8,605.2 911.6,604.9 912.4,603.9 913.2,603.0 913.9,602.4 914.7,602.3 915.5,602.9 916.3,601.9 917.0,601.8 917.8,601.0 918.6,600.9 919.4,600.4 920.1,599.9 920.9,599.3 921.7,600.1 922.5,599.3 923.2,599.3 924.0,599.3 924.8,599.1 925.5,598.7 926.3,599.4 927.1,600.7 927.9,601.2 928.6,600.6 929.4,599.8 930.2,599.5 931.0,599.3 931.7,598.8 932.5,599.4 933.3,599.1 934.1,598.9 934.8,598.8 935.6,597.8 936.4,597.4 937.2,597.4 937.9,597.0 938.7,597.2 939.5,597.3 940.2,597.1 941.0,598.0 941.8,597.4 942.6,597.7 943.3,597.8 944.1,597.9 944.9,596.8 945.7,596.5 946.4,595.4 947.2,595.5 948.0,595.2 948.8,595.2 949.5,595.7 950.3,595.5 951.1,596.4 951.9,595.9 952.6,596.4 953.4,595.4 954.2,595.5 954.9,596.5 955.7,597.4 956.5,597.7 957.3,598.2 958.0,597.9 958.8,597.4 959.6,598.3 960.4,597.4 961.1,596.3 961.9,595.7 962.7,595.3 963.5,594.1 964.2,594.6 965.0,593.9 965.8,593.8 966.6,593.3 967.3,593.6 968.1,593.3 968.9,593.8 969.6,594.0 970.4,595.0 971.2,594.6 972.0,593.3 972.7,592.3 973.5,591.6 974.3,591.5 975.1,590.9 975.8,589.8 976.6,588.1 977.4,587.0 978.2,585.1 978.9,584.0 979.7,582.2 980.5,581.8 981.3,581.8 982.0,580.9 982.8,580.4 983.6,579.3 984.3,579.0 985.1,578.1 985.9,578.0 986.7,577.3 987.4,578.2 988.2,578.0 989.0,578.1 989.8,579.3 990.5,579.9 991.3,579.0 992.1,578.3 992.9,577.8 993.6,577.2 994.4,576.1 995.2,574.6 996.0,573.1 996.7,573.3 997.5,573.6 998.3,572.9 999.0,573.6 999.8,573.9 1000.6,576.0 1001.4,576.1 1002.1,577.0 1002.9,576.7 1003.7,575.6 1004.5,575.3 1005.2,574.6 1006.0,573.2 1006.8,573.2 1007.6,573.2 1008.3,574.1 1009.1,573.5 1009.9,574.1 1010.7,575.2 1011.4,576.3 1012.2,576.2 1013.0,576.8 1013.7,577.5 1014.5,577.1 1015.3,576.4 1016.1,575.6 1016.8,574.3 1017.6,574.4 1018.4,574.7 1019.2,574.7 1019.9,573.6 1020.7,573.0 1021.5,572.4 1022.3,572.9 1023.0,571.3 1023.8,571.2 1024.6,569.6 1025.4,570.4 1026.1,571.0 1026.9,571.6 1027.7,571.9 1028.4,571.2 1029.2,570.9 1030.0,569.8 1030.8,569.0 1031.5,568.4 1032.3,567.0 1033.1,565.0 1033.9,562.7 1034.6,562.4 1035.4,560.7 1036.2,559.1 1037.0,557.1 1037.7,555.9 1038.5,554.7 1039.3,553.6 1040.1,552.2 1040.8,551.4 1041.6,551.5 1042.4,550.6 1043.1,549.7 1043.9,548.5 1044.7,546.6 1045.5,545.8 1046.2,544.4 1047.0,544.1 1047.8,543.1 1048.6,543.1 1049.3,542.5 1050.1,541.0 1050.9,540.5 1051.7,539.7 1052.4,539.2 1053.2,540.5 1054.0,541.6 1054.8,541.1 1055.5,542.6 1056.3,544.5 1057.1,543.7 1057.8,543.0 1058.6,545.6 1059.4,546.0 1060.2,548.2 1060.9,545.8 1061.7,542.7 1062.5,542.4 1063.3,541.3 1064.0,539.4 1064.8,537.3 1065.6,535.5 1066.4,533.6 1067.1,533.9 1067.9,532.9 1068.7,531.3 1069.5,530.2 1070.2,529.1 1071.0,527.7 1071.8,527.0 1072.5,525.4 1073.3,524.2 1074.1,521.3 1074.9,518.3 1075.6,517.7 1076.4,516.8 1077.2,515.5 1078.0,515.8 1078.7,518.5 1079.5,520.3 1080.3,524.2 1081.1,526.9 1081.8,527.4 1082.6,529.7 1083.4,531.9 1084.2,534.6 1084.9,536.7 1085.7,540.2 1086.5,543.4 1087.3,546.4 1088.0,548.8 1088.8,549.2 1089.6,555.9 1090.3,557.9 1091.1,562.0 1091.9,564.2 1092.7,558.0 1093.4,550.5 1094.2,548.7 1095.0,547.8 1095.8,548.7 1096.5,549.0 1097.3,544.7 1098.1,538.8 1098.9,540.7 1099.6,548.1 1100.4,553.9 1101.2,554.9 1102.0,553.4 1102.7,554.1 1103.5,550.9 1104.3,548.9 1105.0,548.0 1105.8,548.4 1106.6,546.1 1107.4,548.6 1108.1,548.1 1108.9,544.4 1109.7,549.4 1110.5,544.9 1111.2,544.9 1112.0,554.1 1112.8,555.6 1113.6,557.3 1114.3,566.1 1115.1,575.8 1115.9,578.9 1116.7,576.2 1117.4,573.5 1118.2,571.6 1119.0,571.1 1119.7,570.7 1120.5,569.9 1121.3,567.1 1122.1,568.0 1122.8,568.8 1123.6,569.3 1124.4,571.7 1125.2,575.9 1125.9,576.7 1126.7,577.6 1127.5,576.9 1128.3,575.9 1129.0,574.7 1129.8,573.6 1130.6,573.4 1131.4,574.3 1132.1,575.2 1132.9,576.2 1133.7,574.8 1134.4,576.3 1135.2,575.4 1136.0,574.7 1136.8,573.8 1137.5,573.4 1138.3,572.2 1139.1,571.2 1139.9,571.1 1140.6,569.4 1141.4,569.2 1142.2,567.7 1143.0,568.8 1143.7,567.2 1144.5,567.6 1145.3,567.0 1146.1,566.8 1146.8,565.7 1147.6,566.5 1148.4,565.7 1149.1,567.2 1149.9,566.6 1150.7,566.2 1151.5,564.7 1152.2,564.2 1153.0,563.2 1153.8,562.7 1154.6,562.7 1155.3,563.0 1156.1,563.0 1156.9,563.0 1157.7,563.1 1158.4,561.7 1159.2,561.0 1160.0,561.9 1160.8,562.3 1161.5,562.1 1162.3,562.6 1163.1,564.6 1163.8,566.7 1164.6,566.5 1165.4,568.6 1166.2,567.5 1166.9,567.8 1167.7,568.5 1168.5,566.9 1169.3,567.4 1170.0,566.1 1170.8,566.5 1171.6,565.9 1172.4,565.3 1173.1,565.1 1173.9,564.7 1174.7,564.0 1175.5,563.3 1176.2,562.7 1177.0,562.1 1177.8,564.8 1178.5,564.6 1179.3,566.1 1180.1,566.8 1180.9,566.9 1181.6,567.5 1182.4,568.3 1183.2,568.6 1184.0,570.9 1184.7,573.4 1185.5,576.1 1186.3,577.7 1187.1,578.5 1187.8,579.2 1188.6,580.0 1189.4,581.2 1190.2,582.0 1190.9,582.2 1191.7,583.2 1192.5,583.7 1193.2,585.1 1194.0,585.0 1194.8,587.2 1195.6,588.7 1196.3,588.9 1197.1,588.6 1197.9,588.9 1198.7,587.9 1199.4,586.9 1200.2,586.0 1201.0,586.0 1201.8,585.3 1202.5,584.3 1203.3,584.4 1204.1,584.3 1204.9,585.1 1205.6,584.6 1206.4,583.1 1207.2,582.8 1207.9,582.0 1208.7,582.3 1209.5,584.9 1210.3,586.5 1211.0,588.1 1211.8,589.7 1212.6,586.4 1213.4,584.1 1214.1,584.6 1214.9,584.8 1215.7,584.6 1216.5,585.0 1217.2,585.6 1218.0,584.7 1218.8,584.0 1219.6,582.7 1220.3,582.4 1221.1,581.3 1221.9,581.1 1222.6,580.3 1223.4,580.2 1224.2,580.4 1225.0,579.8 1225.7,580.3 1226.5,580.9 1227.3,580.9 1228.1,580.6 1228.8,580.8 1229.6,580.5 1230.4,580.5 1231.2,579.7 1231.9,579.6 1232.7,579.0 1233.5,579.5 1234.3,580.2 1235.0,580.5 1235.8,580.2 1236.6,581.6 1237.3,581.6 1238.1,581.5 1238.9,581.1 1239.7,582.1 1240.4,582.8 1241.2,583.3 1242.0,583.7 1242.8,583.4 1243.5,583.5 1244.3,583.9 1245.1,583.7 1245.9,584.1 1246.6,583.6 1247.4,585.1 1248.2,586.0 1249.0,586.0 1249.7,586.2 1250.5,586.0 1251.3,585.6 1252.0,586.2 1252.8,585.9 1253.6,585.9 1254.4,585.7 1255.1,585.2 1255.9,585.5 1256.7,585.7 1257.5,585.0 1258.2,585.5 1259.0,584.9 1259.8,585.0 1260.6,585.3 1261.3,584.2 1262.1,583.6 1262.9,584.2 1263.7,584.9 1264.4,585.8 1265.2,586.1 1266.0,586.0 1266.8,586.4 1267.5,586.1 1268.3,585.5 1269.1,585.1 1269.8,584.9 1270.6,583.9 1271.4,583.9 1272.2,583.4 1272.9,583.3 1273.7,583.1 1274.5,582.6 1275.3,582.3 1276.0,582.2 1276.8,581.8 1277.6,581.7 1278.4,581.3 1279.1,580.4 1279.9,580.2 1280.7,578.7 1281.5,579.0 1282.2,578.0 1283.0,579.2 1283.8,578.6 1284.5,579.8 1285.3,579.6 1286.1,579.4 1286.9,579.1 1287.6,579.8 1288.4,581.1 1289.2,580.5 1290.0,581.0 1290.7,580.6 1291.5,580.3 1292.3,580.6 1293.1,580.7 1293.8,580.0 1294.6,578.7 1295.4,578.6 1296.2,579.2 1296.9,578.5 1297.7,577.3 1298.5,576.8 1299.2,576.0 1300.0,575.7 1300.8,575.3 1301.6,576.1 1302.3,575.7 1303.1,575.8 1303.9,576.6 1304.7,576.6 1305.4,577.4 1306.2,577.1 1307.0,576.6 1307.8,577.3 1308.5,578.2 1309.3,578.3 1310.1,578.2 1310.9,577.8 1311.6,578.3 1312.4,579.4 1313.2,579.6 1313.9,580.0 1314.7,579.8 1315.5,580.1 1316.3,580.0 1317.0,580.9 1317.8,580.7 1318.6,581.0 1319.4,581.2 1320.1,581.6 1320.9,580.9 1321.7,580.8 1322.5,580.2 1323.2,580.3 1324.0,580.5 1324.8,579.7 1325.6,578.9 1326.3,578.9 1327.1,578.7 1327.9,578.0 1328.6,579.9 1329.4,579.0 1330.2,579.0 1331.0,578.2 1331.7,578.2 1332.5,579.1 1333.3,578.1 1334.1,578.4 1334.8,577.5 1335.6,578.2 1336.4,578.1 1337.2,578.1 1337.9,578.0 1338.7,578.8 1339.5,579.5 1340.3,578.6 1341.0,578.5 1341.8,578.1 1342.6,577.8 1343.3,577.3 1344.1,577.7 1344.9,577.1 1345.7,577.2 1346.4,576.2 1347.2,575.2 1348.0,575.2 1348.8,575.9 1349.5,575.8 1350.3,575.5 1351.1,575.5 1351.9,575.2 1352.6,574.9 1353.4,574.3 1354.2,573.6 1355.0,575.1 1355.7,574.7 1356.5,575.9 1357.3,576.4 1358.0,576.2 1358.8,577.4 1359.6,577.7 1360.4,578.0 1361.1,578.0 1361.9,578.9 1362.7,579.1 1363.5,578.5 1364.2,578.8 1365.0,578.7 1365.8,578.7 1366.6,580.5 1367.3,580.5 1368.1,579.1 1368.9,578.3 1369.7,579.0 1370.4,578.5 1371.2,578.3 1372.0,578.3 1372.7,578.9 1373.5,579.4 1374.3,578.5 1375.1,578.6 1375.8,578.2 1376.6,579.0 1377.4,579.1 1378.2,579.2 1378.9,579.9 1379.7,579.2 1380.5,579.4 1381.3,579.1 1382.0,579.2 1382.8,579.3 1383.6,579.2 1384.4,578.7 1385.1,577.8 1385.9,578.1 1386.7,577.0 1387.4,576.9 1388.2,576.6 1389.0,576.6 1389.8,577.7 1390.5,577.1 1391.3,577.0 1392.1,576.1 1392.9,576.2 1393.6,576.1 1394.4,575.7 1395.2,574.9 1396.0,575.7 1396.7,575.0 1397.5,574.9 1398.3,575.6 1399.1,575.1 1399.8,574.9 1400.6,575.5 1401.4,575.2 1402.1,576.2 1402.9,575.8 1403.7,575.6 1404.5,575.5 1405.2,575.9 1406.0,575.6 1406.8,575.9 1407.6,576.2 1408.3,575.6 1409.1,575.7 1409.9,575.6 1410.7,576.3 1411.4,577.1 1412.2,576.7 1413.0,575.6 1413.8,576.4 1414.5,577.2 1415.3,576.9 1416.1,576.4 1416.8,575.9 1417.6,575.4 1418.4,575.8 1419.2,575.5 1419.9,575.1 1420.7,575.2 1421.5,575.3 1422.3,574.9 1423.0,575.6 1423.8,575.7 1424.6,575.6 1425.4,575.3 1426.1,575.8 1426.9,577.0 1427.7,578.7 1428.5,577.8 1429.2,577.7 1430.0,578.6 1430.8,578.8 1431.5,580.0 1432.3,579.6 1433.1,580.4 1433.9,580.4 1434.6,581.7 1435.4,580.8 1436.2,581.5 1437.0,582.1 1437.7,581.7 1438.5,581.1 1439.3,581.1 1440.1,581.6 1440.8,581.3 1441.6,580.4 1442.4,580.5 1443.2,581.6 1443.9,581.6 1444.7,581.0 1445.5,580.8 1446.2,581.1 1447.0,580.2 1447.8,580.4 1448.6,580.0 1449.3,580.1 1450.1,579.1 1450.9,578.4 1451.7,577.6 1452.4,578.6 1453.2,579.1 1454.0,577.9 1454.8,578.3 1455.5,578.0 1456.3,577.2 1457.1,577.1 1457.9,577.6 1458.6,577.2 1459.4,576.9 1460.2,576.8 1461.0,577.3 1461.7,575.9 1462.5,575.7 1463.3,576.6 1464.0,576.6 1464.8,576.2 1465.6,576.4 1466.4,576.2 1467.1,576.2 1467.9,576.4 1468.7,576.7 1469.5,576.4 1470.2,576.6 1471.0,577.8 1471.8,576.4 1472.6,576.7 1473.3,576.5 1474.1,577.0 1474.9,576.1 1475.7,576.3 1476.4,576.8 1477.2,576.9 1478.0,575.8 1478.7,575.3 1479.5,576.2 1480.3,575.9 1481.1,576.5 1481.8,576.8 1482.6,576.8 1483.4,576.1 1484.2,576.9 1484.9,576.4 1485.7,576.4 1486.5,576.4 1487.3,575.7 1488.0,576.1 1488.8,576.2 1489.6,576.0 1490.4,574.8 1491.1,575.0 1491.9,574.0 1492.7,574.3 1493.4,574.4 1494.2,573.4 1495.0,573.0 1495.8,574.4 1496.5,574.1 1497.3,574.6 1498.1,573.2 1498.9,574.7 1499.6,573.4 1500.4,574.2 1501.2,574.0 1502.0,574.4 1502.7,574.4 1503.5,574.4 1504.3,575.5 1505.1,575.7 1505.8,575.1 1506.6,576.4 1507.4,575.9 1508.1,575.9 1508.9,576.1 1509.7,575.8 1510.5,575.6 1511.2,574.6 1512.0,574.8 1512.8,574.2 1513.6,575.6 1514.3,575.3 1515.1,574.3 1515.9,574.2 1516.7,574.4 1517.4,574.9 1518.2,574.1 1519.0,573.8 1519.8,574.2 1520.5,575.3 1521.3,574.1 1522.1,575.3 1522.8,574.8 1523.6,574.3 1524.4,575.0 1525.2,575.5 1525.9,575.3 1526.7,575.1 1527.5,575.5 1528.3,575.8 1529.0,575.9 1529.8,575.4 1530.6,575.1 1531.4,574.9 1532.1,576.0 1532.9,575.4 1533.7,574.5 1534.5,575.3 1535.2,576.0 1536.0,576.2 1536.8,577.3 1537.5,578.6 1538.3,578.5 1539.1,579.3 1539.9,577.5 1540.6,577.2 1541.4,578.2 1542.2,578.0 1543.0,576.9 1543.7,576.7 1544.5,577.0 1545.3,577.5 1546.1,578.3 1546.8,578.6 1547.6,578.6 1548.4,578.4 1549.2,577.9 1549.9,578.2 1550.7,577.3 1551.5,577.4 1552.2,577.3 1553.0,578.1 1553.8,577.1 1554.6,578.1 1555.3,578.5 1556.1,578.6 1556.9,579.0 1557.7,579.2 1558.4,578.6 1559.2,577.1 1560.0,576.3 1560.8,576.9 1561.5,577.1 1562.3,576.5 1563.1,576.1 1563.9,576.9 1564.6,576.3 1565.4,576.1 1566.2,576.3 1566.9,576.1 1567.7,577.0 1568.5,576.7 1569.3,576.9 1570.0,576.8 1570.8,575.5 1571.6,576.7 1572.4,576.8 1573.1,577.7 1573.9,577.6 1574.7,578.4 1575.5,578.8 1576.2,579.5 1577.0,581.7 1577.8,582.9 1578.6,583.9 1579.3,583.0 1580.1,582.4 1580.9,582.1 1581.6,582.6 1582.4,581.7 1583.2,580.5 1584.0,581.0 1584.7,581.2 1585.5,581.3 1586.3,581.0 1587.1,580.7 1587.8,579.3 1588.6,580.4 1589.4,579.9 1590.2,580.2 1590.9,580.5 1591.7,579.7 1592.5,579.7 1593.3,579.3 1594.0,579.2 1594.8,579.6 1595.6,579.2 1596.3,580.2 1597.1,580.1 1597.9,581.1 1598.7,581.9 1599.4,581.9 1600.2,582.5 1601.0,582.9 1601.8,582.3 1602.5,581.8 1603.3,581.4 1604.1,582.0 1604.9,581.4 1605.6,581.4 1606.4,581.9 1607.2,582.3 1608.0,581.9 1608.7,581.2 1609.5,581.7 1610.3,581.6 1611.0,581.8 1611.8,582.2 1612.6,583.0 1613.4,583.8 1614.1,583.9 1614.9,584.6 1615.7,584.7 1616.5,584.9 1617.2,584.4 1618.0,584.2 1618.8,583.8 1619.6,583.8 1620.3,583.7 1621.1,583.3 1621.9,582.9 1622.7,583.2 1623.4,582.4 1624.2,582.7 1625.0,582.8 1625.7,583.2 1626.5,583.5 1627.3,583.2 1628.1,583.8 1628.8,582.9 1629.6,582.6 1630.4,581.8 1631.2,582.4 1631.9,582.9 1632.7,583.8 1633.5,584.6 1634.3,584.8 1635.0,585.2 1635.8,585.3 1636.6,585.5 1637.4,584.9 1638.1,585.5 1638.9,585.4 1639.7,585.6 1640.5,586.2 1641.2,586.9 1642.0,587.3 1642.8,588.2 1643.5,589.6 1644.3,590.3 1645.1,590.2 1645.9,590.8 1646.6,591.0 1647.4,591.6 1648.2,591.9 1649.0,591.9 1649.7,591.5 1650.5,592.1 1651.3,592.7 1652.1,593.8 1652.8,594.5 1653.6,594.1 1654.4,594.6 1655.2,594.2 1655.9,594.0 1656.7,593.5 1657.5,593.7 1658.2,593.3 1659.0,592.9 1659.8,592.8 1660.6,592.8 1661.3,592.3 1662.1,592.5 1662.9,591.4 1663.7,591.9 1664.4,592.5 1665.2,592.5 1666.0,592.2 1666.8,591.8 1667.5,593.2 1668.3,593.6 1669.1,594.8 1669.9,595.3 1670.6,595.8 1671.4,595.7 1672.2,596.2 1672.9,596.0 1673.7,596.6 1674.5,596.3 1675.3,596.8 1676.0,596.8 1676.8,596.4 1677.6,595.8 1678.4,596.4 1679.1,595.8 1679.9,596.0 1680.7,595.1 1681.5,595.3 1682.2,596.5 1683.0,597.0 1683.8,597.3 1684.6,597.2 1685.3,597.4 1686.1,598.1 1686.9,598.1 1687.6,598.4 1688.4,598.8 1689.2,598.4 1690.0,599.1 1690.7,599.0 1691.5,598.6 1692.3,598.1 1693.1,598.2 1693.8,597.8 1694.6,597.5 1695.4,598.0 1696.2,598.3 1696.9,598.3 1697.7,598.2 1698.5,599.3 1699.3,599.5 1700.0,599.5 1700.8,600.0 1701.6,600.1 1702.3,600.1 1703.1,600.6 1703.9,601.4 1704.7,603.2 1705.4,604.0 1706.2,604.8 1707.0,604.8 1707.8,604.7 1708.5,604.1 1709.3,603.9 1710.1,603.1 1710.9,603.7 1711.6,602.8 1712.4,603.2 1713.2,603.2 1714.0,602.0 1714.7,601.5 1715.5,600.9 1716.3,601.3 1717.0,600.9 1717.8,601.4 1718.6,600.9 1719.4,601.0 1720.1,600.3 1720.9,599.7 1721.7,599.8 1722.5,600.1 1723.2,599.7 1724.0,599.6 1724.8,600.5 1725.6,601.2 1726.3,602.1 1727.1,602.5 1727.9,602.3 1728.7,602.1 1729.4,602.2 1730.2,602.5"/>
<polyline stroke="#CCB974" points="55.9,558.6 56.7,558.9 57.4,559.1 58.2,558.6 59.0,558.4 59.8,557.3 60.5,557.7 61.3,557.2 62.1,556.7 62.9,556.2 63.6,556.1 64.4,556.0 65.2,557.5 66.0,559.9 66.7,561.2 67.5,563.3 68.3,564.8 69.1,565.9 69.8,567.3 70.6,568.3 71.4,568.8 72.1,567.8 72.9,568.0 73.7,567.8 74.5,567.8 75.2,567.9 76.0,568.0 76.8,567.9 77.6,567.7 78.3,567.3 79.1,568.2 79.9,567.7 80.7,567.5 81.4,567.0 82.2,567.0 83.0,566.6 83.8,566.4 84.5,566.1 85.3,564.9 86.1,565.0 86.8,565.4 87.6,565.6 88.4,566.4 89.2,566.6 89.9,566.9 90.7,567.8 91.5,567.7 92.3,568.6 93.0,569.1 93.8,568.5 94.6,567.9 95.4,568.2 96.1,567.9 96.9,567.1 97.7,566.7 98.5,566.5 99.2,565.9 100.0,566.2 100.8,565.8 101.5,566.1 102.3,565.3 103.1,565.4 103.9,565.3 104.6,565.1 105.4,565.1 106.2,564.9 107.0,565.0 107.7,564.6 108.5,564.1 109.3,564.2 110.1,565.5 110.8,566.3 111.6,566.3 112.4,567.4 113.2,568.2 113.9,569.0 114.7,569.8 115.5,570.7 116.2,571.5 117.0,572.8 117.8,573.3 118.6,574.6 119.3,574.8 120.1,575.9 120.9,576.9 121.7,577.0 122.4,578.5 123.2,579.6 124.0,580.8 124.8,581.7 125.5,582.2 126.3,581.0 127.1,580.5 127.9,580.5 128.6,581.1 129.4,580.9 130.2,581.1 130.9,581.6 131.7,582.0 132.5,582.5 133.3,582.7 134.0,583.9 134.8,584.8 135.6,584.3 136.4,584.4 137.1,584.1 137.9,583.9 138.7,584.2 139.5,583.8 140.2,583.9 141.0,584.6 141.8,585.3 142.6,585.4 143.3,585.5 144.1,585.4 144.9,585.7 145.6,586.5 146.4,587.6 147.2,588.1 148.0,589.3 148.7,591.3 149.5,592.4 150.3,593.1 151.1,592.6 151.8,592.5 152.6,592.3 153.4,592.6 154.2,591.9 154.9,591.5 155.7,591.0 156.5,590.1 157.3,589.8 158.0,590.3 158.8,589.5 159.6,588.9 160.4,588.3 161.1,588.4 161.9,588.0 162.7,587.8 163.4,587.4 164.2,587.5 165.0,587.0 165.8,586.0 166.5,585.3 167.3,584.0 168.1,584.5 168.9,584.6 169.6,584.4 170.4,583.7 171.2,583.4 172.0,583.1 172.7,583.6 173.5,583.7 174.3,583.3 175.1,583.2 175.8,583.2 176.6,583.2 177.4,584.3 178.1,584.0 178.9,584.2 179.7,584.4 180.5,584.0 181.2,583.6 182.0,583.9 182.8,583.7 183.6,583.6 184.3,582.9 185.1,583.0 185.9,582.9 186.7,583.5 187.4,583.4 188.2,584.1 189.0,584.5 189.8,584.5 190.5,584.4 191.3,584.7 192.1,584.5 192.8,584.3 193.6,583.9 194.4,583.8 195.2,582.3 195.9,581.5 196.7,580.3 197.5,580.1 198.3,579.3 199.0,578.8 199.8,578.3 200.6,577.8 201.4,578.0 202.1,577.5 202.9,576.2 203.7,575.4 204.5,575.5 205.2,574.3 206.0,573.7 206.8,572.9 207.5,571.6 208.3,571.6 209.1,570.7 209.9,570.5 210.6,570.0 211.4,569.5 212.2,570.0 213.0,569.7 213.7,569.7 214.5,569.4 215.3,569.5 216.1,569.1 216.8,569.0 217.6,571.2 218.4,573.6 219.2,576.1 219.9,577.4 220.7,577.7 221.5,577.7 222.2,577.6 223.0,577.9 223.8,578.3 224.6,578.4 225.3,578.4 226.1,578.1 226.9,578.6 227.7,578.1 228.4,577.8 229.2,577.9 230.0,577.9 230.8,578.0 231.5,578.7 232.3,578.2 233.1,577.9 233.9,578.3 234.6,578.0 235.4,577.9 236.2,578.1 236.9,578.3 237.7,578.2 238.5,579.0 239.3,580.1 240.0,580.6 240.8,580.4 241.6,581.4 242.4,582.1 243.1,581.7 243.9,581.6 244.7,581.9 245.5,582.2 246.2,582.6 247.0,583.7 247.8,583.7 248.6,583.7 249.3,584.5 250.1,584.5 250.9,585.3 251.6,586.1 252.4,587.1 253.2,588.4 254.0,588.6 254.7,587.7 255.5,587.3 256.3,587.4 257.1,586.4 257.8,586.4 258.6,586.3 259.4,586.0 260.2,585.3 260.9,585.1 261.7,584.8 262.5,584.9 263.3,585.3 264.0,584.9 264.8,584.6 265.6,583.5 266.3,582.8 267.1,582.0 267.9,581.9 268.7,582.7 269.4,581.9 270.2,581.6 271.0,581.4 271.8,580.9 272.5,581.1 273.3,581.0 274.1,581.1 274.9,580.9 275.6,580.9 276.4,581.2 277.2,581.7 278.0,582.2 278.7,582.3 279.5,583.1 280.3,583.1 281.0,583.3 281.8,583.6 282.6,583.8 283.4,583.8 284.1,584.1 284.9,584.0 285.7,583.6 286.5,583.8 287.2,583.7 288.0,584.0 288.8,583.5 289.6,583.5 290.3,584.3 291.1,583.6 291.9,583.9 292.7,583.6 293.4,584.0 294.2,584.5 295.0,584.0 295.7,584.3 296.5,584.6 297.3,585.1 298.1,584.9 298.8,585.6 299.6,586.1 300.4,586.3 301.2,587.2 301.9,587.7 302.7,588.2 303.5,588.6 304.3,588.7 305.0,588.6 305.8,588.8 306.6,589.3 307.4,590.1 308.1,589.4 308.9,590.2 309.7,590.2 310.4,590.9 311.2,591.3 312.0,591.5 312.8,592.4 313.5,593.2 314.3,593.5 315.1,593.8 315.9,594.2 316.6,594.4 317.4,594.8 318.2,595.0 319.0,595.6 319.7,596.0 320.5,596.1 321.3,596.7 322.1,596.7 322.8,596.9 323.6,596.5 324.4,597.0 325.1,597.1 325.9,597.1 326.7,597.0 327.5,597.2 328.2,596.9 329.0,595.8 329.8,595.8 330.6,595.3 331.3,595.2 332.1,594.9 332.9,595.0 333.7,594.3 334.4,593.4 335.2,593.5 336.0,592.9 336.8,592.1 337.5,592.1 338.3,592.8 339.1,592.1 339.9,591.9 340.6,591.8 341.4,591.5 342.2,591.8 342.9,591.7 343.7,591.9 344.5,592.1 345.3,592.6 346.0,593.2 346.8,593.3 347.6,593.1 348.4,594.0 349.1,594.4 349.9,594.9 350.7,595.4 351.5,596.0 352.2,596.5 353.0,597.4 353.8,598.2 354.6,598.8 355.3,598.8 356.1,599.2 356.9,599.5 357.6,600.1 358.4,599.8 359.2,600.4 360.0,600.5 360.7,600.7 361.5,600.5 362.3,600.4 363.1,600.7 363.8,600.2 364.6,600.3 365.4,600.1 366.2,600.6 366.9,601.1 367.7,601.7 368.5,601.4 369.3,601.9 370.0,602.1 370.8,602.3 371.6,602.3 372.3,602.7 373.1,602.5 373.9,603.0 374.7,603.2 375.4,603.4 376.2,603.2 377.0,603.1 377.8,603.2 378.5,603.2 379.3,604.1 380.1,604.2 380.9,605.0 381.6,605.2 382.4,605.7 383.2,606.0 384.0,606.2 384.7,606.7 385.5,606.5 386.3,606.5 387.0,606.1 387.8,606.5 388.6,606.4 389.4,606.6 390.1,607.0 390.9,607.1 391.7,608.0 392.5,608.3 393.2,608.6 394.0,608.5 394.8,607.8 395.6,607.7 396.3,606.8 397.1,605.8 397.9,605.8 398.7,605.1 399.4,605.0 400.2,605.0 401.0,605.1 401.7,605.3 402.5,605.5 403.3,605.3 404.1,605.4 404.8,605.5 405.6,605.5 406.4,605.8 407.2,606.7 407.9,606.8 408.7,607.0 409.5,607.7 410.3,607.8 411.0,608.1 411.8,608.0 412.6,608.7 413.4,609.2 414.1,609.2 414.9,609.4 415.7,609.5 416.4,609.9 417.2,610.9 418.0,611.4 418.8,611.8 419.5,612.8 420.3,613.1 421.1,613.7 421.9,614.1 422.6,614.8 423.4,614.9 424.2,615.3 425.0,615.6 425.7,615.9 426.5,616.0 427.3,616.3 428.1,616.7 428.8,617.0 429.6,617.1 430.4,617.5 431.1,617.3 431.9,617.1 432.7,616.9 433.5,616.8 434.2,616.8 435.0,616.5 435.8,616.2 436.6,616.1 437.3,616.2 438.1,616.2 438.9,616.1 439.7,616.1 440.4,616.3 441.2,616.5 442.0,616.5 442.8,616.5 443.5,616.5 444.3,616.2 445.1,616.2 445.8,616.0 446.6,615.8 447.4,615.7 448.2,615.3 448.9,615.5 449.7,615.3 450.5,615.3 451.3,615.0 452.0,614.8 452.8,614.3 453.6,614.5 454.4,614.2 455.1,613.8 455.9,613.7 456.7,613.3 457.5,612.7 458.2,612.9 459.0,613.1 459.8,613.1 460.5,613.3 461.3,613.2 462.1,612.9 462.9,612.8 463.6,612.6 464.4,612.5 465.2,612.9 466.0,612.5 466.7,612.4 467.5,612.9 468.3,612.8 469.1,613.2 469.8,613.3 470.6,613.6 471.4,613.6 472.2,614.0 472.9,614.8 473.7,614.4 474.5,615.0 475.2,615.5 476.0,616.0 476.8,616.6 477.6,616.7 478.3,616.7 479.1,616.5 479.9,616.2 480.7,615.7 481.4,615.7 482.2,615.4 483.0,615.3 483.8,615.6 484.5,615.6 485.3,615.6 486.1,615.1 486.9,615.1 487.6,614.8 488.4,614.9 489.2,614.8 489.9,614.5 490.7,614.5 491.5,614.2 492.3,614.1 493.0,614.3 493.8,613.9 494.6,614.0 495.4,613.9 496.1,613.6 496.9,614.0 497.7,614.1 498.5,614.4 499.2,615.1 500.0,615.1 500.8,615.4 501.6,615.2 502.3,615.1 503.1,615.3 503.9,615.2 504.6,615.4 505.4,615.0 506.2,614.6 507.0,614.7 507.7,615.3 508.5,615.2 509.3,615.9 510.1,616.0 510.8,616.2 511.6,616.4 512.4,616.6 513.2,616.1 513.9,616.0 514.7,616.1 515.5,616.5 516.3,616.5 517.0,617.1 517.8,617.4 518.6,617.5 519.3,618.0 520.1,618.6 520.9,618.7 521.7,618.9 522.4,619.0 523.2,619.1 524.0,619.4 524.8,619.4 525.5,619.5 526.3,619.6 527.1,619.5 527.9,619.9 528.6,620.2 529.4,620.4 530.2,620.6 531.0,620.9 531.7,620.9 532.5,621.3 533.3,621.3 534.1,621.1 534.8,621.5 535.6,621.4 536.4,621.6 537.1,621.1 537.9,621.0 538.7,620.7 539.5,621.3 540.2,620.9 541.0,620.9 541.8,621.0 542.6,621.4 543.3,621.1 544.1,621.0 544.9,621.0 545.7,621.4 546.4,621.9 547.2,621.9 548.0,622.1 548.8,622.1 549.5,622.1 550.3,622.2 551.1,622.3 551.8,622.3 552.6,622.9 553.4,623.6 554.2,623.8 554.9,624.2 555.7,624.1 556.5,623.8 557.3,623.5 558.0,623.0 558.8,622.9 559.6,622.9 560.4,622.4 561.1,622.7 561.9,622.7 562.7,622.7 563.5,622.9 564.2,623.3 565.0,623.4 565.8,623.5 566.5,624.0 567.3,624.0 568.1,624.3 568.9,624.6 569.6,624.8 570.4,624.3 571.2,624.3 572.0,624.2 572.7,624.0 573.5,623.8 574.3,623.8 575.1,623.7 575.8,623.8 576.6,623.7 577.4,623.7 578.2,623.7 578.9,623.6 579.7,623.4 580.5,623.6 581.2,623.6 582.0,623.5 582.8,623.4 583.6,623.5 584.3,623.9 585.1,624.3 585.9,624.3 586.7,624.4 587.4,624.5 588.2,624.5 589.0,624.4 589.8,624.7 590.5,625.1 591.3,625.2 592.1,625.3 592.9,625.3 593.6,625.5 594.4,625.9 595.2,625.9 595.9,626.0 596.7,626.4 597.5,626.6 598.3,626.7 599.0,627.0 599.8,627.4 600.6,627.3 601.4,627.7 602.1,627.9 602.9,627.9 603.7,627.7 604.5,627.6 605.2,627.6 606.0,627.4 606.8,627.1 607.6,626.9 608.3,626.5 609.1,626.4 609.9,626.3 610.6,626.2 611.4,625.9 612.2,625.8 613.0,625.6 613.7,625.1 614.5,625.1 615.3,625.2 616.1,624.8 616.8,624.7 617.6,624.6 618.4,624.8 619.2,624.6 619.9,624.8 620.7,624.9 621.5,625.1 622.3,625.1 623.0,625.0 623.8,625.1 624.6,624.9 625.3,624.2 626.1,624.2 626.9,624.3 627.7,624.0 628.4,624.0 629.2,624.3 630.0,624.7 630.8,624.5 631.5,624.3 632.3,624.1 633.1,624.0 633.9,623.8 634.6,623.6 635.4,623.5 636.2,623.2 637.0,622.8 637.7,622.5 638.5,622.9 639.3,623.1 640.0,623.3 640.8,623.5 641.6,623.5 642.4,623.6 643.1,623.9 643.9,624.0 644.7,624.3 645.5,624.7 646.2,624.9 647.0,625.0 647.8,624.4 648.6,624.5 649.3,624.5 650.1,624.3 650.9,624.1 651.7,623.9 652.4,624.6 653.2,624.9 654.0,625.0 654.7,625.5 655.5,625.8 656.3,625.7 657.1,625.5 657.8,625.6 658.6,625.3 659.4,625.1 660.2,625.4 660.9,625.3 661.7,625.6 662.5,626.0 663.3,626.0 664.0,626.1 664.8,626.6 665.6,627.2 666.4,627.3 667.1,627.0 667.9,627.0 668.7,627.2 669.4,627.4 670.2,627.9 671.0,628.3 671.8,628.4 672.5,628.3 673.3,628.0 674.1,627.9 674.9,628.0 675.6,628.0 676.4,628.1 677.2,628.2 678.0,628.5 678.7,628.4 679.5,628.6 680.3,628.6 681.1,628.5 681.8,628.2 682.6,627.9 683.4,628.1 684.1,628.3 684.9,628.1 685.7,628.1 686.5,628.1 687.2,628.1 688.0,627.8 688.8,627.4 689.6,626.9 690.3,626.8 691.1,626.8 691.9,626.5 692.7,626.4 693.4,626.5 694.2,626.7 695.0,626.7 695.8,626.5 696.5,626.8 697.3,627.3 698.1,627.5 698.8,627.8 699.6,628.0 700.4,628.4 701.2,628.8 701.9,629.3 702.7,629.2 703.5,629.5 704.3,629.3 705.0,629.2 705.8,629.1 706.6,630.0 707.4,630.6 708.1,631.8 708.9,632.1 709.7,631.8 710.5,631.6 711.2,631.5 712.0,631.5 712.8,631.5 713.6,631.6 714.3,631.9 715.1,632.0 715.9,632.0 716.6,631.6 717.4,631.1 718.2,630.6 719.0,630.5 719.7,630.4 720.5,630.5 721.3,630.7 722.1,631.2 722.8,631.3 723.6,631.6 724.4,631.5 725.2,631.5 725.9,631.5 726.7,631.3 727.5,631.6 728.3,631.6 729.0,631.4 729.8,631.1 730.6,631.0 731.3,630.7 732.1,630.5 732.9,630.3 733.7,630.2 734.4,630.4 735.2,630.6 736.0,630.9 736.8,630.8 737.5,631.0 738.3,631.2 739.1,631.2 739.9,630.8 740.6,630.8 741.4,630.6 742.2,630.5 743.0,630.5 743.7,630.6 744.5,630.7 745.3,630.6 746.0,630.3 746.8,630.3 747.6,630.1 748.4,630.1 749.1,629.9 749.9,629.6 750.7,629.9 751.5,630.0 752.2,630.2 753.0,630.3 753.8,630.9 754.6,630.7 755.3,630.7 756.1,630.5 756.9,630.2 757.7,630.4 758.4,630.5 759.2,630.8 760.0,630.6 760.7,630.5 761.5,630.2 762.3,630.2 763.1,630.3 763.8,630.1 764.6,630.3 765.4,630.4 766.2,630.4 766.9,630.2 767.7,630.0 768.5,630.1 769.3,630.8 770.0,631.2 770.8,631.3 771.6,631.3 772.4,631.3 773.1,631.5 773.9,631.4 774.7,631.6 775.4,631.6 776.2,631.6 777.0,631.9 777.8,631.8 778.5,632.2 779.3,632.3 780.1,632.3 780.9,632.6 781.6,632.2 782.4,631.9 783.2,631.6 784.0,631.1 784.7,631.1 785.5,631.3 786.3,631.4 787.1,631.3 787.8,631.1 788.6,631.2 789.4,631.0 790.1,631.0 790.9,631.1 791.7,631.1 792.5,631.0 793.2,631.0 794.0,631.2 794.8,631.4 795.6,631.4 796.3,631.5 797.1,631.7 797.9,632.1 798.7,632.2 799.4,632.8 800.2,633.0 801.0,633.3 801.8,633.4 802.5,633.2 803.3,633.0 804.1,632.9 804.8,632.8 805.6,633.1 806.4,633.0 807.2,633.1 807.9,633.7 808.7,634.0 809.5,634.3 810.3,634.4 811.0,634.4 811.8,634.2 812.6,634.5 813.4,634.6 814.1,634.7 814.9,634.8 815.7,634.8 816.5,634.8 817.2,634.7 818.0,634.7 818.8,634.6 819.5,634.4 820.3,634.4 821.1,634.5 821.9,634.3 822.6,634.4 823.4,634.3 824.2,634.4 825.0,634.4 825.7,634.2 826.5,634.2 827.3,634.2 828.1,634.5 828.8,634.4 829.6,634.4 830.4,634.3 831.2,634.3 831.9,634.5 832.7,634.7 833.5,635.0 834.2,635.1 835.0,635.4 835.8,635.4 836.6,635.4 837.3,635.7 838.1,636.0 838.9,636.0 839.7,636.3 840.4,636.4 841.2,636.6 842.0,636.5 842.8,636.3 843.5,636.5 844.3,636.5 845.1,636.5 845.9,636.6 846.6,636.5 847.4,636.7 848.2,636.5 848.9,636.4 849.7,636.5 850.5,636.6 851.3,636.7 852.0,636.7 852.8,636.4 853.6,636.4 854.4,636.5 855.1,636.5 855.9,636.1 856.7,636.1 857.5,636.0 858.2,635.8 859.0,636.1 859.8,636.2 860.6,636.1 861.3,636.3 862.1,636.4 862.9,636.5 863.6,636.6 864.4,636.9 865.2,636.9 866.0,637.2 866.7,637.4 867.5,637.6 868.3,637.7 869.1,637.5 869.8,637.4 870.6,637.2 871.4,637.6 872.2,637.7 872.9,637.6 873.7,637.6 874.5,637.4 875.3,637.8 876.0,637.9 876.8,637.9 877.6,638.2 878.3,638.1 879.1,638.0 879.9,638.0 880.7,638.0 881.4,638.1 882.2,638.1 883.0,638.2 883.8,638.3 884.5,638.4 885.3,638.3 886.1,638.4 886.9,638.4 887.6,638.5 888.4,638.4 889.2,638.6 890.0,638.7 890.7,638.5 891.5,638.7 892.3,638.7 893.0,638.9 893.8,639.1 894.6,639.0 895.4,638.9 896.1,639.1 896.9,639.0 897.7,638.9 898.5,639.0 899.2,639.0 900.0,638.9 900.8,639.0 901.6,639.3 902.3,639.2 903.1,639.2 903.9,639.2 904.7,639.2 905.4,639.1 906.2,639.2 907.0,639.2 907.8,639.3 908.5,639.4 909.3,639.5 910.1,639.4 910.8,639.3 911.6,639.3 912.4,639.1 913.2,638.6 913.9,638.5 914.7,638.5 915.5,638.6 916.3,638.4 917.0,638.5 917.8,638.4 918.6,638.4 919.4,638.3 920.1,638.4 920.9,638.0 921.7,638.1 922.5,638.0 923.2,637.8 924.0,637.8 924.8,637.7 925.5,637.5 926.3,637.6 927.1,638.0 927.9,638.3 928.6,638.1 929.4,637.8 930.2,637.8 931.0,637.6 931.7,637.5 932.5,637.6 933.3,637.7 934.1,637.4 934.8,637.3 935.6,637.0 936.4,636.9 937.2,637.0 937.9,636.9 938.7,636.9 939.5,636.9 940.2,637.0 941.0,637.1 941.8,637.0 942.6,637.2 943.3,637.1 944.1,637.1 944.9,636.8 945.7,636.9 946.4,636.6 947.2,636.5 948.0,636.4 948.8,636.4 949.5,636.5 950.3,636.5 951.1,636.8 951.9,636.7 952.6,636.8 953.4,636.5 954.2,636.8 954.9,637.0 955.7,637.2 956.5,637.3 957.3,637.5 958.0,637.6 958.8,637.7 959.6,637.8 960.4,637.6 961.1,637.4 961.9,637.0 962.7,636.9 963.5,636.6 964.2,636.6 965.0,636.4 965.8,636.4 966.6,636.3 967.3,636.4 968.1,636.2 968.9,636.3 969.6,636.4 970.4,636.8 971.2,636.5 972.0,636.5 972.7,636.0 973.5,635.8 974.3,635.8 975.1,635.5 975.8,635.2 976.6,634.8 977.4,634.6 978.2,634.1 978.9,633.8 979.7,633.3 980.5,633.1 981.3,633.2 982.0,633.0 982.8,632.8 983.6,632.7 984.3,632.5 985.1,632.4 985.9,632.2 986.7,632.0 987.4,632.2 988.2,632.1 989.0,631.8 989.8,631.9 990.5,631.8 991.3,631.5 992.1,631.5 992.9,631.5 993.6,631.6 994.4,631.5 995.2,631.3 996.0,631.2 996.7,631.2 997.5,631.4 998.3,631.3 999.0,631.2 999.8,631.0 1000.6,631.3 1001.4,631.0 1002.1,630.8 1002.9,630.7 1003.7,630.4 1004.5,630.2 1005.2,630.3 1006.0,629.9 1006.8,629.9 1007.6,630.2 1008.3,630.5 1009.1,630.3 1009.9,630.8 1010.7,631.1 1011.4,631.2 1012.2,631.4 1013.0,631.8 1013.7,632.0 1014.5,631.8 1015.3,631.6 1016.1,631.4 1016.8,631.0 1017.6,630.8 1018.4,630.9 1019.2,630.6 1019.9,630.4 1020.7,630.0 1021.5,630.0 1022.3,630.0 1023.0,629.7 1023.8,629.7 1024.6,629.3 1025.4,629.3 1026.1,629.5 1026.9,629.7 1027.7,629.7 1028.4,629.7 1029.2,629.4 1030.0,629.3 1030.8,629.0 1031.5,628.8 1032.3,628.1 1033.1,628.1 1033.9,627.4 1034.6,627.3 1035.4,626.6 1036.2,626.2 1037.0,625.9 1037.7,625.8 1038.5,625.4 1039.3,625.6 1040.1,624.9 1040.8,624.7 1041.6,625.1 1042.4,624.8 1043.1,624.5 1043.9,624.1 1044.7,623.5 1045.5,623.4 1046.2,622.9 1047.0,623.3 1047.8,623.2 1048.6,623.1 1049.3,623.0 1050.1,622.8 1050.9,622.6 1051.7,622.4 1052.4,621.9 1053.2,621.9 1054.0,622.1 1054.8,621.8 1055.5,622.0 1056.3,622.7 1057.1,622.6 1057.8,622.7 1058.6,623.4 1059.4,623.4 1060.2,623.9 1060.9,623.5 1061.7,622.6 1062.5,621.9 1063.3,621.3 1064.0,621.3 1064.8,620.6 1065.6,620.2 1066.4,619.6 1067.1,619.8 1067.9,619.4 1068.7,619.6 1069.5,619.4 1070.2,618.7 1071.0,618.4 1071.8,618.6 1072.5,618.2 1073.3,618.2 1074.1,617.2 1074.9,616.7 1075.6,616.7 1076.4,615.8 1077.2,616.1 1078.0,615.4 1078.7,616.4 1079.5,616.5 1080.3,616.8 1081.1,616.6 1081.8,617.3 1082.6,617.2 1083.4,618.6 1084.2,619.5 1084.9,620.4 1085.7,621.2 1086.5,623.2 1087.3,624.3 1088.0,625.3 1088.8,625.0 1089.6,627.2 1090.3,628.5 1091.1,629.5 1091.9,629.9 1092.7,629.2 1093.4,627.9 1094.2,627.5 1095.0,627.3 1095.8,627.5 1096.5,627.1 1097.3,625.9 1098.1,624.8 1098.9,624.9 1099.6,626.2 1100.4,626.9 1101.2,627.1 1102.0,627.1 1102.7,627.1 1103.5,625.6 1104.3,625.1 1105.0,625.4 1105.8,625.1 1106.6,624.8 1107.4,624.9 1108.1,624.3 1108.9,623.9 1109.7,624.6 1110.5,623.6 1111.2,623.5 1112.0,626.1 1112.8,625.9 1113.6,626.4 1114.3,628.2 1115.1,630.6 1115.9,631.4 1116.7,630.7 1117.4,631.1 1118.2,630.4 1119.0,630.7 1119.7,630.6 1120.5,630.2 1121.3,630.1 1122.1,630.0 1122.8,630.0 1123.6,630.5 1124.4,631.2 1125.2,632.1 1125.9,632.9 1126.7,633.5 1127.5,633.3 1128.3,632.6 1129.0,632.0 1129.8,631.9 1130.6,632.0 1131.4,631.8 1132.1,632.0 1132.9,632.4 1133.7,632.1 1134.4,633.0 1135.2,633.2 1136.0,632.9 1136.8,632.4 1137.5,632.1 1138.3,632.0 1139.1,631.6 1139.9,631.1 1140.6,630.6 1141.4,630.1 1142.2,629.6 1143.0,629.7 1143.7,629.7 1144.5,630.2 1145.3,630.3 1146.1,630.1 1146.8,630.0 1147.6,630.6 1148.4,630.6 1149.1,631.2 1149.9,631.2 1150.7,631.1 1151.5,630.6 1152.2,630.2 1153.0,629.6 1153.8,629.2 1154.6,629.5 1155.3,629.3 1156.1,629.5 1156.9,629.5 1157.7,629.5 1158.4,629.4 1159.2,629.1 1160.0,629.2 1160.8,629.3 1161.5,629.3 1162.3,629.7 1163.1,630.1 1163.8,630.5 1164.6,630.5 1165.4,631.0 1166.2,630.9 1166.9,630.9 1167.7,631.3 1168.5,630.9 1169.3,631.4 1170.0,631.2 1170.8,631.3 1171.6,631.1 1172.4,630.8 1173.1,630.5 1173.9,630.3 1174.7,630.0 1175.5,629.9 1176.2,629.5 1177.0,629.5 1177.8,630.1 1178.5,630.1 1179.3,630.8 1180.1,631.2 1180.9,631.3 1181.6,631.3 1182.4,631.8 1183.2,632.0 1184.0,632.7 1184.7,633.7 1185.5,634.3 1186.3,634.8 1187.1,635.1 1187.8,635.4 1188.6,635.6 1189.4,635.8 1190.2,636.4 1190.9,636.3 1191.7,636.6 1192.5,636.8 1193.2,637.2 1194.0,637.1 1194.8,637.8 1195.6,638.4 1196.3,638.6 1197.1,638.7 1197.9,638.8 1198.7,638.6 1199.4,638.4 1200.2,638.1 1201.0,638.1 1201.8,637.9 1202.5,637.7 1203.3,637.8 1204.1,638.1 1204.9,638.4 1205.6,638.1 1206.4,638.0 1207.2,637.9 1207.9,637.4 1208.7,637.8 1209.5,638.6 1210.3,638.9 1211.0,639.0 1211.8,639.1 1212.6,638.7 1213.4,638.6 1214.1,638.4 1214.9,638.2 1215.7,637.9 1216.5,638.2 1217.2,638.0 1218.0,637.9 1218.8,637.7 1219.6,637.7 1220.3,637.7 1221.1,637.6 1221.9,637.7 1222.6,637.5 1223.4,637.4 1224.2,637.5 1225.0,637.3 1225.7,637.4 1226.5,637.4 1227.3,637.5 1228.1,637.3 1228.8,637.5 1229.6,637.5 1230.4,637.6 1231.2,637.3 1231.9,637.2 1232.7,637.0 1233.5,637.0 1234.3,637.4 1235.0,637.6 1235.8,637.6 1236.6,637.7 1237.3,637.8 1238.1,637.9 1238.9,637.9 1239.7,638.0 1240.4,638.5 1241.2,638.7 1242.0,638.9 1242.8,639.0 1243.5,639.1 1244.3,639.2 1245.1,639.4 1245.9,639.4 1246.6,639.3 1247.4,639.6 1248.2,639.7 1249.0,639.6 1249.7,639.6 1250.5,639.6 1251.3,639.4 1252.0,639.7 1252.8,639.8 1253.6,639.9 1254.4,639.8 1255.1,639.8 1255.9,639.7 1256.7,639.8 1257.5,639.7 1258.2,639.8 1259.0,639.7 1259.8,639.9 1260.6,640.1 1261.3,640.2 1262.1,640.3 1262.9,640.3 1263.7,640.5 1264.4,640.5 1265.2,640.5 1266.0,640.4 1266.8,640.4 1267.5,640.2 1268.3,640.2 1269.1,640.0 1269.8,639.9 1270.6,639.7 1271.4,639.7 1272.2,639.8 1272.9,639.7 1273.7,639.7 1274.5,639.8 1275.3,639.8 1276.0,639.9 1276.8,639.9 1277.6,640.0 1278.4,639.8 1279.1,639.7 1279.9,639.8 1280.7,639.6 1281.5,639.9 1282.2,639.6 1283.0,640.0 1283.8,639.7 1284.5,640.0 1285.3,640.1 1286.1,640.1 1286.9,640.0 1287.6,640.3 1288.4,640.5 1289.2,640.5 1290.0,640.5 1290.7,640.4 1291.5,640.3 1292.3,640.4 1293.1,640.4 1293.8,640.4 1294.6,640.2 1295.4,640.1 1296.2,640.3 1296.9,640.0 1297.7,639.9 1298.5,640.0 1299.2,639.7 1300.0,639.6 1300.8,639.8 1301.6,639.9 1302.3,639.9 1303.1,639.9 1303.9,640.0 1304.7,640.0 1305.4,640.2 1306.2,640.3 1307.0,640.1 1307.8,640.4 1308.5,640.5 1309.3,640.5 1310.1,640.6 1310.9,640.6 1311.6,640.6 1312.4,640.8 1313.2,640.7 1313.9,640.6 1314.7,640.8 1315.5,640.8 1316.3,640.8 1317.0,640.7 1317.8,640.7 1318.6,640.9 1319.4,640.8 1320.1,640.9 1320.9,640.6 1321.7,640.6 1322.5,640.5 1323.2,640.6 1324.0,640.6 1324.8,640.4 1325.6,640.4 1326.3,640.3 1327.1,640.3 1327.9,640.1 1328.6,640.3 1329.4,640.3 1330.2,640.3 1331.0,640.2 1331.7,640.3 1332.5,640.4 1333.3,640.3 1334.1,640.5 1334.8,640.4 1335.6,640.4 1336.4,640.4 1337.2,640.3 1337.9,640.3 1338.7,640.4 1339.5,640.6 1340.3,640.5 1341.0,640.4 1341.8,640.4 1342.6,640.3 1343.3,640.0 1344.1,640.1 1344.9,640.1 1345.7,640.3 1346.4,640.3 1347.2,640.1 1348.0,640.0 1348.8,640.2 1349.5,640.2 1350.3,640.1 1351.1,640.2 1351.9,640.1 1352.6,640.1 1353.4,640.0 1354.2,640.0 1355.0,640.3 1355.7,640.4 1356.5,640.6 1357.3,640.7 1358.0,640.7 1358.8,641.1 1359.6,641.2 1360.4,641.3 1361.1,641.3 1361.9,641.5 1362.7,641.4 1363.5,641.2 1364.2,641.2 1365.0,641.2 1365.8,641.2 1366.6,641.5 1367.3,641.5 1368.1,641.3 1368.9,641.3 1369.7,641.4 1370.4,641.5 1371.2,641.4 1372.0,641.5 1372.7,641.6 1373.5,641.9 1374.3,641.7 1375.1,641.7 1375.8,641.6 1376.6,641.6 1377.4,641.7 1378.2,641.8 1378.9,642.0 1379.7,641.8 1380.5,641.8 1381.3,641.7 1382.0,641.7 1382.8,641.7 1383.6,641.9 1384.4,641.9 1385.1,641.7 1385.9,641.8 1386.7,641.7 1387.4,641.7 1388.2,641.5 1389.0,641.6 1389.8,641.8 1390.5,641.8 1391.3,641.9 1392.1,641.9 1392.9,641.8 1393.6,641.7 1394.4,641.7 1395.2,641.6 1396.0,641.7 1396.7,641.5 1397.5,641.5 1398.3,641.6 1399.1,641.5 1399.8,641.4 1400.6,641.5 1401.4,641.6 1402.1,641.8 1402.9,641.6 1403.7,641.6 1404.5,641.5 1405.2,641.4 1406.0,641.4 1406.8,641.5 1407.6,641.7 1408.3,641.7 1409.1,641.7 1409.9,641.6 1410.7,641.6 1411.4,641.8 1412.2,641.8 1413.0,641.7 1413.8,641.9 1414.5,641.9 1415.3,641.8 1416.1,641.8 1416.8,641.8 1417.6,641.8 1418.4,642.1 1419.2,642.0 1419.9,642.1 1420.7,642.2 1421.5,642.1 1422.3,642.1 1423.0,642.1 1423.8,642.3 1424.6,642.3 1425.4,642.3 1426.1,642.4 1426.9,642.6 1427.7,643.0 1428.5,642.7 1429.2,642.7 1430.0,642.8 1430.8,642.9 1431.5,643.0 1432.3,643.0 1433.1,643.2 1433.9,643.3 1434.6,643.5 1435.4,643.4 1436.2,643.7 1437.0,643.7 1437.7,643.7 1438.5,643.6 1439.3,643.4 1440.1,643.5 1440.8,643.5 1441.6,643.4 1442.4,643.4 1443.2,643.5 1443.9,643.5 1444.7,643.4 1445.5,643.2 1446.2,643.3 1447.0,643.2 1447.8,643.0 1448.6,642.9 1449.3,642.9 1450.1,642.6 1450.9,642.6 1451.7,642.5 1452.4,642.6 1453.2,642.8 1454.0,642.8 1454.8,643.0 1455.5,643.0 1456.3,643.0 1457.1,642.9 1457.9,643.0 1458.6,643.0 1459.4,643.0 1460.2,643.2 1461.0,643.3 1461.7,643.2 1462.5,643.0 1463.3,643.1 1464.0,643.2 1464.8,643.1 1465.6,643.0 1466.4,642.9 1467.1,642.9 1467.9,642.8 1468.7,643.0 1469.5,642.9 1470.2,643.1 1471.0,643.3 1471.8,643.1 1472.6,643.1 1473.3,643.3 1474.1,643.2 1474.9,643.2 1475.7,643.1 1476.4,643.2 1477.2,643.2 1478.0,643.1 1478.7,643.2 1479.5,643.2 1480.3,643.0 1481.1,643.0 1481.8,643.0 1482.6,642.8 1483.4,642.7 1484.2,642.8 1484.9,642.8 1485.7,642.8 1486.5,642.8 1487.3,642.6 1488.0,642.6 1488.8,642.7 1489.6,642.7 1490.4,642.7 1491.1,642.9 1491.9,642.7 1492.7,642.8 1493.4,642.9 1494.2,643.1 1495.0,643.1 1495.8,643.2 1496.5,643.1 1497.3,643.2 1498.1,643.0 1498.9,643.3 1499.6,643.1 1500.4,643.2 1501.2,643.1 1502.0,643.3 1502.7,643.2 1503.5,643.4 1504.3,643.5 1505.1,643.6 1505.8,643.4 1506.6,643.4 1507.4,643.3 1508.1,643.3 1508.9,643.2 1509.7,643.3 1510.5,643.1 1511.2,643.0 1512.0,643.0 1512.8,642.9 1513.6,643.2 1514.3,643.4 1515.1,643.4 1515.9,643.3 1516.7,643.4 1517.4,643.3 1518.2,643.2 1519.0,643.2 1519.8,643.2 1520.5,643.4 1521.3,643.2 1522.1,643.4 1522.8,643.5 1523.6,643.4 1524.4,643.5 1525.2,643.5 1525.9,643.4 1526.7,643.4 1527.5,643.4 1528.3,643.5 1529.0,643.4 1529.8,643.3 1530.6,643.4 1531.4,643.4 1532.1,643.6 1532.9,643.4 1533.7,643.2 1534.5,643.2 1535.2,643.4 1536.0,643.7 1536.8,643.9 1537.5,644.1 1538.3,644.1 1539.1,644.2 1539.9,644.0 1540.6,644.0 1541.4,644.3 1542.2,644.3 1543.0,644.2 1543.7,644.3 1544.5,644.3 1545.3,644.5 1546.1,644.7 1546.8,645.0 1547.6,644.9 1548.4,645.0 1549.2,644.9 1549.9,644.8 1550.7,644.6 1551.5,644.7 1552.2,644.6 1553.0,644.7 1553.8,644.6 1554.6,644.7 1555.3,644.8 1556.1,644.9 1556.9,644.9 1557.7,645.0 1558.4,645.0 1559.2,644.9 1560.0,644.7 1560.8,644.9 1561.5,644.7 1562.3,644.5 1563.1,644.4 1563.9,644.3 1564.6,644.3 1565.4,644.3 1566.2,644.2 1566.9,644.2 1567.7,644.3 1568.5,644.1 1569.3,644.0 1570.0,644.1 1570.8,643.9 1571.6,644.2 1572.4,644.5 1573.1,644.7 1573.9,644.8 1574.7,645.0 1575.5,645.1 1576.2,645.2 1577.0,645.6 1577.8,645.7 1578.6,645.9 1579.3,645.8 1580.1,645.7 1580.9,645.7 1581.6,645.9 1582.4,645.9 1583.2,645.7 1584.0,645.9 1584.7,645.9 1585.5,646.0 1586.3,646.0 1587.1,646.0 1587.8,645.7 1588.6,645.7 1589.4,645.7 1590.2,645.8 1590.9,645.9 1591.7,646.0 1592.5,646.1 1593.3,646.0 1594.0,646.0 1594.8,646.0 1595.6,646.1 1596.3,646.3 1597.1,646.3 1597.9,646.5 1598.7,646.6 1599.4,646.5 1600.2,646.8 1601.0,646.9 1601.8,646.9 1602.5,646.7 1603.3,646.8 1604.1,646.9 1604.9,646.8 1605.6,646.8 1606.4,647.0 1607.2,647.1 1608.0,647.0 1608.7,646.8 1609.5,646.9 1610.3,647.0 1611.0,646.9 1611.8,646.9 1612.6,646.9 1613.4,647.0 1614.1,647.0 1614.9,647.0 1615.7,647.1 1616.5,647.2 1617.2,647.1 1618.0,647.2 1618.8,647.2 1619.6,647.3 1620.3,647.3 1621.1,647.4 1621.9,647.3 1622.7,647.4 1623.4,647.2 1624.2,647.3 1625.0,647.3 1625.7,647.5 1626.5,647.5 1627.3,647.5 1628.1,647.6 1628.8,647.5 1629.6,647.4 1630.4,647.5 1631.2,647.5 1631.9,647.6 1632.7,647.6 1633.5,647.6 1634.3,647.7 1635.0,647.8 1635.8,647.9 1636.6,648.0 1637.4,647.9 1638.1,647.9 1638.9,647.8 1639.7,647.9 1640.5,648.1 1641.2,648.1 1642.0,648.3 1642.8,648.4 1643.5,648.3 1644.3,648.4 1645.1,648.4 1645.9,648.6 1646.6,648.9 1647.4,649.1 1648.2,649.2 1649.0,649.2 1649.7,649.1 1650.5,649.2 1651.3,649.4 1652.1,649.6 1652.8,649.6 1653.6,649.7 1654.4,649.8 1655.2,649.7 1655.9,649.7 1656.7,649.6 1657.5,649.7 1658.2,649.6 1659.0,649.6 1659.8,649.7 1660.6,649.7 1661.3,649.6 1662.1,649.6 1662.9,649.6 1663.7,649.6 1664.4,649.6 1665.2,649.6 1666.0,649.6 1666.8,649.6 1667.5,649.7 1668.3,649.7 1669.1,649.7 1669.9,649.8 1670.6,649.9 1671.4,650.0 1672.2,650.0 1672.9,650.0 1673.7,650.1 1674.5,650.1 1675.3,650.1 1676.0,650.1 1676.8,650.1 1677.6,650.2 1678.4,650.3 1679.1,650.4 1679.9,650.5 1680.7,650.4 1681.5,650.4 1682.2,650.6 1683.0,650.6 1683.8,650.7 1684.6,650.7 1685.3,650.7 1686.1,650.7 1686.9,650.7 1687.6,650.6 1688.4,650.6 1689.2,650.6 1690.0,650.7 1690.7,650.8 1691.5,650.8 1692.3,650.9 1693.1,650.9 1693.8,651.1 1694.6,651.1 1695.4,651.2 1696.2,651.2 1696.9,651.2 1697.7,651.3 1698.5,651.3 1699.3,651.2 1700.0,651.3 1700.8,651.3 1701.6,651.6 1702.3,651.5 1703.1,651.5 1703.9,651.5 1704.7,651.6 1705.4,651.6 1706.2,651.6 1707.0,651.5 1707.8,651.6 1708.5,651.6 1709.3,651.6 1710.1,651.6 1710.9,651.6 1711.6,651.5 1712.4,651.7 1713.2,651.7 1714.0,651.5 1714.7,651.5 1715.5,651.5 1716.3,651.5 1717.0,651.4 1717.8,651.4 1718.6,651.4 1719.4,651.5 1720.1,651.4 1720.9,651.3 1721.7,651.4 1722.5,651.4 1723.2,651.4 1724.0,651.4 1724.8,651.4 1725.6,651.4 1726.3,651.4 1727.1,651.6 1727.9,651.6 1728.7,651.6 1729.4,651.7 1730.2,651.7"/>
<polyline stroke="#64B5CD" points="55.9,559.1 56.7,559.9 57.4,560.1 58.2,558.7 59.0,558.4 59.8,557.3 60.5,557.6 61.3,556.8 62.1,556.8 62.9,555.8 63.6,556.0 64.4,555.4 65.2,556.6 66.0,559.2 66.7,559.4 67.5,561.9 68.3,563.0 69.1,564.7 69.8,564.9 70.6,566.1 71.4,565.9 72.1,565.4 72.9,565.7 73.7,566.2 74.5,565.0 75.2,564.7 76.0,565.2 76.8,564.7 77.6,564.7 78.3,564.2 79.1,564.9 79.9,564.4 80.7,564.2 81.4,564.2 82.2,563.9 83.0,563.1 83.8,563.3 84.5,562.9 85.3,561.3 86.1,560.8 86.8,561.8 87.6,562.1 88.4,563.0 89.2,562.2 89.9,563.5 90.7,562.9 91.5,563.5 92.3,563.6 93.0,564.0 93.8,563.3 94.6,562.5 95.4,562.0 96.1,561.8 96.9,561.6 97.7,562.5 98.5,561.3 99.2,561.0 100.0,561.2 100.8,559.9 101.5,560.2 102.3,558.7 103.1,558.8 103.9,558.4 104.6,558.1 105.4,557.6 106.2,557.3 107.0,558.0 107.7,557.9 108.5,557.8 109.3,557.4 110.1,558.4 110.8,558.9 111.6,558.7 112.4,559.2 113.2,560.5 113.9,561.7 114.7,561.4 115.5,563.0 116.2,564.2 117.0,565.6 117.8,565.7 118.6,567.1 119.3,567.5 120.1,568.6 120.9,569.2 121.7,568.8 122.4,570.8 123.2,571.7 124.0,572.8 124.8,573.4 125.5,574.0 126.3,573.1 127.1,572.8 127.9,572.5 128.6,572.8 129.4,572.2 130.2,572.7 130.9,573.1 131.7,573.9 132.5,575.1 133.3,574.8 134.0,576.1 134.8,576.3 135.6,576.2 136.4,576.2 137.1,575.8 137.9,575.1 138.7,575.6 139.5,575.2 140.2,574.5 141.0,576.1 141.8,576.2 142.6,576.3 143.3,576.2 144.1,575.6 144.9,575.5 145.6,575.8 146.4,577.3 147.2,578.0 148.0,579.2 148.7,581.7 149.5,582.7 150.3,583.8 151.1,583.5 151.8,583.4 152.6,583.6 153.4,583.6 154.2,582.7 154.9,581.4 155.7,581.1 156.5,579.2 157.3,578.3 158.0,578.8 158.8,578.2 159.6,578.3 160.4,577.7 161.1,577.6 161.9,577.3 162.7,576.1 163.4,575.6 164.2,575.6 165.0,575.7 165.8,574.3 166.5,573.3 167.3,571.8 168.1,572.4 168.9,572.8 169.6,572.7 170.4,571.0 171.2,571.0 172.0,570.4 172.7,570.6 173.5,570.2 174.3,569.8 175.1,569.0 175.8,569.3 176.6,570.0 177.4,570.7 178.1,570.4 178.9,571.1 179.7,570.9 180.5,570.3 181.2,570.2 182.0,570.0 182.8,570.5 183.6,570.2 184.3,568.6 185.1,568.9 185.9,569.1 186.7,569.4 187.4,569.9 188.2,570.4 189.0,570.8 189.8,571.2 190.5,570.3 191.3,570.7 192.1,570.0 192.8,569.9 193.6,568.9 194.4,569.8 195.2,567.6 195.9,566.5 196.7,565.3 197.5,565.1 198.3,563.0 199.0,562.0 199.8,560.9 200.6,560.5 201.4,560.4 202.1,560.1 202.9,558.9 203.7,557.6 204.5,556.8 205.2,556.2 206.0,555.5 206.8,554.8 207.5,552.7 208.3,553.5 209.1,552.6 209.9,552.2 210.6,552.1 211.4,550.7 212.2,550.1 213.0,549.2 213.7,549.4 214.5,548.5 215.3,548.9 216.1,548.9 216.8,548.3 217.6,550.8 218.4,555.2 219.2,556.7 219.9,557.8 220.7,558.0 221.5,557.6 222.2,558.4 223.0,558.9 223.8,558.5 224.6,558.0 225.3,558.7 226.1,558.1 226.9,558.8 227.7,557.3 228.4,557.3 229.2,556.9 230.0,556.5 230.8,557.5 231.5,557.9 232.3,557.0 233.1,556.9 233.9,557.9 234.6,556.6 235.4,557.1 236.2,557.2 236.9,557.2 237.7,557.1 238.5,558.0 239.3,558.9 240.0,559.5 240.8,559.3 241.6,561.0 242.4,560.5 243.1,559.9 243.9,559.5 244.7,560.5 245.5,559.9 246.2,560.7 247.0,561.9 247.8,561.6 248.6,561.4 249.3,562.7 250.1,562.7 250.9,563.6 251.6,563.9 252.4,564.6 253.2,566.9 254.0,567.5 254.7,566.7 255.5,566.0 256.3,565.6 257.1,564.9 257.8,564.4 258.6,564.5 259.4,563.7 260.2,563.4 260.9,561.9 261.7,561.1 262.5,561.4 263.3,561.2 264.0,559.9 264.8,559.6 265.6,559.3 266.3,557.6 267.1,556.9 267.9,556.4 268.7,557.9 269.4,556.8 270.2,556.4 271.0,556.0 271.8,556.4 272.5,556.1 273.3,555.8 274.1,555.5 274.9,555.2 275.6,554.8 276.4,554.3 277.2,555.6 278.0,557.1 278.7,557.5 279.5,558.5 280.3,558.1 281.0,558.3 281.8,557.8 282.6,557.6 283.4,556.5 284.1,557.4 284.9,557.6 285.7,556.1 286.5,556.8 287.2,556.0 288.0,556.0 288.8,554.8 289.6,555.0 290.3,556.9 291.1,555.9 291.9,556.4 292.7,556.1 293.4,555.6 294.2,556.7 295.0,555.6 295.7,555.8 296.5,555.5 297.3,556.7 298.1,555.5 298.8,556.5 299.6,557.3 300.4,557.9 301.2,558.9 301.9,559.9 302.7,559.9 303.5,559.9 304.3,560.0 305.0,560.3 305.8,560.8 306.6,562.8 307.4,563.3 308.1,561.9 308.9,562.4 309.7,562.1 310.4,563.0 311.2,563.7 312.0,563.8 312.8,565.1 313.5,565.7 314.3,565.7 315.1,566.2 315.9,566.5 316.6,567.0 317.4,567.3 318.2,567.4 319.0,568.3 319.7,568.6 320.5,568.8 321.3,568.6 322.1,568.9 322.8,568.4 323.6,567.6 324.4,568.3 325.1,568.3 325.9,568.2 326.7,569.2 327.5,569.4 328.2,569.0 329.0,566.5 329.8,567.5 330.6,567.0 331.3,567.3 332.1,567.4 332.9,567.3 333.7,566.7 334.4,563.8 335.2,564.5 336.0,562.8 336.8,562.0 337.5,562.6 338.3,562.7 339.1,562.3 339.9,562.7 340.6,562.0 341.4,561.5 342.2,562.1 342.9,562.3 343.7,562.2 344.5,563.0 345.3,563.4 346.0,563.8 346.8,563.4 347.6,562.8 348.4,563.4 349.1,563.8 349.9,564.3 350.7,565.1 351.5,566.0 352.2,567.1 353.0,567.3 353.8,568.0 354.6,567.9 355.3,567.7 356.1,568.5 356.9,568.9 357.6,570.2 358.4,568.8 359.2,570.1 360.0,570.4 360.7,570.2 361.5,569.5 362.3,569.4 363.1,570.3 363.8,569.4 364.6,569.1 365.4,568.7 366.2,569.3 366.9,570.1 367.7,570.8 368.5,571.0 369.3,571.3 370.0,571.6 370.8,572.3 371.6,572.0 372.3,571.6 373.1,572.8 373.9,573.7 374.7,573.3 375.4,574.0 376.2,573.0 377.0,573.0 377.8,572.9 378.5,572.6 379.3,574.5 380.1,574.9 380.9,576.2 381.6,576.7 382.4,577.2 383.2,578.1 384.0,577.7 384.7,578.2 385.5,577.8 386.3,577.6 387.0,577.6 387.8,579.3 388.6,578.2 389.4,578.3 390.1,579.2 390.9,578.7 391.7,579.6 392.5,579.8 393.2,580.9 394.0,581.0 394.8,580.0 395.6,579.7 396.3,577.2 397.1,576.0 397.9,576.2 398.7,575.0 399.4,575.2 400.2,574.1 401.0,574.2 401.7,575.2 402.5,575.0 403.3,574.8 404.1,574.1 404.8,574.3 405.6,574.6 406.4,575.0 407.2,576.3 407.9,576.3 408.7,576.1 409.5,577.3 410.3,576.8 411.0,577.0 411.8,576.8 412.6,578.2 413.4,579.2 414.1,579.2 414.9,579.2 415.7,579.2 416.4,580.2 417.2,581.6 418.0,582.6 418.8,583.4 419.5,584.4 420.3,584.3 421.1,585.6 421.9,586.3 422.6,586.9 423.4,587.1 424.2,587.4 425.0,588.2 425.7,588.4 426.5,589.2 427.3,589.3 428.1,590.5 428.8,590.9 429.6,591.2 430.4,591.6 431.1,591.0 431.9,591.0 432.7,590.1 433.5,590.1 434.2,590.1 435.0,589.8 435.8,588.5 436.6,588.1 437.3,587.6 438.1,587.9 438.9,587.3 439.7,587.1 440.4,587.6 441.2,588.0 442.0,587.9 442.8,587.3 443.5,587.6 444.3,587.0 445.1,586.9 445.8,587.2 446.6,586.5 447.4,586.0 448.2,585.7 448.9,585.5 449.7,585.1 450.5,585.4 451.3,584.4 452.0,584.2 452.8,583.4 453.6,583.4 454.4,583.0 455.1,582.5 455.9,582.1 456.7,581.5 457.5,580.8 458.2,580.0 459.0,580.1 459.8,580.4 460.5,581.0 461.3,580.9 462.1,579.5 462.9,579.4 463.6,579.3 464.4,578.5 465.2,579.1 466.0,578.5 466.7,577.8 467.5,578.7 468.3,578.4 469.1,578.8 469.8,578.8 470.6,579.5 471.4,580.1 472.2,580.2 472.9,581.7 473.7,581.7 474.5,582.4 475.2,583.3 476.0,584.6 476.8,584.9 477.6,584.5 478.3,584.2 479.1,584.2 479.9,583.2 480.7,583.0 481.4,582.8 482.2,581.8 483.0,581.8 483.8,581.2 484.5,581.3 485.3,581.6 486.1,581.0 486.9,581.1 487.6,580.7 488.4,580.6 489.2,580.3 489.9,580.0 490.7,579.3 491.5,579.0 492.3,578.4 493.0,578.7 493.8,578.3 494.6,577.6 495.4,577.9 496.1,577.1 496.9,577.5 497.7,578.1 498.5,578.2 499.2,579.3 500.0,579.5 500.8,579.9 501.6,579.7 502.3,578.3 503.1,579.6 503.9,579.0 504.6,578.9 505.4,579.0 506.2,577.2 507.0,577.3 507.7,578.3 508.5,578.2 509.3,579.0 510.1,579.7 510.8,580.0 511.6,579.9 512.4,580.0 513.2,579.3 513.9,579.3 514.7,579.3 515.5,579.9 516.3,580.2 517.0,581.3 517.8,581.9 518.6,582.4 519.3,582.9 520.1,584.1 520.9,584.1 521.7,584.3 522.4,584.4 523.2,584.1 524.0,584.8 524.8,585.9 525.5,585.4 526.3,585.4 527.1,585.1 527.9,585.3 528.6,585.9 529.4,585.8 530.2,586.5 531.0,587.2 531.7,587.1 532.5,587.8 533.3,587.8 534.1,587.6 534.8,587.7 535.6,587.6 536.4,587.6 537.1,587.2 537.9,587.1 538.7,586.0 539.5,587.3 540.2,587.4 541.0,586.8 541.8,587.2 542.6,588.1 543.3,587.3 544.1,587.1 544.9,587.1 545.7,587.6 546.4,588.5 547.2,587.9 548.0,588.9 548.8,588.9 549.5,588.8 550.3,589.2 551.1,589.4 551.8,589.5 552.6,591.0 553.4,592.1 554.2,592.6 554.9,592.8 555.7,592.7 556.5,591.5 557.3,590.8 558.0,589.7 558.8,589.6 559.6,590.1 560.4,589.0 561.1,589.8 561.9,589.6 562.7,589.2 563.5,589.0 564.2,590.2 565.0,591.0 565.8,591.5 566.5,592.3 567.3,592.0 568.1,592.5 568.9,592.9 569.6,592.8 570.4,592.1 571.2,592.0 572.0,591.5 572.7,591.6 573.5,591.1 574.3,590.5 575.1,590.2 575.8,590.0 576.6,589.9 577.4,589.8 578.2,589.7 578.9,589.6 579.7,590.0 580.5,589.9 581.2,589.9 582.0,590.2 582.8,590.5 583.6,590.6 584.3,590.9 585.1,591.3 585.9,591.8 586.7,591.5 587.4,591.5 588.2,591.6 589.0,590.9 589.8,592.0 590.5,592.6 591.3,592.7 592.1,592.4 592.9,593.1 593.6,593.2 594.4,593.6 595.2,593.9 595.9,594.4 596.7,594.7 597.5,594.8 598.3,595.2 599.0,595.8 599.8,596.9 600.6,596.7 601.4,597.8 602.1,597.6 602.9,597.7 603.7,596.8 604.5,596.3 605.2,595.7 606.0,595.5 606.8,594.6 607.6,593.9 608.3,592.8 609.1,592.4 609.9,591.9 610.6,590.4 611.4,589.8 612.2,589.5 613.0,588.9 613.7,587.5 614.5,586.8 615.3,586.6 616.1,586.5 616.8,585.7 617.6,585.6 618.4,585.9 619.2,585.7 619.9,585.9 620.7,586.0 621.5,586.0 622.3,586.0 623.0,586.0 623.8,586.4 624.6,586.1 625.3,584.0 626.1,583.7 626.9,583.5 627.7,583.5 628.4,583.8 629.2,584.4 630.0,585.2 630.8,584.7 631.5,584.3 632.3,583.5 633.1,583.6 633.9,582.6 634.6,582.1 635.4,582.0 636.2,581.7 637.0,581.2 637.7,580.4 638.5,580.9 639.3,580.5 640.0,581.2 640.8,581.8 641.6,581.5 642.4,581.4 643.1,582.6 643.9,582.3 644.7,583.1 645.5,583.6 646.2,583.7 647.0,583.9 647.8,582.5 648.6,582.6 649.3,582.5 650.1,581.7 650.9,581.7 651.7,580.8 652.4,581.9 653.2,582.4 654.0,582.6 654.7,583.8 655.5,584.2 656.3,584.1 657.1,583.1 657.8,583.3 658.6,582.7 659.4,582.3 660.2,582.5 660.9,582.4 661.7,582.0 662.5,583.8 663.3,583.1 664.0,583.4 664.8,584.5 665.6,585.2 666.4,585.8 667.1,585.6 667.9,585.1 668.7,585.5 669.4,585.8 670.2,586.4 671.0,587.5 671.8,587.8 672.5,587.1 673.3,586.5 674.1,585.9 674.9,586.8 675.6,587.1 676.4,587.2 677.2,587.1 678.0,587.8 678.7,587.4 679.5,587.5 680.3,588.6 681.1,587.9 681.8,587.4 682.6,586.7 683.4,586.3 684.1,587.2 684.9,586.4 685.7,585.9 686.5,585.8 687.2,585.9 688.0,585.8 688.8,585.1 689.6,584.1 690.3,583.2 691.1,583.4 691.9,583.1 692.7,582.5 693.4,583.0 694.2,582.8 695.0,583.0 695.8,582.2 696.5,583.4 697.3,584.6 698.1,585.1 698.8,585.0 699.6,585.7 700.4,586.2 701.2,587.4 701.9,588.6 702.7,589.1 703.5,589.6 704.3,588.9 705.0,588.1 705.8,588.3 706.6,590.2 707.4,591.7 708.1,594.5 708.9,595.4 709.7,595.4 710.5,594.4 711.2,594.2 712.0,593.6 712.8,593.5 713.6,593.8 714.3,595.0 715.1,595.2 715.9,594.8 716.6,593.4 717.4,592.2 718.2,590.6 719.0,590.3 719.7,590.3 720.5,590.2 721.3,590.8 722.1,592.3 722.8,592.5 723.6,592.9 724.4,592.9 725.2,593.3 725.9,592.7 726.7,592.2 727.5,592.4 728.3,592.3 729.0,591.8 729.8,590.8 730.6,590.8 731.3,589.7 732.1,590.1 732.9,589.6 733.7,589.4 734.4,589.6 735.2,590.0 736.0,590.8 736.8,589.9 737.5,589.8 738.3,589.6 739.1,589.9 739.9,589.1 740.6,588.9 741.4,588.7 742.2,588.7 743.0,589.0 743.7,588.8 744.5,588.6 745.3,588.4 746.0,587.3 746.8,587.4 747.6,586.7 748.4,586.4 749.1,586.9 749.9,585.3 750.7,585.7 751.5,585.8 752.2,586.0 753.0,586.6 753.8,588.0 754.6,587.8 755.3,587.0 756.1,586.8 756.9,585.6 757.7,586.1 758.4,586.0 759.2,587.2 760.0,586.7 760.7,585.7 761.5,585.7 762.3,585.5 763.1,585.3 763.8,585.0 764.6,585.2 765.4,585.5 766.2,585.2 766.9,585.1 767.7,584.3 768.5,584.7 769.3,585.4 770.0,586.6 770.8,586.6 771.6,586.4 772.4,586.1 773.1,586.7 773.9,586.4 774.7,586.3 775.4,586.4 776.2,586.8 777.0,586.9 777.8,587.3 778.5,587.7 779.3,588.2 780.1,587.7 780.9,588.4 781.6,587.3 782.4,586.4 783.2,585.8 784.0,585.0 784.7,584.4 785.5,584.9 786.3,585.3 787.1,585.2 787.8,585.2 788.6,585.5 789.4,584.6 790.1,584.2 790.9,584.3 791.7,584.0 792.5,584.7 793.2,584.7 794.0,585.0 794.8,585.9 795.6,585.9 796.3,585.4 797.1,586.2 797.9,587.0 798.7,587.8 799.4,588.8 800.2,588.9 801.0,589.8 801.8,589.3 802.5,589.2 803.3,588.6 804.1,588.5 804.8,587.4 805.6,588.7 806.4,588.4 807.2,588.7 807.9,590.2 808.7,590.6 809.5,590.7 810.3,590.9 811.0,591.2 811.8,591.2 812.6,592.1 813.4,592.2 814.1,592.6 814.9,592.6 815.7,591.8 816.5,592.1 817.2,591.5 818.0,591.6 818.8,591.0 819.5,589.9 820.3,590.6 821.1,590.1 821.9,590.1 822.6,590.0 823.4,590.0 824.2,590.2 825.0,589.8 825.7,589.3 826.5,589.4 827.3,589.5 828.1,590.1 828.8,589.2 829.6,589.4 830.4,588.9 831.2,588.3 831.9,589.4 832.7,590.5 833.5,590.9 834.2,590.7 835.0,591.3 835.8,591.2 836.6,590.6 837.3,592.2 838.1,592.9 838.9,593.4 839.7,593.2 840.4,593.0 841.2,594.3 842.0,593.9 842.8,593.3 843.5,593.7 844.3,593.6 845.1,593.1 845.9,593.3 846.6,593.3 847.4,592.7 848.2,592.7 848.9,592.9 849.7,593.2 850.5,593.6 851.3,593.7 852.0,592.9 852.8,592.3 853.6,592.2 854.4,592.5 855.1,592.5 855.9,592.1 856.7,591.7 857.5,590.6 858.2,590.2 859.0,590.6 859.8,590.2 860.6,589.8 861.3,590.4 862.1,590.4 862.9,591.0 863.6,591.4 864.4,592.2 865.2,592.9 866.0,593.5 866.7,593.8 867.5,594.0 868.3,593.9 869.1,593.5 869.8,592.8 870.6,592.5 871.4,592.5 872.2,592.8 872.9,592.0 873.7,592.4 874.5,592.1 875.3,593.0 876.0,592.9 876.8,592.2 877.6,593.4 878.3,592.7 879.1,591.8 879.9,591.6 880.7,591.5 881.4,591.7 882.2,591.7 883.0,591.8 883.8,592.0 884.5,592.3 885.3,592.2 886.1,592.2 886.9,592.0 887.6,591.7 888.4,591.6 889.2,592.0 890.0,592.4 890.7,591.3 891.5,592.9 892.3,592.6 893.0,593.0 893.8,593.4 894.6,593.2 895.4,592.9 896.1,593.3 896.9,592.7 897.7,592.2 898.5,592.3 899.2,592.7 900.0,592.5 900.8,592.3 901.6,593.7 902.3,593.2 903.1,593.6 903.9,593.3 904.7,593.1 905.4,592.4 906.2,592.9 907.0,592.4 907.8,592.7 908.5,592.6 909.3,592.3 910.1,591.7 910.8,591.5 911.6,591.3 912.4,590.0 913.2,588.9 913.9,587.8 914.7,587.6 915.5,588.1 916.3,586.7 917.0,587.2 917.8,585.7 918.6,586.1 919.4,586.1 920.1,585.5 920.9,585.0 921.7,585.5 922.5,584.5 923.2,583.6 924.0,583.4 924.8,583.4 925.5,583.1 926.3,584.1 927.1,585.5 927.9,586.5 928.6,585.5 929.4,584.7 930.2,584.7 931.0,584.0 931.7,584.0 932.5,584.3 933.3,584.4 934.1,584.0 934.8,583.8 935.6,582.3 936.4,581.6 937.2,581.5 937.9,581.1 938.7,582.0 939.5,581.8 940.2,581.4 941.0,581.5 941.8,581.1 942.6,580.9 943.3,581.3 944.1,581.4 944.9,580.2 945.7,580.2 946.4,578.9 947.2,578.3 948.0,578.3 948.8,577.8 949.5,578.1 950.3,578.4 951.1,579.9 951.9,579.5 952.6,579.7 953.4,578.6 954.2,578.1 954.9,579.3 955.7,580.2 956.5,580.6 957.3,581.6 958.0,581.3 958.8,580.8 959.6,581.5 960.4,580.7 961.1,580.2 961.9,579.3 962.7,578.7 963.5,576.9 964.2,577.7 965.0,577.3 965.8,577.5 966.6,577.1 967.3,576.9 968.1,576.7 968.9,576.7 969.6,577.4 970.4,578.3 971.2,578.1 972.0,577.4 972.7,575.5 973.5,574.2 974.3,573.5 975.1,572.2 975.8,571.6 976.6,569.9 977.4,568.3 978.2,566.9 978.9,565.0 979.7,562.4 980.5,562.3 981.3,562.2 982.0,562.0 982.8,560.7 983.6,559.8 984.3,559.4 985.1,559.1 985.9,558.1 986.7,558.1 987.4,558.1 988.2,559.2 989.0,558.7 989.8,560.1 990.5,560.6 991.3,558.5 992.1,557.7 992.9,557.4 993.6,557.2 994.4,555.7 995.2,554.4 996.0,553.4 996.7,553.4 997.5,554.2 998.3,553.9 999.0,553.7 999.8,554.4 1000.6,556.0 1001.4,556.1 1002.1,556.4 1002.9,555.7 1003.7,554.9 1004.5,554.2 1005.2,553.9 1006.0,551.8 1006.8,550.9 1007.6,551.9 1008.3,552.8 1009.1,551.8 1009.9,553.4 1010.7,554.8 1011.4,555.7 1012.2,556.0 1013.0,556.9 1013.7,556.4 1014.5,556.7 1015.3,555.3 1016.1,555.0 1016.8,554.3 1017.6,553.2 1018.4,553.4 1019.2,551.7 1019.9,551.2 1020.7,550.6 1021.5,550.2 1022.3,550.4 1023.0,549.3 1023.8,549.3 1024.6,547.7 1025.4,548.3 1026.1,547.9 1026.9,548.8 1027.7,548.7 1028.4,547.2 1029.2,546.2 1030.0,545.7 1030.8,545.3 1031.5,543.7 1032.3,540.8 1033.1,539.4 1033.9,536.7 1034.6,535.5 1035.4,532.7 1036.2,530.2 1037.0,529.6 1037.7,528.1 1038.5,527.6 1039.3,527.4 1040.1,526.6 1040.8,525.5 1041.6,525.3 1042.4,524.0 1043.1,522.7 1043.9,521.7 1044.7,519.7 1045.5,518.2 1046.2,515.8 1047.0,515.5 1047.8,513.9 1048.6,513.7 1049.3,512.7 1050.1,512.2 1050.9,510.7 1051.7,510.5 1052.4,508.6 1053.2,509.9 1054.0,511.4 1054.8,510.8 1055.5,512.5 1056.3,514.9 1057.1,514.1 1057.8,514.2 1058.6,516.8 1059.4,516.5 1060.2,518.4 1060.9,516.8 1061.7,513.5 1062.5,512.2 1063.3,511.7 1064.0,509.3 1064.8,506.9 1065.6,505.5 1066.4,502.4 1067.1,502.2 1067.9,499.5 1068.7,498.4 1069.5,495.9 1070.2,494.4 1071.0,493.5 1071.8,493.2 1072.5,491.3 1073.3,490.6 1074.1,486.5 1074.9,483.8 1075.6,483.2 1076.4,480.7 1077.2,479.2 1078.0,479.2 1078.7,480.4 1079.5,483.1 1080.3,487.0 1081.1,490.5 1081.8,493.4 1082.6,494.3 1083.4,497.6 1084.2,499.5 1084.9,503.1 1085.7,506.5 1086.5,509.8 1087.3,514.2 1088.0,518.4 1088.8,519.7 1089.6,528.7 1090.3,534.1 1091.1,541.1 1091.9,542.6 1092.7,535.8 1093.4,529.5 1094.2,526.3 1095.0,525.8 1095.8,525.7 1096.5,524.2 1097.3,518.2 1098.1,513.2 1098.9,516.3 1099.6,520.0 1100.4,525.6 1101.2,527.2 1102.0,528.9 1102.7,529.5 1103.5,524.8 1104.3,522.5 1105.0,521.4 1105.8,521.8 1106.6,520.2 1107.4,522.7 1108.1,519.5 1108.9,516.7 1109.7,520.4 1110.5,516.8 1111.2,517.2 1112.0,527.2 1112.8,526.9 1113.6,529.4 1114.3,540.3 1115.1,551.9 1115.9,555.2 1116.7,551.5 1117.4,550.3 1118.2,548.1 1119.0,547.6 1119.7,545.8 1120.5,545.2 1121.3,542.5 1122.1,543.1 1122.8,543.6 1123.6,544.4 1124.4,547.5 1125.2,553.7 1125.9,553.9 1126.7,556.1 1127.5,554.9 1128.3,553.6 1129.0,549.8 1129.8,549.1 1130.6,547.4 1131.4,546.5 1132.1,546.4 1132.9,546.6 1133.7,546.3 1134.4,548.6 1135.2,548.6 1136.0,547.5 1136.8,544.4 1137.5,544.1 1138.3,545.1 1139.1,543.3 1139.9,541.5 1140.6,538.9 1141.4,538.0 1142.2,535.0 1143.0,536.8 1143.7,536.4 1144.5,538.0 1145.3,536.6 1146.1,535.5 1146.8,533.8 1147.6,535.6 1148.4,534.9 1149.1,537.5 1149.9,536.5 1150.7,535.2 1151.5,532.9 1152.2,531.2 1153.0,529.3 1153.8,526.4 1154.6,527.5 1155.3,528.7 1156.1,528.8 1156.9,528.8 1157.7,529.0 1158.4,527.7 1159.2,526.1 1160.0,527.2 1160.8,527.7 1161.5,527.6 1162.3,528.3 1163.1,530.0 1163.8,532.8 1164.6,533.0 1165.4,535.3 1166.2,534.2 1166.9,534.2 1167.7,536.2 1168.5,532.9 1169.3,533.8 1170.0,533.1 1170.8,532.1 1171.6,530.9 1172.4,530.2 1173.1,529.0 1173.9,527.1 1174.7,526.0 1175.5,526.5 1176.2,525.8 1177.0,526.0 1177.8,528.9 1178.5,528.1 1179.3,531.7 1180.1,532.9 1180.9,533.2 1181.6,534.4 1182.4,533.8 1183.2,535.0 1184.0,538.6 1184.7,540.6 1185.5,543.8 1186.3,546.6 1187.1,547.3 1187.8,547.4 1188.6,548.1 1189.4,549.0 1190.2,551.1 1190.9,552.0 1191.7,552.7 1192.5,554.1 1193.2,556.3 1194.0,556.1 1194.8,559.8 1195.6,561.6 1196.3,562.3 1197.1,562.3 1197.9,563.0 1198.7,561.4 1199.4,559.3 1200.2,558.0 1201.0,557.8 1201.8,557.7 1202.5,557.5 1203.3,556.8 1204.1,556.2 1204.9,556.8 1205.6,556.0 1206.4,555.5 1207.2,554.7 1207.9,553.5 1208.7,553.9 1209.5,556.5 1210.3,557.9 1211.0,560.4 1211.8,562.1 1212.6,558.5 1213.4,555.5 1214.1,555.9 1214.9,556.0 1215.7,555.5 1216.5,556.4 1217.2,556.6 1218.0,556.4 1218.8,555.0 1219.6,554.6 1220.3,554.0 1221.1,552.5 1221.9,552.7 1222.6,551.1 1223.4,551.1 1224.2,551.4 1225.0,551.4 1225.7,551.0 1226.5,551.9 1227.3,551.0 1228.1,550.0 1228.8,550.4 1229.6,549.5 1230.4,549.0 1231.2,548.2 1231.9,547.7 1232.7,546.3 1233.5,546.2 1234.3,547.8 1235.0,547.6 1235.8,548.0 1236.6,548.7 1237.3,549.2 1238.1,548.8 1238.9,549.4 1239.7,549.5 1240.4,550.5 1241.2,551.0 1242.0,551.7 1242.8,550.9 1243.5,550.7 1244.3,551.0 1245.1,551.0 1245.9,552.3 1246.6,551.4 1247.4,554.1 1248.2,554.4 1249.0,554.6 1249.7,555.4 1250.5,555.9 1251.3,555.1 1252.0,556.4 1252.8,556.0 1253.6,556.4 1254.4,555.8 1255.1,555.2 1255.9,554.7 1256.7,554.9 1257.5,554.7 1258.2,554.6 1259.0,554.5 1259.8,553.8 1260.6,554.1 1261.3,553.0 1262.1,552.7 1262.9,552.7 1263.7,553.5 1264.4,554.5 1265.2,555.4 1266.0,555.7 1266.8,556.0 1267.5,555.7 1268.3,554.5 1269.1,554.1 1269.8,554.0 1270.6,553.5 1271.4,553.8 1272.2,553.5 1272.9,552.2 1273.7,552.0 1274.5,551.5 1275.3,551.1 1276.0,551.3 1276.8,551.9 1277.6,550.7 1278.4,549.5 1279.1,548.1 1279.9,547.8 1280.7,546.5 1281.5,546.8 1282.2,545.8 1283.0,547.5 1283.8,546.1 1284.5,547.7 1285.3,547.9 1286.1,546.6 1286.9,546.1 1287.6,547.8 1288.4,548.6 1289.2,548.2 1290.0,548.8 1290.7,549.2 1291.5,549.2 1292.3,549.6 1293.1,549.2 1293.8,549.1 1294.6,546.7 1295.4,546.1 1296.2,547.4 1296.9,546.1 1297.7,545.7 1298.5,545.4 1299.2,543.4 1300.0,543.1 1300.8,543.1 1301.6,543.6 1302.3,542.6 1303.1,543.6 1303.9,543.7 1304.7,544.4 1305.4,544.9 1306.2,543.7 1307.0,542.7 1307.8,543.7 1308.5,544.2 1309.3,544.8 1310.1,544.5 1310.9,543.9 1311.6,544.3 1312.4,546.6 1313.2,546.6 1313.9,547.5 1314.7,548.3 1315.5,548.8 1316.3,548.1 1317.0,548.6 1317.8,548.0 1318.6,547.3 1319.4,547.4 1320.1,548.7 1320.9,548.7 1321.7,547.4 1322.5,547.1 1323.2,546.5 1324.0,546.3 1324.8,546.0 1325.6,545.2 1326.3,545.3 1327.1,544.7 1327.9,544.1 1328.6,546.5 1329.4,545.3 1330.2,545.4 1331.0,544.2 1331.7,544.2 1332.5,544.6 1333.3,543.3 1334.1,544.1 1334.8,543.2 1335.6,544.3 1336.4,544.6 1337.2,544.1 1337.9,543.6 1338.7,544.8 1339.5,545.8 1340.3,545.1 1341.0,544.1 1341.8,542.9 1342.6,543.4 1343.3,542.0 1344.1,541.8 1344.9,542.1 1345.7,542.9 1346.4,542.0 1347.2,540.9 1348.0,540.5 1348.8,540.3 1349.5,540.1 1350.3,540.4 1351.1,540.5 1351.9,539.2 1352.6,538.4 1353.4,537.5 1354.2,537.1 1355.0,537.6 1355.7,537.9 1356.5,539.3 1357.3,540.1 1358.0,540.0 1358.8,541.9 1359.6,543.3 1360.4,543.6 1361.1,544.1 1361.9,545.3 1362.7,545.8 1363.5,544.7 1364.2,544.6 1365.0,544.4 1365.8,544.3 1366.6,546.0 1367.3,546.1 1368.1,545.5 1368.9,544.6 1369.7,545.2 1370.4,545.1 1371.2,544.2 1372.0,544.1 1372.7,543.9 1373.5,544.7 1374.3,544.4 1375.1,545.4 1375.8,545.2 1376.6,545.5 1377.4,546.5 1378.2,546.1 1378.9,547.2 1379.7,546.0 1380.5,546.0 1381.3,545.3 1382.0,545.2 1382.8,545.8 1383.6,545.7 1384.4,545.6 1385.1,544.3 1385.9,544.9 1386.7,544.1 1387.4,543.2 1388.2,542.5 1389.0,543.1 1389.8,544.2 1390.5,543.1 1391.3,543.2 1392.1,542.5 1392.9,542.0 1393.6,542.6 1394.4,541.7 1395.2,540.5 1396.0,541.9 1396.7,541.3 1397.5,540.9 1398.3,541.1 1399.1,541.4 1399.8,540.8 1400.6,541.3 1401.4,541.9 1402.1,543.4 1402.9,542.7 1403.7,542.9 1404.5,541.8 1405.2,541.4 1406.0,540.5 1406.8,541.1 1407.6,541.6 1408.3,541.6 1409.1,541.2 1409.9,541.0 1410.7,541.1 1411.4,540.9 1412.2,541.7 1413.0,540.8 1413.8,542.0 1414.5,541.7 1415.3,542.0 1416.1,542.1 1416.8,540.5 1417.6,539.6 1418.4,540.7 1419.2,540.3 1419.9,540.1 1420.7,539.8 1421.5,540.6 1422.3,539.7 1423.0,540.2 1423.8,540.9 1424.6,541.6 1425.4,541.2 1426.1,541.4 1426.9,542.4 1427.7,544.3 1428.5,543.2 1429.2,543.4 1430.0,544.0 1430.8,543.2 1431.5,544.6 1432.3,544.6 1433.1,545.3 1433.9,545.2 1434.6,546.3 1435.4,546.0 1436.2,547.1 1437.0,546.9 1437.7,547.8 1438.5,546.7 1439.3,547.1 1440.1,547.4 1440.8,547.5 1441.6,546.6 1442.4,546.0 1443.2,546.5 1443.9,547.3 1444.7,546.8 1445.5,546.6 1446.2,547.4 1447.0,546.2 1447.8,545.2 1448.6,545.7 1449.3,546.2 1450.1,544.5 1450.9,544.1 1451.7,544.0 1452.4,543.8 1453.2,544.3 1454.0,543.4 1454.8,543.2 1455.5,543.2 1456.3,542.3 1457.1,541.7 1457.9,542.4 1458.6,543.0 1459.4,541.4 1460.2,541.3 1461.0,541.4 1461.7,540.1 1462.5,539.5 1463.3,540.3 1464.0,541.3 1464.8,540.9 1465.6,541.4 1466.4,541.1 1467.1,541.1 1467.9,540.3 1468.7,541.9 1469.5,541.4 1470.2,542.2 1471.0,542.7 1471.8,542.0 1472.6,541.3 1473.3,541.8 1474.1,541.8 1474.9,540.8 1475.7,539.7 1476.4,540.8 1477.2,540.7 1478.0,539.3 1478.7,539.8 1479.5,540.3 1480.3,539.8 1481.1,539.7 1481.8,540.5 1482.6,539.4 1483.4,538.8 1484.2,540.0 1484.9,539.1 1485.7,538.9 1486.5,539.1 1487.3,538.0 1488.0,538.1 1488.8,538.5 1489.6,538.2 1490.4,537.6 1491.1,537.4 1491.9,535.9 1492.7,534.9 1493.4,535.2 1494.2,535.2 1495.0,535.0 1495.8,535.4 1496.5,535.2 1497.3,534.9 1498.1,533.6 1498.9,535.0 1499.6,533.9 1500.4,534.2 1501.2,534.5 1502.0,533.9 1502.7,533.9 1503.5,533.6 1504.3,534.8 1505.1,535.4 1505.8,534.4 1506.6,535.4 1507.4,535.5 1508.1,536.0 1508.9,536.3 1509.7,535.3 1510.5,534.6 1511.2,533.1 1512.0,533.5 1512.8,532.9 1513.6,534.1 1514.3,534.6 1515.1,532.7 1515.9,533.2 1516.7,533.5 1517.4,533.8 1518.2,533.3 1519.0,532.4 1519.8,533.1 1520.5,534.1 1521.3,533.4 1522.1,534.4 1522.8,534.1 1523.6,534.0 1524.4,533.3 1525.2,533.4 1525.9,532.9 1526.7,533.5 1527.5,534.2 1528.3,533.6 1529.0,532.8 1529.8,532.6 1530.6,531.5 1531.4,531.0 1532.1,532.4 1532.9,532.1 1533.7,531.7 1534.5,532.3 1535.2,533.4 1536.0,534.8 1536.8,536.7 1537.5,538.3 1538.3,537.9 1539.1,539.2 1539.9,536.9 1540.6,536.3 1541.4,536.9 1542.2,536.4 1543.0,536.1 1543.7,536.2 1544.5,536.9 1545.3,537.6 1546.1,538.6 1546.8,538.6 1547.6,538.9 1548.4,537.3 1549.2,538.2 1549.9,538.0 1550.7,536.7 1551.5,536.2 1552.2,536.2 1553.0,536.2 1553.8,535.6 1554.6,536.0 1555.3,536.5 1556.1,536.7 1556.9,536.7 1557.7,537.3 1558.4,536.5 1559.2,534.7 1560.0,533.6 1560.8,534.3 1561.5,533.9 1562.3,533.8 1563.1,533.2 1563.9,533.8 1564.6,533.9 1565.4,533.4 1566.2,533.6 1566.9,533.0 1567.7,533.9 1568.5,533.0 1569.3,532.8 1570.0,532.7 1570.8,530.5 1571.6,531.6 1572.4,532.1 1573.1,533.7 1573.9,534.5 1574.7,535.4 1575.5,536.3 1576.2,537.6 1577.0,540.3 1577.8,542.6 1578.6,544.9 1579.3,544.0 1580.1,542.6 1580.9,540.7 1581.6,542.0 1582.4,540.8 1583.2,539.1 1584.0,539.8 1584.7,538.7 1585.5,538.7 1586.3,539.1 1587.1,538.9 1587.8,537.3 1588.6,538.2 1589.4,537.9 1590.2,538.4 1590.9,538.0 1591.7,537.6 1592.5,536.7 1593.3,535.8 1594.0,536.1 1594.8,536.2 1595.6,536.2 1596.3,537.3 1597.1,537.3 1597.9,538.9 1598.7,540.4 1599.4,541.4 1600.2,543.0 1601.0,543.0 1601.8,542.4 1602.5,541.6 1603.3,541.0 1604.1,541.9 1604.9,540.2 1605.6,541.0 1606.4,542.0 1607.2,541.7 1608.0,541.2 1608.7,539.6 1609.5,539.8 1610.3,540.4 1611.0,540.8 1611.8,541.0 1612.6,542.3 1613.4,543.8 1614.1,542.9 1614.9,544.1 1615.7,543.3 1616.5,544.1 1617.2,543.8 1618.0,543.5 1618.8,542.7 1619.6,542.7 1620.3,541.8 1621.1,542.2 1621.9,540.9 1622.7,541.8 1623.4,540.2 1624.2,540.3 1625.0,540.5 1625.7,541.4 1626.5,540.9 1627.3,540.7 1628.1,541.3 1628.8,540.6 1629.6,540.2 1630.4,539.6 1631.2,539.8 1631.9,541.1 1632.7,542.6 1633.5,544.4 1634.3,544.7 1635.0,546.2 1635.8,545.7 1636.6,545.4 1637.4,544.1 1638.1,545.3 1638.9,544.4 1639.7,544.3 1640.5,545.9 1641.2,546.5 1642.0,546.7 1642.8,548.6 1643.5,551.3 1644.3,552.4 1645.1,552.4 1645.9,552.9 1646.6,553.6 1647.4,554.0 1648.2,554.8 1649.0,555.3 1649.7,554.2 1650.5,555.3 1651.3,556.5 1652.1,557.4 1652.8,558.7 1653.6,557.7 1654.4,558.3 1655.2,557.2 1655.9,556.7 1656.7,556.3 1657.5,557.0 1658.2,556.0 1659.0,555.5 1659.8,555.6 1660.6,554.4 1661.3,553.6 1662.1,553.8 1662.9,552.3 1663.7,552.7 1664.4,553.4 1665.2,553.5 1666.0,553.2 1666.8,554.0 1667.5,556.7 1668.3,557.8 1669.1,560.0 1669.9,560.4 1670.6,560.1 1671.4,560.4 1672.2,559.8 1672.9,559.8 1673.7,560.3 1674.5,559.3 1675.3,560.2 1676.0,559.4 1676.8,559.5 1677.6,558.7 1678.4,559.0 1679.1,558.0 1679.9,558.9 1680.7,558.8 1681.5,558.7 1682.2,559.7 1683.0,559.5 1683.8,560.1 1684.6,560.4 1685.3,560.7 1686.1,561.9 1686.9,561.6 1687.6,563.0 1688.4,563.1 1689.2,562.2 1690.0,563.0 1690.7,562.9 1691.5,561.4 1692.3,560.4 1693.1,559.8 1693.8,559.7 1694.6,559.1 1695.4,559.4 1696.2,559.3 1696.9,559.1 1697.7,559.5 1698.5,560.0 1699.3,561.1 1700.0,561.6 1700.8,561.4 1701.6,562.6 1702.3,562.7 1703.1,562.7 1703.9,565.2 1704.7,567.9 1705.4,568.3 1706.2,569.2 1707.0,569.4 1707.8,570.1 1708.5,569.0 1709.3,568.4 1710.1,567.3 1710.9,568.2 1711.6,567.0 1712.4,567.5 1713.2,567.1 1714.0,565.6 1714.7,565.1 1715.5,564.1 1716.3,564.5 1717.0,564.3 1717.8,564.5 1718.6,563.4 1719.4,563.7 1720.1,563.1 1720.9,561.9 1721.7,561.4 1722.5,560.9 1723.2,561.6 1724.0,561.5 1724.8,563.3 1725.6,563.3 1726.3,564.1 1727.1,565.4 1727.9,565.8 1728.7,566.1 1729.4,566.0 1730.2,566.3"/>
</g></g>
<g stroke-width="3.6" fill="none" filter="url(#bl)">
<line x1="72.3" y1="56.0" x2="116.0" y2="56.0" stroke="#4C72B0"/>
<line x1="72.3" y1="85.9" x2="116.0" y2="85.9" stroke="#55A868"/>
<line x1="72.3" y1="115.8" x2="116.0" y2="115.8" stroke="#C44E52"/>
<line x1="72.3" y1="146.0" x2="116.0" y2="146.0" stroke="#8172B2"/>
<line x1="72.3" y1="175.8" x2="116.0" y2="175.8" stroke="#CCB974"/>
<line x1="72.3" y1="205.6" x2="116.0" y2="205.6" stroke="#64B5CD"/>
</g>
<g class="t" fill="#262626" stroke="#262626" stroke-width="0.12" filter="url(#bt)">
<text transform="translate(129.4,63.3) scale(1,1.08)" text-anchor="start">group_1</text>
<text transform="translate(129.4,93.4) scale(1,1.08)" text-anchor="start">group_2</text>
<text transform="translate(129.4,123.4) scale(1,1.08)" text-anchor="start">group_3</text>
<text transform="translate(129.4,153.5) scale(1,1.08)" text-anchor="start">group_4</text>
<text transform="translate(129.4,183.6) scale(1,1.08)" text-anchor="start">group_5</text>
<text transform="translate(129.4,213.6) scale(1,1.08)" text-anchor="start">bench</text>
<text transform="translate(42.2,665.9) scale(1,1.08)" text-anchor="end">0</text>
<text transform="translate(42.2,566.6) scale(1,1.08)" text-anchor="end">1</text>
<text transform="translate(42.2,467.3) scale(1,1.08)" text-anchor="end">2</text>
<text transform="translate(42.2,368.0) scale(1,1.08)" text-anchor="end">3</text>
<text transform="translate(42.2,268.7) scale(1,1.08)" text-anchor="end">4</text>
<text transform="translate(42.2,169.4) scale(1,1.08)" text-anchor="end">5</text>
<text transform="translate(42.2,70.1) scale(1,1.08)" text-anchor="end">6</text>
<text transform="translate(55.7,711.6) scale(1,1.08)" text-anchor="middle">2010</text>
<text transform="translate(243.4,711.6) scale(1,1.08)" text-anchor="middle">2011</text>
<text transform="translate(431.7,711.6) scale(1,1.08)" text-anchor="middle">2012</text>
<text transform="translate(619.7,711.6) scale(1,1.08)" text-anchor="middle">2013</text>
<text transform="translate(807.7,711.6) scale(1,1.08)" text-anchor="middle">2014</text>
<text transform="translate(995.5,711.6) scale(1,1.08)" text-anchor="middle">2015</text>
<text transform="translate(1183.4,711.6) scale(1,1.08)" text-anchor="middle">2016</text>
<text transform="translate(1371.5,711.6) scale(1,1.08)" text-anchor="middle">2017</text>
<text transform="translate(1559.8,711.6) scale(1,1.08)" text-anchor="middle">2018</text>
</g>
</svg>
</body></html>
